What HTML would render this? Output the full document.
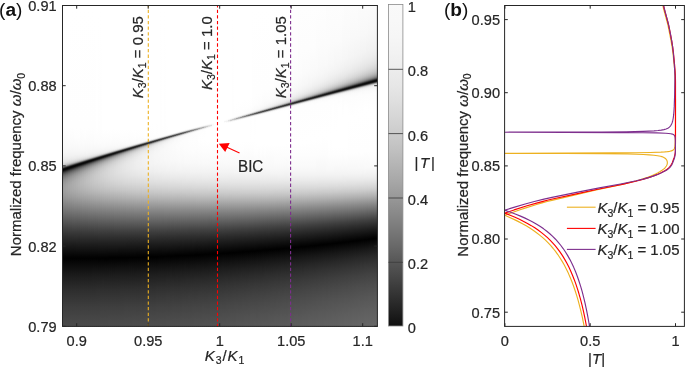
<!DOCTYPE html><html><head><meta charset="utf-8"><title>fig</title>
<style>html,body{margin:0;padding:0;background:#fff;}svg{display:block;will-change:transform;}text{font-family:"Liberation Sans",sans-serif;fill:#262626;stroke:#262626;stroke-width:0.22px;}</style></head><body>
<svg width="685" height="367" viewBox="0 0 685 367">
<defs><linearGradient id="h0" gradientUnits="userSpaceOnUse" x1="0" y1="4" x2="0" y2="328" gradientTransform="translate(63,0) skewY(-18.371) translate(-63,0)"><stop offset=".0015" stop-color="#ffffff"/><stop offset=".3750" stop-color="#fefefe"/><stop offset=".4090" stop-color="#fcfcfc"/><stop offset=".4398" stop-color="#f9f9f9"/><stop offset=".4583" stop-color="#f6f6f6"/><stop offset=".4707" stop-color="#f1f1f1"/><stop offset=".4769" stop-color="#eeeeee"/><stop offset=".4830" stop-color="#e9e9e9"/><stop offset=".4892" stop-color="#e0e0e0"/><stop offset=".4923" stop-color="#d9d9d9"/><stop offset=".4954" stop-color="#cfcfcf"/><stop offset=".4985" stop-color="#bdbdbd"/><stop offset=".5015" stop-color="#9c9c9c"/><stop offset=".5046" stop-color="#5f5f5f"/><stop offset=".5077" stop-color="#1d1d1d"/><stop offset=".5108" stop-color="#040404"/><stop offset=".5139" stop-color="#070707"/><stop offset=".5170" stop-color="#1c1c1c"/><stop offset=".5201" stop-color="#353535"/><stop offset=".5231" stop-color="#4a4a4a"/><stop offset=".5262" stop-color="#595959"/><stop offset=".5293" stop-color="#666666"/><stop offset=".5324" stop-color="#717171"/><stop offset=".5355" stop-color="#797979"/><stop offset=".5417" stop-color="#878787"/><stop offset=".5478" stop-color="#919191"/><stop offset=".5571" stop-color="#999999"/><stop offset=".5664" stop-color="#9d9d9d"/><stop offset=".5725" stop-color="#9d9d9d"/><stop offset=".5818" stop-color="#9b9b9b"/><stop offset=".5941" stop-color="#959595"/><stop offset=".6034" stop-color="#8f8f8f"/><stop offset=".6404" stop-color="#717171"/><stop offset=".6929" stop-color="#424242"/><stop offset=".7083" stop-color="#353535"/><stop offset=".7485" stop-color="#181818"/><stop offset=".7762" stop-color="#060606"/><stop offset=".7855" stop-color="#010101"/><stop offset=".8349" stop-color="#1a1a1a"/><stop offset=".8812" stop-color="#2d2d2d"/><stop offset=".9367" stop-color="#3e3e3e"/><stop offset=".9985" stop-color="#4b4b4b"/></linearGradient>
<linearGradient id="h1" gradientUnits="userSpaceOnUse" x1="0" y1="4" x2="0" y2="328" gradientTransform="translate(65,0) skewY(-18.324) translate(-65,0)"><stop offset=".0015" stop-color="#ffffff"/><stop offset=".3781" stop-color="#fefefe"/><stop offset=".4090" stop-color="#fcfcfc"/><stop offset=".4398" stop-color="#f9f9f9"/><stop offset=".4583" stop-color="#f6f6f6"/><stop offset=".4707" stop-color="#f1f1f1"/><stop offset=".4799" stop-color="#ebebeb"/><stop offset=".4861" stop-color="#e4e4e4"/><stop offset=".4892" stop-color="#dedede"/><stop offset=".4923" stop-color="#d5d5d5"/><stop offset=".4954" stop-color="#c7c7c7"/><stop offset=".4985" stop-color="#adadad"/><stop offset=".5015" stop-color="#7a7a7a"/><stop offset=".5046" stop-color="#333333"/><stop offset=".5077" stop-color="#080808"/><stop offset=".5108" stop-color="#040404"/><stop offset=".5139" stop-color="#151515"/><stop offset=".5170" stop-color="#2f2f2f"/><stop offset=".5201" stop-color="#464646"/><stop offset=".5231" stop-color="#575757"/><stop offset=".5262" stop-color="#656565"/><stop offset=".5293" stop-color="#707070"/><stop offset=".5324" stop-color="#7a7a7a"/><stop offset=".5386" stop-color="#888888"/><stop offset=".5417" stop-color="#8e8e8e"/><stop offset=".5478" stop-color="#969696"/><stop offset=".5571" stop-color="#9d9d9d"/><stop offset=".5664" stop-color="#a0a0a0"/><stop offset=".5725" stop-color="#a0a0a0"/><stop offset=".5818" stop-color="#9d9d9d"/><stop offset=".5910" stop-color="#999999"/><stop offset=".6003" stop-color="#939393"/><stop offset=".6404" stop-color="#727272"/><stop offset=".6929" stop-color="#424242"/><stop offset=".7083" stop-color="#353535"/><stop offset=".7485" stop-color="#181818"/><stop offset=".7762" stop-color="#060606"/><stop offset=".7855" stop-color="#010101"/><stop offset=".8349" stop-color="#1a1a1a"/><stop offset=".8812" stop-color="#2d2d2d"/><stop offset=".9367" stop-color="#3e3e3e"/><stop offset=".9985" stop-color="#4b4b4b"/></linearGradient>
<linearGradient id="h2" gradientUnits="userSpaceOnUse" x1="0" y1="4" x2="0" y2="328" gradientTransform="translate(67,0) skewY(-18.277) translate(-67,0)"><stop offset=".0015" stop-color="#ffffff"/><stop offset=".3781" stop-color="#fefefe"/><stop offset=".4120" stop-color="#fcfcfc"/><stop offset=".4429" stop-color="#f9f9f9"/><stop offset=".4583" stop-color="#f6f6f6"/><stop offset=".4707" stop-color="#f1f1f1"/><stop offset=".4799" stop-color="#eaeaea"/><stop offset=".4861" stop-color="#e2e2e2"/><stop offset=".4892" stop-color="#dbdbdb"/><stop offset=".4923" stop-color="#cfcfcf"/><stop offset=".4954" stop-color="#bcbcbc"/><stop offset=".4985" stop-color="#939393"/><stop offset=".5015" stop-color="#4e4e4e"/><stop offset=".5046" stop-color="#111111"/><stop offset=".5077" stop-color="#030303"/><stop offset=".5108" stop-color="#0e0e0e"/><stop offset=".5170" stop-color="#414141"/><stop offset=".5201" stop-color="#545454"/><stop offset=".5231" stop-color="#636363"/><stop offset=".5262" stop-color="#707070"/><stop offset=".5293" stop-color="#7a7a7a"/><stop offset=".5324" stop-color="#828282"/><stop offset=".5355" stop-color="#898989"/><stop offset=".5386" stop-color="#8f8f8f"/><stop offset=".5448" stop-color="#989898"/><stop offset=".5540" stop-color="#a0a0a0"/><stop offset=".5633" stop-color="#a3a3a3"/><stop offset=".5694" stop-color="#a3a3a3"/><stop offset=".5787" stop-color="#a1a1a1"/><stop offset=".5910" stop-color="#9b9b9b"/><stop offset=".6003" stop-color="#959595"/><stop offset=".6404" stop-color="#737373"/><stop offset=".6929" stop-color="#424242"/><stop offset=".7083" stop-color="#353535"/><stop offset=".7485" stop-color="#181818"/><stop offset=".7762" stop-color="#060606"/><stop offset=".7855" stop-color="#010101"/><stop offset=".8349" stop-color="#1a1a1a"/><stop offset=".8812" stop-color="#2d2d2d"/><stop offset=".9367" stop-color="#3e3e3e"/><stop offset=".9985" stop-color="#4b4b4b"/></linearGradient>
<linearGradient id="h3" gradientUnits="userSpaceOnUse" x1="0" y1="4" x2="0" y2="328" gradientTransform="translate(69,0) skewY(-18.230) translate(-69,0)"><stop offset=".0015" stop-color="#ffffff"/><stop offset=".3781" stop-color="#fefefe"/><stop offset=".4090" stop-color="#fdfdfd"/><stop offset=".4367" stop-color="#fafafa"/><stop offset=".4552" stop-color="#f6f6f6"/><stop offset=".4676" stop-color="#f2f2f2"/><stop offset=".4769" stop-color="#ededed"/><stop offset=".4830" stop-color="#e5e5e5"/><stop offset=".4861" stop-color="#dfdfdf"/><stop offset=".4892" stop-color="#d6d6d6"/><stop offset=".4923" stop-color="#c7c7c7"/><stop offset=".4954" stop-color="#a8a8a8"/><stop offset=".4985" stop-color="#6c6c6c"/><stop offset=".5015" stop-color="#232323"/><stop offset=".5046" stop-color="#050505"/><stop offset=".5077" stop-color="#090909"/><stop offset=".5108" stop-color="#202020"/><stop offset=".5139" stop-color="#3c3c3c"/><stop offset=".5170" stop-color="#515151"/><stop offset=".5201" stop-color="#626262"/><stop offset=".5231" stop-color="#6f6f6f"/><stop offset=".5262" stop-color="#7a7a7a"/><stop offset=".5293" stop-color="#838383"/><stop offset=".5355" stop-color="#919191"/><stop offset=".5417" stop-color="#9a9a9a"/><stop offset=".5509" stop-color="#a2a2a2"/><stop offset=".5602" stop-color="#a6a6a6"/><stop offset=".5664" stop-color="#a6a6a6"/><stop offset=".5756" stop-color="#a4a4a4"/><stop offset=".5849" stop-color="#a0a0a0"/><stop offset=".5972" stop-color="#999999"/><stop offset=".6373" stop-color="#767676"/><stop offset=".6929" stop-color="#434343"/><stop offset=".7083" stop-color="#363636"/><stop offset=".7485" stop-color="#181818"/><stop offset=".7762" stop-color="#060606"/><stop offset=".7855" stop-color="#010101"/><stop offset=".8349" stop-color="#1a1a1a"/><stop offset=".8812" stop-color="#2d2d2d"/><stop offset=".9367" stop-color="#3e3e3e"/><stop offset=".9985" stop-color="#4b4b4b"/></linearGradient>
<linearGradient id="h4" gradientUnits="userSpaceOnUse" x1="0" y1="4" x2="0" y2="328" gradientTransform="translate(71,0) skewY(-18.183) translate(-71,0)"><stop offset=".0015" stop-color="#ffffff"/><stop offset=".3781" stop-color="#fefefe"/><stop offset=".4120" stop-color="#fcfcfc"/><stop offset=".4398" stop-color="#f9f9f9"/><stop offset=".4552" stop-color="#f6f6f6"/><stop offset=".4676" stop-color="#f2f2f2"/><stop offset=".4738" stop-color="#eeeeee"/><stop offset=".4799" stop-color="#e8e8e8"/><stop offset=".4830" stop-color="#e3e3e3"/><stop offset=".4861" stop-color="#dcdcdc"/><stop offset=".4892" stop-color="#d0d0d0"/><stop offset=".4923" stop-color="#b9b9b9"/><stop offset=".4954" stop-color="#888888"/><stop offset=".4985" stop-color="#3c3c3c"/><stop offset=".5015" stop-color="#0a0a0a"/><stop offset=".5046" stop-color="#050505"/><stop offset=".5077" stop-color="#181818"/><stop offset=".5108" stop-color="#353535"/><stop offset=".5139" stop-color="#4d4d4d"/><stop offset=".5170" stop-color="#5f5f5f"/><stop offset=".5201" stop-color="#6e6e6e"/><stop offset=".5231" stop-color="#7a7a7a"/><stop offset=".5262" stop-color="#838383"/><stop offset=".5293" stop-color="#8b8b8b"/><stop offset=".5324" stop-color="#929292"/><stop offset=".5355" stop-color="#979797"/><stop offset=".5417" stop-color="#9f9f9f"/><stop offset=".5509" stop-color="#a6a6a6"/><stop offset=".5602" stop-color="#a9a9a9"/><stop offset=".5664" stop-color="#a9a9a9"/><stop offset=".5756" stop-color="#a7a7a7"/><stop offset=".5849" stop-color="#a2a2a2"/><stop offset=".5972" stop-color="#9a9a9a"/><stop offset=".6373" stop-color="#777777"/><stop offset=".6929" stop-color="#434343"/><stop offset=".7083" stop-color="#363636"/><stop offset=".7485" stop-color="#181818"/><stop offset=".7762" stop-color="#060606"/><stop offset=".7855" stop-color="#010101"/><stop offset=".8349" stop-color="#1a1a1a"/><stop offset=".8812" stop-color="#2d2d2d"/><stop offset=".9367" stop-color="#3e3e3e"/><stop offset=".9985" stop-color="#4c4c4c"/></linearGradient>
<linearGradient id="h5" gradientUnits="userSpaceOnUse" x1="0" y1="4" x2="0" y2="328" gradientTransform="translate(73,0) skewY(-18.136) translate(-73,0)"><stop offset=".0015" stop-color="#ffffff"/><stop offset=".3781" stop-color="#fefefe"/><stop offset=".4120" stop-color="#fcfcfc"/><stop offset=".4398" stop-color="#f9f9f9"/><stop offset=".4552" stop-color="#f6f6f6"/><stop offset=".4676" stop-color="#f2f2f2"/><stop offset=".4769" stop-color="#ebebeb"/><stop offset=".4799" stop-color="#e7e7e7"/><stop offset=".4830" stop-color="#e1e1e1"/><stop offset=".4861" stop-color="#d7d7d7"/><stop offset=".4892" stop-color="#c6c6c6"/><stop offset=".4923" stop-color="#a1a1a1"/><stop offset=".4985" stop-color="#161616"/><stop offset=".5015" stop-color="#040404"/><stop offset=".5046" stop-color="#101010"/><stop offset=".5108" stop-color="#484848"/><stop offset=".5139" stop-color="#5d5d5d"/><stop offset=".5170" stop-color="#6c6c6c"/><stop offset=".5201" stop-color="#797979"/><stop offset=".5231" stop-color="#838383"/><stop offset=".5262" stop-color="#8c8c8c"/><stop offset=".5293" stop-color="#939393"/><stop offset=".5324" stop-color="#999999"/><stop offset=".5386" stop-color="#a1a1a1"/><stop offset=".5478" stop-color="#a9a9a9"/><stop offset=".5571" stop-color="#acacac"/><stop offset=".5664" stop-color="#ababab"/><stop offset=".5756" stop-color="#a9a9a9"/><stop offset=".5849" stop-color="#a4a4a4"/><stop offset=".5972" stop-color="#9c9c9c"/><stop offset=".6373" stop-color="#787878"/><stop offset=".7052" stop-color="#393939"/><stop offset=".7454" stop-color="#1a1a1a"/><stop offset=".7762" stop-color="#060606"/><stop offset=".7855" stop-color="#010101"/><stop offset=".8349" stop-color="#1a1a1a"/><stop offset=".8812" stop-color="#2d2d2d"/><stop offset=".9367" stop-color="#3e3e3e"/><stop offset=".9985" stop-color="#4c4c4c"/></linearGradient>
<linearGradient id="h6" gradientUnits="userSpaceOnUse" x1="0" y1="4" x2="0" y2="328" gradientTransform="translate(75,0) skewY(-18.088) translate(-75,0)"><stop offset=".0015" stop-color="#ffffff"/><stop offset=".3781" stop-color="#fefefe"/><stop offset=".4090" stop-color="#fdfdfd"/><stop offset=".4336" stop-color="#fafafa"/><stop offset=".4522" stop-color="#f7f7f7"/><stop offset=".4645" stop-color="#f3f3f3"/><stop offset=".4738" stop-color="#ededed"/><stop offset=".4769" stop-color="#eaeaea"/><stop offset=".4799" stop-color="#e5e5e5"/><stop offset=".4830" stop-color="#dddddd"/><stop offset=".4861" stop-color="#d0d0d0"/><stop offset=".4892" stop-color="#b5b5b5"/><stop offset=".4923" stop-color="#7a7a7a"/><stop offset=".4954" stop-color="#2b2b2b"/><stop offset=".4985" stop-color="#060606"/><stop offset=".5015" stop-color="#090909"/><stop offset=".5046" stop-color="#242424"/><stop offset=".5077" stop-color="#424242"/><stop offset=".5108" stop-color="#595959"/><stop offset=".5139" stop-color="#6a6a6a"/><stop offset=".5170" stop-color="#787878"/><stop offset=".5201" stop-color="#838383"/><stop offset=".5231" stop-color="#8d8d8d"/><stop offset=".5262" stop-color="#949494"/><stop offset=".5293" stop-color="#9a9a9a"/><stop offset=".5355" stop-color="#a3a3a3"/><stop offset=".5448" stop-color="#ababab"/><stop offset=".5540" stop-color="#aeaeae"/><stop offset=".5633" stop-color="#aeaeae"/><stop offset=".5725" stop-color="#acacac"/><stop offset=".5818" stop-color="#a7a7a7"/><stop offset=".5941" stop-color="#9f9f9f"/><stop offset=".6127" stop-color="#909090"/><stop offset=".7052" stop-color="#393939"/><stop offset=".7454" stop-color="#1a1a1a"/><stop offset=".7762" stop-color="#060606"/><stop offset=".7855" stop-color="#010101"/><stop offset=".8349" stop-color="#1a1a1a"/><stop offset=".8812" stop-color="#2d2d2d"/><stop offset=".9367" stop-color="#3e3e3e"/><stop offset=".9985" stop-color="#4c4c4c"/></linearGradient>
<linearGradient id="h7" gradientUnits="userSpaceOnUse" x1="0" y1="4" x2="0" y2="328" gradientTransform="translate(77,0) skewY(-18.041) translate(-77,0)"><stop offset=".0015" stop-color="#ffffff"/><stop offset=".3781" stop-color="#fefefe"/><stop offset=".4120" stop-color="#fdfdfd"/><stop offset=".4336" stop-color="#fafafa"/><stop offset=".4522" stop-color="#f7f7f7"/><stop offset=".4645" stop-color="#f3f3f3"/><stop offset=".4738" stop-color="#ececec"/><stop offset=".4769" stop-color="#e8e8e8"/><stop offset=".4799" stop-color="#e2e2e2"/><stop offset=".4830" stop-color="#d8d8d8"/><stop offset=".4861" stop-color="#c4c4c4"/><stop offset=".4892" stop-color="#979797"/><stop offset=".4923" stop-color="#484848"/><stop offset=".4954" stop-color="#0d0d0d"/><stop offset=".4985" stop-color="#060606"/><stop offset=".5015" stop-color="#1a1a1a"/><stop offset=".5046" stop-color="#3b3b3b"/><stop offset=".5077" stop-color="#555555"/><stop offset=".5108" stop-color="#686868"/><stop offset=".5139" stop-color="#777777"/><stop offset=".5170" stop-color="#838383"/><stop offset=".5201" stop-color="#8d8d8d"/><stop offset=".5231" stop-color="#959595"/><stop offset=".5262" stop-color="#9b9b9b"/><stop offset=".5324" stop-color="#a5a5a5"/><stop offset=".5417" stop-color="#adadad"/><stop offset=".5509" stop-color="#b1b1b1"/><stop offset=".5602" stop-color="#b1b1b1"/><stop offset=".5725" stop-color="#aeaeae"/><stop offset=".5818" stop-color="#a9a9a9"/><stop offset=".5941" stop-color="#a1a1a1"/><stop offset=".6096" stop-color="#939393"/><stop offset=".6929" stop-color="#444444"/><stop offset=".7052" stop-color="#393939"/><stop offset=".7454" stop-color="#1b1b1b"/><stop offset=".7762" stop-color="#060606"/><stop offset=".7855" stop-color="#010101"/><stop offset=".8349" stop-color="#1a1a1a"/><stop offset=".8812" stop-color="#2d2d2d"/><stop offset=".9367" stop-color="#3e3e3e"/><stop offset=".9985" stop-color="#4c4c4c"/></linearGradient>
<linearGradient id="h8" gradientUnits="userSpaceOnUse" x1="0" y1="4" x2="0" y2="328" gradientTransform="translate(79,0) skewY(-17.994) translate(-79,0)"><stop offset=".0015" stop-color="#ffffff"/><stop offset=".3812" stop-color="#fefefe"/><stop offset=".4120" stop-color="#fdfdfd"/><stop offset=".4367" stop-color="#fafafa"/><stop offset=".4522" stop-color="#f7f7f7"/><stop offset=".4645" stop-color="#f3f3f3"/><stop offset=".4707" stop-color="#eeeeee"/><stop offset=".4738" stop-color="#ebebeb"/><stop offset=".4769" stop-color="#e6e6e6"/><stop offset=".4799" stop-color="#dedede"/><stop offset=".4830" stop-color="#d0d0d0"/><stop offset=".4861" stop-color="#afafaf"/><stop offset=".4892" stop-color="#6a6a6a"/><stop offset=".4923" stop-color="#1c1c1c"/><stop offset=".4954" stop-color="#050505"/><stop offset=".4985" stop-color="#111111"/><stop offset=".5015" stop-color="#323232"/><stop offset=".5046" stop-color="#505050"/><stop offset=".5077" stop-color="#656565"/><stop offset=".5108" stop-color="#757575"/><stop offset=".5139" stop-color="#828282"/><stop offset=".5170" stop-color="#8d8d8d"/><stop offset=".5201" stop-color="#969696"/><stop offset=".5231" stop-color="#9c9c9c"/><stop offset=".5262" stop-color="#a2a2a2"/><stop offset=".5324" stop-color="#aaaaaa"/><stop offset=".5417" stop-color="#b1b1b1"/><stop offset=".5509" stop-color="#b4b4b4"/><stop offset=".5602" stop-color="#b4b4b4"/><stop offset=".5725" stop-color="#b0b0b0"/><stop offset=".5818" stop-color="#ababab"/><stop offset=".5941" stop-color="#a2a2a2"/><stop offset=".6065" stop-color="#979797"/><stop offset=".6929" stop-color="#444444"/><stop offset=".7052" stop-color="#393939"/><stop offset=".7238" stop-color="#2a2a2a"/><stop offset=".7454" stop-color="#1b1b1b"/><stop offset=".7762" stop-color="#060606"/><stop offset=".7855" stop-color="#010101"/><stop offset=".8349" stop-color="#1a1a1a"/><stop offset=".8812" stop-color="#2d2d2d"/><stop offset=".9367" stop-color="#3e3e3e"/><stop offset=".9985" stop-color="#4c4c4c"/></linearGradient>
<linearGradient id="h9" gradientUnits="userSpaceOnUse" x1="0" y1="4" x2="0" y2="328" gradientTransform="translate(81,0) skewY(-17.947) translate(-81,0)"><stop offset=".0015" stop-color="#ffffff"/><stop offset=".3781" stop-color="#fefefe"/><stop offset=".4275" stop-color="#fbfbfb"/><stop offset=".4491" stop-color="#f8f8f8"/><stop offset=".4614" stop-color="#f4f4f4"/><stop offset=".4707" stop-color="#eeeeee"/><stop offset=".4738" stop-color="#e9e9e9"/><stop offset=".4769" stop-color="#e3e3e3"/><stop offset=".4799" stop-color="#d9d9d9"/><stop offset=".4830" stop-color="#c1c1c1"/><stop offset=".4861" stop-color="#8a8a8a"/><stop offset=".4892" stop-color="#353535"/><stop offset=".4923" stop-color="#080808"/><stop offset=".4954" stop-color="#0a0a0a"/><stop offset=".4985" stop-color="#272727"/><stop offset=".5015" stop-color="#494949"/><stop offset=".5046" stop-color="#616161"/><stop offset=".5077" stop-color="#737373"/><stop offset=".5108" stop-color="#828282"/><stop offset=".5139" stop-color="#8d8d8d"/><stop offset=".5170" stop-color="#969696"/><stop offset=".5201" stop-color="#9d9d9d"/><stop offset=".5231" stop-color="#a3a3a3"/><stop offset=".5293" stop-color="#acacac"/><stop offset=".5386" stop-color="#b4b4b4"/><stop offset=".5478" stop-color="#b7b7b7"/><stop offset=".5571" stop-color="#b7b7b7"/><stop offset=".5694" stop-color="#b3b3b3"/><stop offset=".5787" stop-color="#aeaeae"/><stop offset=".5910" stop-color="#a6a6a6"/><stop offset=".6065" stop-color="#989898"/><stop offset=".6929" stop-color="#454545"/><stop offset=".7052" stop-color="#393939"/><stop offset=".7238" stop-color="#2b2b2b"/><stop offset=".7454" stop-color="#1b1b1b"/><stop offset=".7762" stop-color="#060606"/><stop offset=".7855" stop-color="#010101"/><stop offset=".8349" stop-color="#1a1a1a"/><stop offset=".8812" stop-color="#2d2d2d"/><stop offset=".9367" stop-color="#3e3e3e"/><stop offset=".9985" stop-color="#4c4c4c"/></linearGradient>
<linearGradient id="h10" gradientUnits="userSpaceOnUse" x1="0" y1="4" x2="0" y2="328" gradientTransform="translate(83,0) skewY(-17.899) translate(-83,0)"><stop offset=".0015" stop-color="#ffffff"/><stop offset=".3812" stop-color="#fefefe"/><stop offset=".4306" stop-color="#fbfbfb"/><stop offset=".4491" stop-color="#f8f8f8"/><stop offset=".4614" stop-color="#f4f4f4"/><stop offset=".4676" stop-color="#f0f0f0"/><stop offset=".4707" stop-color="#ececec"/><stop offset=".4738" stop-color="#e7e7e7"/><stop offset=".4769" stop-color="#dfdfdf"/><stop offset=".4799" stop-color="#cfcfcf"/><stop offset=".4830" stop-color="#a7a7a7"/><stop offset=".4861" stop-color="#575757"/><stop offset=".4892" stop-color="#111111"/><stop offset=".4923" stop-color="#060606"/><stop offset=".4954" stop-color="#1d1d1d"/><stop offset=".4985" stop-color="#404040"/><stop offset=".5015" stop-color="#5d5d5d"/><stop offset=".5046" stop-color="#717171"/><stop offset=".5077" stop-color="#808080"/><stop offset=".5108" stop-color="#8d8d8d"/><stop offset=".5139" stop-color="#969696"/><stop offset=".5170" stop-color="#9e9e9e"/><stop offset=".5201" stop-color="#a5a5a5"/><stop offset=".5262" stop-color="#aeaeae"/><stop offset=".5355" stop-color="#b6b6b6"/><stop offset=".5448" stop-color="#b9b9b9"/><stop offset=".5540" stop-color="#b9b9b9"/><stop offset=".5664" stop-color="#b6b6b6"/><stop offset=".5787" stop-color="#b0b0b0"/><stop offset=".5910" stop-color="#a7a7a7"/><stop offset=".6065" stop-color="#9a9a9a"/><stop offset=".6929" stop-color="#454545"/><stop offset=".7052" stop-color="#3a3a3a"/><stop offset=".7238" stop-color="#2b2b2b"/><stop offset=".7454" stop-color="#1b1b1b"/><stop offset=".7762" stop-color="#060606"/><stop offset=".7855" stop-color="#010101"/><stop offset=".8349" stop-color="#1a1a1a"/><stop offset=".8812" stop-color="#2d2d2d"/><stop offset=".9367" stop-color="#3e3e3e"/><stop offset=".9985" stop-color="#4c4c4c"/></linearGradient>
<linearGradient id="h11" gradientUnits="userSpaceOnUse" x1="0" y1="4" x2="0" y2="328" gradientTransform="translate(85,0) skewY(-17.852) translate(-85,0)"><stop offset=".0015" stop-color="#ffffff"/><stop offset=".3812" stop-color="#fefefe"/><stop offset=".4120" stop-color="#fdfdfd"/><stop offset=".4336" stop-color="#fafafa"/><stop offset=".4522" stop-color="#f7f7f7"/><stop offset=".4614" stop-color="#f3f3f3"/><stop offset=".4676" stop-color="#efefef"/><stop offset=".4707" stop-color="#ebebeb"/><stop offset=".4738" stop-color="#e4e4e4"/><stop offset=".4769" stop-color="#d9d9d9"/><stop offset=".4799" stop-color="#bdbdbd"/><stop offset=".4830" stop-color="#7b7b7b"/><stop offset=".4861" stop-color="#252525"/><stop offset=".4892" stop-color="#060606"/><stop offset=".4923" stop-color="#131313"/><stop offset=".4954" stop-color="#363636"/><stop offset=".4985" stop-color="#575757"/><stop offset=".5015" stop-color="#6e6e6e"/><stop offset=".5046" stop-color="#7f7f7f"/><stop offset=".5077" stop-color="#8c8c8c"/><stop offset=".5108" stop-color="#969696"/><stop offset=".5139" stop-color="#9f9f9f"/><stop offset=".5170" stop-color="#a6a6a6"/><stop offset=".5201" stop-color="#ababab"/><stop offset=".5262" stop-color="#b3b3b3"/><stop offset=".5355" stop-color="#bababa"/><stop offset=".5448" stop-color="#bcbcbc"/><stop offset=".5540" stop-color="#bcbcbc"/><stop offset=".5664" stop-color="#b8b8b8"/><stop offset=".5756" stop-color="#b3b3b3"/><stop offset=".5880" stop-color="#ababab"/><stop offset=".6034" stop-color="#9d9d9d"/><stop offset=".6929" stop-color="#454545"/><stop offset=".7052" stop-color="#3a3a3a"/><stop offset=".7238" stop-color="#2b2b2b"/><stop offset=".7454" stop-color="#1b1b1b"/><stop offset=".7762" stop-color="#060606"/><stop offset=".7855" stop-color="#010101"/><stop offset=".8349" stop-color="#1a1a1a"/><stop offset=".8812" stop-color="#2d2d2d"/><stop offset=".9367" stop-color="#3e3e3e"/><stop offset=".9985" stop-color="#4c4c4c"/></linearGradient>
<linearGradient id="h12" gradientUnits="userSpaceOnUse" x1="0" y1="4" x2="0" y2="328" gradientTransform="translate(87,0) skewY(-17.805) translate(-87,0)"><stop offset=".0015" stop-color="#ffffff"/><stop offset=".3812" stop-color="#fefefe"/><stop offset=".4275" stop-color="#fbfbfb"/><stop offset=".4460" stop-color="#f8f8f8"/><stop offset=".4583" stop-color="#f5f5f5"/><stop offset=".4645" stop-color="#f1f1f1"/><stop offset=".4676" stop-color="#eeeeee"/><stop offset=".4707" stop-color="#e9e9e9"/><stop offset=".4738" stop-color="#e0e0e0"/><stop offset=".4769" stop-color="#cdcdcd"/><stop offset=".4799" stop-color="#9c9c9c"/><stop offset=".4830" stop-color="#434343"/><stop offset=".4861" stop-color="#0a0a0a"/><stop offset=".4892" stop-color="#0b0b0b"/><stop offset=".4923" stop-color="#2b2b2b"/><stop offset=".4954" stop-color="#505050"/><stop offset=".4985" stop-color="#6a6a6a"/><stop offset=".5015" stop-color="#7d7d7d"/><stop offset=".5046" stop-color="#8b8b8b"/><stop offset=".5077" stop-color="#969696"/><stop offset=".5108" stop-color="#9f9f9f"/><stop offset=".5139" stop-color="#a7a7a7"/><stop offset=".5170" stop-color="#acacac"/><stop offset=".5231" stop-color="#b5b5b5"/><stop offset=".5324" stop-color="#bcbcbc"/><stop offset=".5417" stop-color="#bfbfbf"/><stop offset=".5509" stop-color="#bfbfbf"/><stop offset=".5633" stop-color="#bbbbbb"/><stop offset=".5756" stop-color="#b5b5b5"/><stop offset=".5849" stop-color="#aeaeae"/><stop offset=".6034" stop-color="#9e9e9e"/><stop offset=".6929" stop-color="#454545"/><stop offset=".7052" stop-color="#3a3a3a"/><stop offset=".7238" stop-color="#2b2b2b"/><stop offset=".7454" stop-color="#1b1b1b"/><stop offset=".7762" stop-color="#060606"/><stop offset=".7855" stop-color="#010101"/><stop offset=".8349" stop-color="#1a1a1a"/><stop offset=".8812" stop-color="#2d2d2d"/><stop offset=".9367" stop-color="#3e3e3e"/><stop offset=".9985" stop-color="#4c4c4c"/></linearGradient>
<linearGradient id="h13" gradientUnits="userSpaceOnUse" x1="0" y1="4" x2="0" y2="328" gradientTransform="translate(89,0) skewY(-17.757) translate(-89,0)"><stop offset=".0015" stop-color="#ffffff"/><stop offset=".3812" stop-color="#fefefe"/><stop offset=".4275" stop-color="#fbfbfb"/><stop offset=".4460" stop-color="#f8f8f8"/><stop offset=".4583" stop-color="#f4f4f4"/><stop offset=".4645" stop-color="#f0f0f0"/><stop offset=".4676" stop-color="#ececec"/><stop offset=".4707" stop-color="#e6e6e6"/><stop offset=".4738" stop-color="#d9d9d9"/><stop offset=".4769" stop-color="#b6b6b6"/><stop offset=".4799" stop-color="#696969"/><stop offset=".4830" stop-color="#171717"/><stop offset=".4861" stop-color="#070707"/><stop offset=".4892" stop-color="#1f1f1f"/><stop offset=".4923" stop-color="#464646"/><stop offset=".4954" stop-color="#656565"/><stop offset=".4985" stop-color="#7a7a7a"/><stop offset=".5015" stop-color="#8a8a8a"/><stop offset=".5046" stop-color="#969696"/><stop offset=".5077" stop-color="#a0a0a0"/><stop offset=".5108" stop-color="#a7a7a7"/><stop offset=".5139" stop-color="#aeaeae"/><stop offset=".5201" stop-color="#b7b7b7"/><stop offset=".5293" stop-color="#bebebe"/><stop offset=".5386" stop-color="#c1c1c1"/><stop offset=".5478" stop-color="#c1c1c1"/><stop offset=".5602" stop-color="#bebebe"/><stop offset=".5725" stop-color="#b8b8b8"/><stop offset=".5818" stop-color="#b2b2b2"/><stop offset=".6034" stop-color="#9f9f9f"/><stop offset=".6929" stop-color="#464646"/><stop offset=".7052" stop-color="#3a3a3a"/><stop offset=".7238" stop-color="#2b2b2b"/><stop offset=".7454" stop-color="#1b1b1b"/><stop offset=".7762" stop-color="#060606"/><stop offset=".7855" stop-color="#010101"/><stop offset=".8349" stop-color="#1a1a1a"/><stop offset=".8812" stop-color="#2d2d2d"/><stop offset=".9367" stop-color="#3e3e3e"/><stop offset=".9985" stop-color="#4c4c4c"/></linearGradient>
<linearGradient id="h14" gradientUnits="userSpaceOnUse" x1="0" y1="4" x2="0" y2="328" gradientTransform="translate(91,0) skewY(-17.710) translate(-91,0)"><stop offset=".0015" stop-color="#ffffff"/><stop offset=".3812" stop-color="#fefefe"/><stop offset=".4306" stop-color="#fbfbfb"/><stop offset=".4491" stop-color="#f8f8f8"/><stop offset=".4583" stop-color="#f4f4f4"/><stop offset=".4645" stop-color="#efefef"/><stop offset=".4676" stop-color="#eaeaea"/><stop offset=".4707" stop-color="#e1e1e1"/><stop offset=".4738" stop-color="#cacaca"/><stop offset=".4769" stop-color="#8e8e8e"/><stop offset=".4799" stop-color="#313131"/><stop offset=".4830" stop-color="#070707"/><stop offset=".4861" stop-color="#131313"/><stop offset=".4892" stop-color="#3b3b3b"/><stop offset=".4923" stop-color="#5e5e5e"/><stop offset=".4954" stop-color="#777777"/><stop offset=".4985" stop-color="#888888"/><stop offset=".5015" stop-color="#959595"/><stop offset=".5046" stop-color="#a0a0a0"/><stop offset=".5077" stop-color="#a8a8a8"/><stop offset=".5108" stop-color="#afafaf"/><stop offset=".5170" stop-color="#b8b8b8"/><stop offset=".5262" stop-color="#c0c0c0"/><stop offset=".5355" stop-color="#c3c3c3"/><stop offset=".5448" stop-color="#c4c4c4"/><stop offset=".5571" stop-color="#c1c1c1"/><stop offset=".5694" stop-color="#bbbbbb"/><stop offset=".5818" stop-color="#b3b3b3"/><stop offset=".6034" stop-color="#a0a0a0"/><stop offset=".6929" stop-color="#464646"/><stop offset=".7052" stop-color="#3a3a3a"/><stop offset=".7238" stop-color="#2b2b2b"/><stop offset=".7454" stop-color="#1b1b1b"/><stop offset=".7762" stop-color="#060606"/><stop offset=".7855" stop-color="#010101"/><stop offset=".8349" stop-color="#1a1a1a"/><stop offset=".8812" stop-color="#2d2d2d"/><stop offset=".9367" stop-color="#3e3e3e"/><stop offset=".9985" stop-color="#4c4c4c"/></linearGradient>
<linearGradient id="h15" gradientUnits="userSpaceOnUse" x1="0" y1="4" x2="0" y2="328" gradientTransform="translate(93,0) skewY(-17.663) translate(-93,0)"><stop offset=".0015" stop-color="#ffffff"/><stop offset=".3812" stop-color="#fefefe"/><stop offset=".4275" stop-color="#fbfbfb"/><stop offset=".4460" stop-color="#f8f8f8"/><stop offset=".4552" stop-color="#f5f5f5"/><stop offset=".4614" stop-color="#f1f1f1"/><stop offset=".4645" stop-color="#ededed"/><stop offset=".4676" stop-color="#e7e7e7"/><stop offset=".4707" stop-color="#d8d8d8"/><stop offset=".4738" stop-color="#adadad"/><stop offset=".4769" stop-color="#555555"/><stop offset=".4799" stop-color="#0f0f0f"/><stop offset=".4830" stop-color="#0b0b0b"/><stop offset=".4861" stop-color="#2e2e2e"/><stop offset=".4892" stop-color="#565656"/><stop offset=".4923" stop-color="#727272"/><stop offset=".4954" stop-color="#868686"/><stop offset=".4985" stop-color="#949494"/><stop offset=".5015" stop-color="#a0a0a0"/><stop offset=".5046" stop-color="#a9a9a9"/><stop offset=".5077" stop-color="#b0b0b0"/><stop offset=".5108" stop-color="#b5b5b5"/><stop offset=".5170" stop-color="#bdbdbd"/><stop offset=".5262" stop-color="#c4c4c4"/><stop offset=".5355" stop-color="#c6c6c6"/><stop offset=".5448" stop-color="#c6c6c6"/><stop offset=".5571" stop-color="#c3c3c3"/><stop offset=".5694" stop-color="#bdbdbd"/><stop offset=".5818" stop-color="#b4b4b4"/><stop offset=".6034" stop-color="#a1a1a1"/><stop offset=".6929" stop-color="#464646"/><stop offset=".7052" stop-color="#3a3a3a"/><stop offset=".7238" stop-color="#2b2b2b"/><stop offset=".7454" stop-color="#1b1b1b"/><stop offset=".7762" stop-color="#060606"/><stop offset=".7855" stop-color="#010101"/><stop offset=".8349" stop-color="#1b1b1b"/><stop offset=".8812" stop-color="#2d2d2d"/><stop offset=".9367" stop-color="#3e3e3e"/><stop offset=".9985" stop-color="#4c4c4c"/></linearGradient>
<linearGradient id="h16" gradientUnits="userSpaceOnUse" x1="0" y1="4" x2="0" y2="328" gradientTransform="translate(95,0) skewY(-17.615) translate(-95,0)"><stop offset=".0015" stop-color="#ffffff"/><stop offset=".3843" stop-color="#fefefe"/><stop offset=".4275" stop-color="#fcfcfc"/><stop offset=".4460" stop-color="#f8f8f8"/><stop offset=".4552" stop-color="#f5f5f5"/><stop offset=".4614" stop-color="#f0f0f0"/><stop offset=".4645" stop-color="#ebebeb"/><stop offset=".4676" stop-color="#e1e1e1"/><stop offset=".4707" stop-color="#c5c5c5"/><stop offset=".4738" stop-color="#7d7d7d"/><stop offset=".4769" stop-color="#212121"/><stop offset=".4799" stop-color="#080808"/><stop offset=".4830" stop-color="#202020"/><stop offset=".4861" stop-color="#4c4c4c"/><stop offset=".4892" stop-color="#6d6d6d"/><stop offset=".4923" stop-color="#838383"/><stop offset=".4954" stop-color="#939393"/><stop offset=".4985" stop-color="#9f9f9f"/><stop offset=".5015" stop-color="#a9a9a9"/><stop offset=".5046" stop-color="#b0b0b0"/><stop offset=".5108" stop-color="#bbbbbb"/><stop offset=".5139" stop-color="#bfbfbf"/><stop offset=".5201" stop-color="#c4c4c4"/><stop offset=".5262" stop-color="#c7c7c7"/><stop offset=".5324" stop-color="#c9c9c9"/><stop offset=".5417" stop-color="#c9c9c9"/><stop offset=".5540" stop-color="#c6c6c6"/><stop offset=".5664" stop-color="#c0c0c0"/><stop offset=".5787" stop-color="#b8b8b8"/><stop offset=".6034" stop-color="#a2a2a2"/><stop offset=".6620" stop-color="#656565"/><stop offset=".7052" stop-color="#3b3b3b"/><stop offset=".7238" stop-color="#2b2b2b"/><stop offset=".7454" stop-color="#1b1b1b"/><stop offset=".7762" stop-color="#060606"/><stop offset=".7855" stop-color="#010101"/><stop offset=".8349" stop-color="#1b1b1b"/><stop offset=".8812" stop-color="#2d2d2d"/><stop offset=".9367" stop-color="#3e3e3e"/><stop offset=".9985" stop-color="#4c4c4c"/></linearGradient>
<linearGradient id="h17" gradientUnits="userSpaceOnUse" x1="0" y1="4" x2="0" y2="328" gradientTransform="translate(97,0) skewY(-17.568) translate(-97,0)"><stop offset=".0015" stop-color="#ffffff"/><stop offset=".3812" stop-color="#ffffff"/><stop offset=".4244" stop-color="#fcfcfc"/><stop offset=".4429" stop-color="#f9f9f9"/><stop offset=".4522" stop-color="#f6f6f6"/><stop offset=".4583" stop-color="#f2f2f2"/><stop offset=".4614" stop-color="#eeeeee"/><stop offset=".4645" stop-color="#e7e7e7"/><stop offset=".4676" stop-color="#d6d6d6"/><stop offset=".4707" stop-color="#a1a1a1"/><stop offset=".4738" stop-color="#404040"/><stop offset=".4769" stop-color="#0a0a0a"/><stop offset=".4799" stop-color="#141414"/><stop offset=".4830" stop-color="#3f3f3f"/><stop offset=".4861" stop-color="#666666"/><stop offset=".4892" stop-color="#7f7f7f"/><stop offset=".4923" stop-color="#919191"/><stop offset=".4954" stop-color="#9f9f9f"/><stop offset=".4985" stop-color="#a9a9a9"/><stop offset=".5015" stop-color="#b1b1b1"/><stop offset=".5077" stop-color="#bcbcbc"/><stop offset=".5108" stop-color="#c0c0c0"/><stop offset=".5170" stop-color="#c6c6c6"/><stop offset=".5231" stop-color="#c9c9c9"/><stop offset=".5293" stop-color="#cbcbcb"/><stop offset=".5386" stop-color="#cbcbcb"/><stop offset=".5509" stop-color="#c8c8c8"/><stop offset=".5664" stop-color="#c1c1c1"/><stop offset=".5787" stop-color="#b9b9b9"/><stop offset=".6034" stop-color="#a3a3a3"/><stop offset=".6590" stop-color="#696969"/><stop offset=".6929" stop-color="#464646"/><stop offset=".7052" stop-color="#3b3b3b"/><stop offset=".7238" stop-color="#2b2b2b"/><stop offset=".7454" stop-color="#1b1b1b"/><stop offset=".7762" stop-color="#060606"/><stop offset=".7824" stop-color="#020202"/><stop offset=".7855" stop-color="#010101"/><stop offset=".8349" stop-color="#1b1b1b"/><stop offset=".8812" stop-color="#2e2e2e"/><stop offset=".9367" stop-color="#3e3e3e"/><stop offset=".9985" stop-color="#4c4c4c"/></linearGradient>
<linearGradient id="h18" gradientUnits="userSpaceOnUse" x1="0" y1="4" x2="0" y2="328" gradientTransform="translate(99,0) skewY(-17.520) translate(-99,0)"><stop offset=".0015" stop-color="#ffffff"/><stop offset=".3843" stop-color="#fefefe"/><stop offset=".4275" stop-color="#fcfcfc"/><stop offset=".4429" stop-color="#f9f9f9"/><stop offset=".4522" stop-color="#f6f6f6"/><stop offset=".4583" stop-color="#f1f1f1"/><stop offset=".4614" stop-color="#ececec"/><stop offset=".4645" stop-color="#e1e1e1"/><stop offset=".4676" stop-color="#bebebe"/><stop offset=".4738" stop-color="#151515"/><stop offset=".4769" stop-color="#0b0b0b"/><stop offset=".4799" stop-color="#303030"/><stop offset=".4830" stop-color="#5d5d5d"/><stop offset=".4861" stop-color="#7b7b7b"/><stop offset=".4892" stop-color="#8f8f8f"/><stop offset=".4923" stop-color="#9e9e9e"/><stop offset=".4954" stop-color="#a9a9a9"/><stop offset=".4985" stop-color="#b2b2b2"/><stop offset=".5015" stop-color="#b8b8b8"/><stop offset=".5077" stop-color="#c2c2c2"/><stop offset=".5170" stop-color="#cacaca"/><stop offset=".5231" stop-color="#cccccc"/><stop offset=".5293" stop-color="#cdcdcd"/><stop offset=".5386" stop-color="#cdcdcd"/><stop offset=".5509" stop-color="#cacaca"/><stop offset=".5664" stop-color="#c2c2c2"/><stop offset=".5787" stop-color="#bababa"/><stop offset=".6034" stop-color="#a3a3a3"/><stop offset=".6312" stop-color="#868686"/><stop offset=".7022" stop-color="#3e3e3e"/><stop offset=".7361" stop-color="#222222"/><stop offset=".7824" stop-color="#020202"/><stop offset=".7855" stop-color="#010101"/><stop offset=".7886" stop-color="#020202"/><stop offset=".8349" stop-color="#1b1b1b"/><stop offset=".8596" stop-color="#252525"/><stop offset=".8843" stop-color="#2f2f2f"/><stop offset=".9367" stop-color="#3e3e3e"/><stop offset=".9985" stop-color="#4c4c4c"/></linearGradient>
<linearGradient id="h19" gradientUnits="userSpaceOnUse" x1="0" y1="4" x2="0" y2="328" gradientTransform="translate(101,0) skewY(-17.473) translate(-101,0)"><stop offset=".0015" stop-color="#ffffff"/><stop offset=".3843" stop-color="#fefefe"/><stop offset=".4275" stop-color="#fcfcfc"/><stop offset=".4429" stop-color="#f9f9f9"/><stop offset=".4522" stop-color="#f5f5f5"/><stop offset=".4552" stop-color="#f3f3f3"/><stop offset=".4583" stop-color="#efefef"/><stop offset=".4614" stop-color="#e8e8e8"/><stop offset=".4645" stop-color="#d2d2d2"/><stop offset=".4676" stop-color="#929292"/><stop offset=".4707" stop-color="#2e2e2e"/><stop offset=".4738" stop-color="#090909"/><stop offset=".4769" stop-color="#202020"/><stop offset=".4799" stop-color="#515151"/><stop offset=".4830" stop-color="#757575"/><stop offset=".4861" stop-color="#8c8c8c"/><stop offset=".4892" stop-color="#9c9c9c"/><stop offset=".4923" stop-color="#a8a8a8"/><stop offset=".4954" stop-color="#b2b2b2"/><stop offset=".4985" stop-color="#b9b9b9"/><stop offset=".5046" stop-color="#c3c3c3"/><stop offset=".5077" stop-color="#c7c7c7"/><stop offset=".5139" stop-color="#cccccc"/><stop offset=".5201" stop-color="#cecece"/><stop offset=".5262" stop-color="#d0d0d0"/><stop offset=".5386" stop-color="#cfcfcf"/><stop offset=".5509" stop-color="#cbcbcb"/><stop offset=".5664" stop-color="#c4c4c4"/><stop offset=".5787" stop-color="#bbbbbb"/><stop offset=".6034" stop-color="#a4a4a4"/><stop offset=".6312" stop-color="#868686"/><stop offset=".7022" stop-color="#3e3e3e"/><stop offset=".7361" stop-color="#222222"/><stop offset=".7824" stop-color="#020202"/><stop offset=".7855" stop-color="#010101"/><stop offset=".8349" stop-color="#1b1b1b"/><stop offset=".8596" stop-color="#252525"/><stop offset=".8843" stop-color="#2f2f2f"/><stop offset=".9367" stop-color="#3f3f3f"/><stop offset=".9985" stop-color="#4c4c4c"/></linearGradient>
<linearGradient id="h20" gradientUnits="userSpaceOnUse" x1="0" y1="4" x2="0" y2="328" gradientTransform="translate(103,0) skewY(-17.425) translate(-103,0)"><stop offset=".0015" stop-color="#ffffff"/><stop offset=".3843" stop-color="#ffffff"/><stop offset=".4244" stop-color="#fcfcfc"/><stop offset=".4398" stop-color="#fafafa"/><stop offset=".4491" stop-color="#f7f7f7"/><stop offset=".4552" stop-color="#f2f2f2"/><stop offset=".4583" stop-color="#ededed"/><stop offset=".4614" stop-color="#e0e0e0"/><stop offset=".4645" stop-color="#b5b5b5"/><stop offset=".4676" stop-color="#555555"/><stop offset=".4707" stop-color="#0e0e0e"/><stop offset=".4738" stop-color="#131313"/><stop offset=".4769" stop-color="#424242"/><stop offset=".4799" stop-color="#6d6d6d"/><stop offset=".4830" stop-color="#888888"/><stop offset=".4861" stop-color="#9a9a9a"/><stop offset=".4892" stop-color="#a8a8a8"/><stop offset=".4923" stop-color="#b2b2b2"/><stop offset=".4954" stop-color="#bababa"/><stop offset=".5015" stop-color="#c5c5c5"/><stop offset=".5046" stop-color="#c8c8c8"/><stop offset=".5108" stop-color="#cdcdcd"/><stop offset=".5170" stop-color="#d0d0d0"/><stop offset=".5231" stop-color="#d2d2d2"/><stop offset=".5355" stop-color="#d1d1d1"/><stop offset=".5478" stop-color="#cecece"/><stop offset=".5633" stop-color="#c6c6c6"/><stop offset=".5787" stop-color="#bcbcbc"/><stop offset=".6034" stop-color="#a5a5a5"/><stop offset=".6312" stop-color="#878787"/><stop offset=".7022" stop-color="#3e3e3e"/><stop offset=".7361" stop-color="#222222"/><stop offset=".7824" stop-color="#020202"/><stop offset=".7855" stop-color="#010101"/><stop offset=".8349" stop-color="#1b1b1b"/><stop offset=".8596" stop-color="#262626"/><stop offset=".8843" stop-color="#2f2f2f"/><stop offset=".9367" stop-color="#3f3f3f"/><stop offset=".9985" stop-color="#4c4c4c"/></linearGradient>
<linearGradient id="h21" gradientUnits="userSpaceOnUse" x1="0" y1="4" x2="0" y2="328" gradientTransform="translate(105,0) skewY(-17.378) translate(-105,0)"><stop offset=".0015" stop-color="#ffffff"/><stop offset=".3843" stop-color="#ffffff"/><stop offset=".4275" stop-color="#fcfcfc"/><stop offset=".4398" stop-color="#fafafa"/><stop offset=".4491" stop-color="#f6f6f6"/><stop offset=".4522" stop-color="#f4f4f4"/><stop offset=".4552" stop-color="#f0f0f0"/><stop offset=".4583" stop-color="#e8e8e8"/><stop offset=".4614" stop-color="#cecece"/><stop offset=".4645" stop-color="#818181"/><stop offset=".4676" stop-color="#1f1f1f"/><stop offset=".4707" stop-color="#0c0c0c"/><stop offset=".4738" stop-color="#313131"/><stop offset=".4769" stop-color="#636363"/><stop offset=".4799" stop-color="#838383"/><stop offset=".4830" stop-color="#989898"/><stop offset=".4861" stop-color="#a7a7a7"/><stop offset=".4892" stop-color="#b2b2b2"/><stop offset=".4923" stop-color="#bababa"/><stop offset=".4954" stop-color="#c1c1c1"/><stop offset=".4985" stop-color="#c6c6c6"/><stop offset=".5015" stop-color="#cacaca"/><stop offset=".5077" stop-color="#cfcfcf"/><stop offset=".5139" stop-color="#d2d2d2"/><stop offset=".5201" stop-color="#d4d4d4"/><stop offset=".5324" stop-color="#d4d4d4"/><stop offset=".5478" stop-color="#cfcfcf"/><stop offset=".5633" stop-color="#c8c8c8"/><stop offset=".5787" stop-color="#bdbdbd"/><stop offset=".6034" stop-color="#a6a6a6"/><stop offset=".6312" stop-color="#878787"/><stop offset=".7022" stop-color="#3e3e3e"/><stop offset=".7361" stop-color="#222222"/><stop offset=".7824" stop-color="#020202"/><stop offset=".7855" stop-color="#010101"/><stop offset=".7886" stop-color="#020202"/><stop offset=".8164" stop-color="#121212"/><stop offset=".8441" stop-color="#1f1f1f"/><stop offset=".8843" stop-color="#2f2f2f"/><stop offset=".9367" stop-color="#3f3f3f"/><stop offset=".9985" stop-color="#4c4c4c"/></linearGradient>
<linearGradient id="h22" gradientUnits="userSpaceOnUse" x1="0" y1="4" x2="0" y2="328" gradientTransform="translate(107,0) skewY(-17.330) translate(-107,0)"><stop offset=".0015" stop-color="#ffffff"/><stop offset=".3843" stop-color="#ffffff"/><stop offset=".4244" stop-color="#fcfcfc"/><stop offset=".4367" stop-color="#fafafa"/><stop offset=".4460" stop-color="#f7f7f7"/><stop offset=".4522" stop-color="#f3f3f3"/><stop offset=".4552" stop-color="#eeeeee"/><stop offset=".4583" stop-color="#dedede"/><stop offset=".4614" stop-color="#a9a9a9"/><stop offset=".4645" stop-color="#404040"/><stop offset=".4676" stop-color="#0b0b0b"/><stop offset=".4707" stop-color="#202020"/><stop offset=".4738" stop-color="#555555"/><stop offset=".4769" stop-color="#7d7d7d"/><stop offset=".4799" stop-color="#959595"/><stop offset=".4830" stop-color="#a5a5a5"/><stop offset=".4861" stop-color="#b1b1b1"/><stop offset=".4892" stop-color="#bababa"/><stop offset=".4923" stop-color="#c1c1c1"/><stop offset=".4985" stop-color="#cbcbcb"/><stop offset=".5015" stop-color="#cecece"/><stop offset=".5077" stop-color="#d3d3d3"/><stop offset=".5201" stop-color="#d6d6d6"/><stop offset=".5324" stop-color="#d5d5d5"/><stop offset=".5478" stop-color="#d1d1d1"/><stop offset=".5633" stop-color="#c9c9c9"/><stop offset=".5787" stop-color="#bebebe"/><stop offset=".6034" stop-color="#a6a6a6"/><stop offset=".6312" stop-color="#888888"/><stop offset=".7022" stop-color="#3e3e3e"/><stop offset=".7361" stop-color="#222222"/><stop offset=".7608" stop-color="#101010"/><stop offset=".7824" stop-color="#020202"/><stop offset=".7855" stop-color="#010101"/><stop offset=".7886" stop-color="#020202"/><stop offset=".8164" stop-color="#121212"/><stop offset=".8441" stop-color="#1f1f1f"/><stop offset=".8843" stop-color="#2f2f2f"/><stop offset=".9367" stop-color="#3f3f3f"/><stop offset=".9985" stop-color="#4c4c4c"/></linearGradient>
<linearGradient id="h23" gradientUnits="userSpaceOnUse" x1="0" y1="4" x2="0" y2="328" gradientTransform="translate(109,0) skewY(-17.282) translate(-109,0)"><stop offset=".0015" stop-color="#ffffff"/><stop offset=".3843" stop-color="#ffffff"/><stop offset=".4244" stop-color="#fcfcfc"/><stop offset=".4367" stop-color="#fafafa"/><stop offset=".4460" stop-color="#f7f7f7"/><stop offset=".4491" stop-color="#f5f5f5"/><stop offset=".4522" stop-color="#f1f1f1"/><stop offset=".4552" stop-color="#e8e8e8"/><stop offset=".4583" stop-color="#c7c7c7"/><stop offset=".4614" stop-color="#6d6d6d"/><stop offset=".4645" stop-color="#151515"/><stop offset=".4676" stop-color="#131313"/><stop offset=".4707" stop-color="#444444"/><stop offset=".4738" stop-color="#747474"/><stop offset=".4769" stop-color="#919191"/><stop offset=".4799" stop-color="#a3a3a3"/><stop offset=".4830" stop-color="#b1b1b1"/><stop offset=".4861" stop-color="#bababa"/><stop offset=".4892" stop-color="#c2c2c2"/><stop offset=".4954" stop-color="#cccccc"/><stop offset=".4985" stop-color="#cfcfcf"/><stop offset=".5046" stop-color="#d4d4d4"/><stop offset=".5108" stop-color="#d7d7d7"/><stop offset=".5170" stop-color="#d8d8d8"/><stop offset=".5293" stop-color="#d8d8d8"/><stop offset=".5448" stop-color="#d3d3d3"/><stop offset=".5633" stop-color="#cacaca"/><stop offset=".5787" stop-color="#bebebe"/><stop offset=".6034" stop-color="#a7a7a7"/><stop offset=".6312" stop-color="#888888"/><stop offset=".7022" stop-color="#3e3e3e"/><stop offset=".7207" stop-color="#2e2e2e"/><stop offset=".7392" stop-color="#202020"/><stop offset=".7824" stop-color="#010101"/><stop offset=".7855" stop-color="#010101"/><stop offset=".8164" stop-color="#121212"/><stop offset=".8410" stop-color="#1e1e1e"/><stop offset=".8843" stop-color="#2f2f2f"/><stop offset=".9367" stop-color="#3f3f3f"/><stop offset=".9985" stop-color="#4d4d4d"/></linearGradient>
<linearGradient id="h24" gradientUnits="userSpaceOnUse" x1="0" y1="4" x2="0" y2="328" gradientTransform="translate(111,0) skewY(-17.235) translate(-111,0)"><stop offset=".0015" stop-color="#ffffff"/><stop offset=".3843" stop-color="#ffffff"/><stop offset=".4213" stop-color="#fdfdfd"/><stop offset=".4336" stop-color="#fbfbfb"/><stop offset=".4429" stop-color="#f8f8f8"/><stop offset=".4491" stop-color="#f4f4f4"/><stop offset=".4522" stop-color="#eeeeee"/><stop offset=".4552" stop-color="#dbdbdb"/><stop offset=".4583" stop-color="#9a9a9a"/><stop offset=".4614" stop-color="#2e2e2e"/><stop offset=".4645" stop-color="#0c0c0c"/><stop offset=".4676" stop-color="#313131"/><stop offset=".4707" stop-color="#686868"/><stop offset=".4738" stop-color="#8c8c8c"/><stop offset=".4769" stop-color="#a1a1a1"/><stop offset=".4799" stop-color="#b0b0b0"/><stop offset=".4830" stop-color="#bababa"/><stop offset=".4861" stop-color="#c2c2c2"/><stop offset=".4923" stop-color="#cdcdcd"/><stop offset=".4954" stop-color="#d1d1d1"/><stop offset=".5015" stop-color="#d6d6d6"/><stop offset=".5077" stop-color="#d9d9d9"/><stop offset=".5139" stop-color="#dadada"/><stop offset=".5262" stop-color="#dadada"/><stop offset=".5417" stop-color="#d6d6d6"/><stop offset=".5571" stop-color="#cecece"/><stop offset=".5756" stop-color="#c2c2c2"/><stop offset=".6003" stop-color="#ababab"/><stop offset=".6312" stop-color="#888888"/><stop offset=".7022" stop-color="#3e3e3e"/><stop offset=".7207" stop-color="#2e2e2e"/><stop offset=".7392" stop-color="#202020"/><stop offset=".7824" stop-color="#010101"/><stop offset=".7855" stop-color="#010101"/><stop offset=".8164" stop-color="#121212"/><stop offset=".8410" stop-color="#1e1e1e"/><stop offset=".8843" stop-color="#2f2f2f"/><stop offset=".9367" stop-color="#3f3f3f"/><stop offset=".9985" stop-color="#4d4d4d"/></linearGradient>
<linearGradient id="h25" gradientUnits="userSpaceOnUse" x1="0" y1="4" x2="0" y2="328" gradientTransform="translate(113,0) skewY(-17.187) translate(-113,0)"><stop offset=".0015" stop-color="#ffffff"/><stop offset=".3843" stop-color="#ffffff"/><stop offset=".4244" stop-color="#fcfcfc"/><stop offset=".4367" stop-color="#fafafa"/><stop offset=".4429" stop-color="#f8f8f8"/><stop offset=".4460" stop-color="#f6f6f6"/><stop offset=".4491" stop-color="#f2f2f2"/><stop offset=".4522" stop-color="#e7e7e7"/><stop offset=".4552" stop-color="#bebebe"/><stop offset=".4583" stop-color="#585858"/><stop offset=".4614" stop-color="#0f0f0f"/><stop offset=".4645" stop-color="#1f1f1f"/><stop offset=".4676" stop-color="#595959"/><stop offset=".4707" stop-color="#858585"/><stop offset=".4738" stop-color="#9e9e9e"/><stop offset=".4769" stop-color="#aeaeae"/><stop offset=".4799" stop-color="#bababa"/><stop offset=".4830" stop-color="#c2c2c2"/><stop offset=".4861" stop-color="#c9c9c9"/><stop offset=".4892" stop-color="#cecece"/><stop offset=".4923" stop-color="#d2d2d2"/><stop offset=".4985" stop-color="#d7d7d7"/><stop offset=".5046" stop-color="#dadada"/><stop offset=".5108" stop-color="#dcdcdc"/><stop offset=".5262" stop-color="#dbdbdb"/><stop offset=".5417" stop-color="#d7d7d7"/><stop offset=".5571" stop-color="#cfcfcf"/><stop offset=".5756" stop-color="#c2c2c2"/><stop offset=".6003" stop-color="#ababab"/><stop offset=".6343" stop-color="#858585"/><stop offset=".7022" stop-color="#3e3e3e"/><stop offset=".7207" stop-color="#2e2e2e"/><stop offset=".7392" stop-color="#202020"/><stop offset=".7824" stop-color="#010101"/><stop offset=".7855" stop-color="#010101"/><stop offset=".8164" stop-color="#121212"/><stop offset=".8410" stop-color="#1e1e1e"/><stop offset=".8843" stop-color="#2f2f2f"/><stop offset=".9367" stop-color="#3f3f3f"/><stop offset=".9985" stop-color="#4d4d4d"/></linearGradient>
<linearGradient id="h26" gradientUnits="userSpaceOnUse" x1="0" y1="4" x2="0" y2="328" gradientTransform="translate(115,0) skewY(-17.139) translate(-115,0)"><stop offset=".0015" stop-color="#ffffff"/><stop offset=".3873" stop-color="#ffffff"/><stop offset=".4244" stop-color="#fcfcfc"/><stop offset=".4367" stop-color="#fafafa"/><stop offset=".4429" stop-color="#f7f7f7"/><stop offset=".4460" stop-color="#f5f5f5"/><stop offset=".4491" stop-color="#efefef"/><stop offset=".4522" stop-color="#d7d7d7"/><stop offset=".4552" stop-color="#888888"/><stop offset=".4583" stop-color="#202020"/><stop offset=".4614" stop-color="#121212"/><stop offset=".4645" stop-color="#454545"/><stop offset=".4676" stop-color="#7b7b7b"/><stop offset=".4707" stop-color="#9a9a9a"/><stop offset=".4738" stop-color="#acacac"/><stop offset=".4769" stop-color="#b9b9b9"/><stop offset=".4799" stop-color="#c2c2c2"/><stop offset=".4830" stop-color="#c9c9c9"/><stop offset=".4892" stop-color="#d3d3d3"/><stop offset=".4985" stop-color="#dadada"/><stop offset=".5046" stop-color="#dddddd"/><stop offset=".5108" stop-color="#dedede"/><stop offset=".5262" stop-color="#dddddd"/><stop offset=".5417" stop-color="#d8d8d8"/><stop offset=".5571" stop-color="#d0d0d0"/><stop offset=".5756" stop-color="#c3c3c3"/><stop offset=".6003" stop-color="#acacac"/><stop offset=".6343" stop-color="#868686"/><stop offset=".7022" stop-color="#3f3f3f"/><stop offset=".7207" stop-color="#2e2e2e"/><stop offset=".7392" stop-color="#202020"/><stop offset=".7824" stop-color="#010101"/><stop offset=".7855" stop-color="#010101"/><stop offset=".8164" stop-color="#121212"/><stop offset=".8410" stop-color="#1e1e1e"/><stop offset=".8843" stop-color="#2f2f2f"/><stop offset=".9367" stop-color="#3f3f3f"/><stop offset=".9985" stop-color="#4d4d4d"/></linearGradient>
<linearGradient id="h27" gradientUnits="userSpaceOnUse" x1="0" y1="4" x2="0" y2="328" gradientTransform="translate(117,0) skewY(-17.092) translate(-117,0)"><stop offset=".0015" stop-color="#ffffff"/><stop offset=".3873" stop-color="#ffffff"/><stop offset=".4244" stop-color="#fcfcfc"/><stop offset=".4398" stop-color="#f9f9f9"/><stop offset=".4429" stop-color="#f7f7f7"/><stop offset=".4460" stop-color="#f3f3f3"/><stop offset=".4491" stop-color="#e6e6e6"/><stop offset=".4522" stop-color="#b2b2b2"/><stop offset=".4552" stop-color="#434343"/><stop offset=".4583" stop-color="#0e0e0e"/><stop offset=".4614" stop-color="#303030"/><stop offset=".4645" stop-color="#6d6d6d"/><stop offset=".4676" stop-color="#949494"/><stop offset=".4707" stop-color="#aaaaaa"/><stop offset=".4738" stop-color="#b8b8b8"/><stop offset=".4769" stop-color="#c2c2c2"/><stop offset=".4799" stop-color="#cacaca"/><stop offset=".4861" stop-color="#d4d4d4"/><stop offset=".4954" stop-color="#dcdcdc"/><stop offset=".5015" stop-color="#dedede"/><stop offset=".5077" stop-color="#e0e0e0"/><stop offset=".5231" stop-color="#dfdfdf"/><stop offset=".5386" stop-color="#dadada"/><stop offset=".5571" stop-color="#d1d1d1"/><stop offset=".5756" stop-color="#c4c4c4"/><stop offset=".6003" stop-color="#acacac"/><stop offset=".6343" stop-color="#868686"/><stop offset=".7022" stop-color="#3f3f3f"/><stop offset=".7207" stop-color="#2e2e2e"/><stop offset=".7392" stop-color="#202020"/><stop offset=".7824" stop-color="#010101"/><stop offset=".7855" stop-color="#010101"/><stop offset=".8133" stop-color="#111111"/><stop offset=".8380" stop-color="#1d1d1d"/><stop offset=".8812" stop-color="#2e2e2e"/><stop offset=".9367" stop-color="#3f3f3f"/><stop offset=".9985" stop-color="#4d4d4d"/></linearGradient>
<linearGradient id="h28" gradientUnits="userSpaceOnUse" x1="0" y1="4" x2="0" y2="328" gradientTransform="translate(119,0) skewY(-17.044) translate(-119,0)"><stop offset=".0015" stop-color="#ffffff"/><stop offset=".3873" stop-color="#ffffff"/><stop offset=".4244" stop-color="#fcfcfc"/><stop offset=".4336" stop-color="#fbfbfb"/><stop offset=".4398" stop-color="#f8f8f8"/><stop offset=".4429" stop-color="#f6f6f6"/><stop offset=".4460" stop-color="#efefef"/><stop offset=".4491" stop-color="#d0d0d0"/><stop offset=".4522" stop-color="#747474"/><stop offset=".4552" stop-color="#171717"/><stop offset=".4583" stop-color="#1d1d1d"/><stop offset=".4614" stop-color="#5b5b5b"/><stop offset=".4645" stop-color="#8c8c8c"/><stop offset=".4676" stop-color="#a6a6a6"/><stop offset=".4707" stop-color="#b7b7b7"/><stop offset=".4738" stop-color="#c2c2c2"/><stop offset=".4769" stop-color="#cacaca"/><stop offset=".4799" stop-color="#d0d0d0"/><stop offset=".4830" stop-color="#d5d5d5"/><stop offset=".4861" stop-color="#d8d8d8"/><stop offset=".4923" stop-color="#dddddd"/><stop offset=".4985" stop-color="#e0e0e0"/><stop offset=".5046" stop-color="#e1e1e1"/><stop offset=".5201" stop-color="#e1e1e1"/><stop offset=".5386" stop-color="#dbdbdb"/><stop offset=".5571" stop-color="#d2d2d2"/><stop offset=".5756" stop-color="#c4c4c4"/><stop offset=".6003" stop-color="#adadad"/><stop offset=".6343" stop-color="#868686"/><stop offset=".7022" stop-color="#3f3f3f"/><stop offset=".7207" stop-color="#2e2e2e"/><stop offset=".7392" stop-color="#202020"/><stop offset=".7639" stop-color="#0d0d0d"/><stop offset=".7824" stop-color="#010101"/><stop offset=".7855" stop-color="#010101"/><stop offset=".8133" stop-color="#111111"/><stop offset=".8380" stop-color="#1d1d1d"/><stop offset=".8812" stop-color="#2e2e2e"/><stop offset=".9367" stop-color="#3f3f3f"/><stop offset=".9985" stop-color="#4d4d4d"/></linearGradient>
<linearGradient id="h29" gradientUnits="userSpaceOnUse" x1="0" y1="4" x2="0" y2="328" gradientTransform="translate(121,0) skewY(-16.996) translate(-121,0)"><stop offset=".0015" stop-color="#ffffff"/><stop offset=".3873" stop-color="#ffffff"/><stop offset=".4213" stop-color="#fdfdfd"/><stop offset=".4367" stop-color="#f9f9f9"/><stop offset=".4398" stop-color="#f7f7f7"/><stop offset=".4429" stop-color="#f3f3f3"/><stop offset=".4460" stop-color="#e4e4e4"/><stop offset=".4491" stop-color="#a4a4a4"/><stop offset=".4522" stop-color="#323232"/><stop offset=".4552" stop-color="#121212"/><stop offset=".4583" stop-color="#454545"/><stop offset=".4614" stop-color="#818181"/><stop offset=".4645" stop-color="#a2a2a2"/><stop offset=".4676" stop-color="#b5b5b5"/><stop offset=".4707" stop-color="#c1c1c1"/><stop offset=".4738" stop-color="#cacaca"/><stop offset=".4769" stop-color="#d0d0d0"/><stop offset=".4799" stop-color="#d5d5d5"/><stop offset=".4830" stop-color="#d9d9d9"/><stop offset=".4892" stop-color="#dedede"/><stop offset=".4954" stop-color="#e1e1e1"/><stop offset=".5046" stop-color="#e3e3e3"/><stop offset=".5201" stop-color="#e2e2e2"/><stop offset=".5386" stop-color="#dcdcdc"/><stop offset=".5571" stop-color="#d2d2d2"/><stop offset=".5756" stop-color="#c5c5c5"/><stop offset=".6003" stop-color="#adadad"/><stop offset=".6343" stop-color="#878787"/><stop offset=".7022" stop-color="#3f3f3f"/><stop offset=".7207" stop-color="#2e2e2e"/><stop offset=".7392" stop-color="#202020"/><stop offset=".7639" stop-color="#0d0d0d"/><stop offset=".7824" stop-color="#010101"/><stop offset=".7855" stop-color="#010101"/><stop offset=".8133" stop-color="#111111"/><stop offset=".8380" stop-color="#1d1d1d"/><stop offset=".8812" stop-color="#2f2f2f"/><stop offset=".9367" stop-color="#3f3f3f"/><stop offset=".9985" stop-color="#4d4d4d"/></linearGradient>
<linearGradient id="h30" gradientUnits="userSpaceOnUse" x1="0" y1="4" x2="0" y2="328" gradientTransform="translate(123,0) skewY(-16.949) translate(-123,0)"><stop offset=".0015" stop-color="#ffffff"/><stop offset=".3873" stop-color="#ffffff"/><stop offset=".4213" stop-color="#fdfdfd"/><stop offset=".4306" stop-color="#fbfbfb"/><stop offset=".4367" stop-color="#f9f9f9"/><stop offset=".4398" stop-color="#f6f6f6"/><stop offset=".4429" stop-color="#eeeeee"/><stop offset=".4460" stop-color="#c8c8c8"/><stop offset=".4491" stop-color="#5f5f5f"/><stop offset=".4522" stop-color="#121212"/><stop offset=".4552" stop-color="#2d2d2d"/><stop offset=".4583" stop-color="#717171"/><stop offset=".4614" stop-color="#9c9c9c"/><stop offset=".4645" stop-color="#b2b2b2"/><stop offset=".4676" stop-color="#c0c0c0"/><stop offset=".4707" stop-color="#cacaca"/><stop offset=".4738" stop-color="#d1d1d1"/><stop offset=".4799" stop-color="#dadada"/><stop offset=".4892" stop-color="#e1e1e1"/><stop offset=".5015" stop-color="#e5e5e5"/><stop offset=".5170" stop-color="#e4e4e4"/><stop offset=".5355" stop-color="#dedede"/><stop offset=".5540" stop-color="#d5d5d5"/><stop offset=".5756" stop-color="#c6c6c6"/><stop offset=".6003" stop-color="#aeaeae"/><stop offset=".6343" stop-color="#878787"/><stop offset=".7022" stop-color="#3f3f3f"/><stop offset=".7207" stop-color="#2e2e2e"/><stop offset=".7392" stop-color="#202020"/><stop offset=".7639" stop-color="#0d0d0d"/><stop offset=".7824" stop-color="#010101"/><stop offset=".7855" stop-color="#010101"/><stop offset=".8133" stop-color="#111111"/><stop offset=".8380" stop-color="#1d1d1d"/><stop offset=".8812" stop-color="#2f2f2f"/><stop offset=".9367" stop-color="#3f3f3f"/><stop offset=".9985" stop-color="#4d4d4d"/></linearGradient>
<linearGradient id="h31" gradientUnits="userSpaceOnUse" x1="0" y1="4" x2="0" y2="328" gradientTransform="translate(125,0) skewY(-16.901) translate(-125,0)"><stop offset=".0015" stop-color="#ffffff"/><stop offset=".3873" stop-color="#ffffff"/><stop offset=".4182" stop-color="#fdfdfd"/><stop offset=".4336" stop-color="#fafafa"/><stop offset=".4367" stop-color="#f8f8f8"/><stop offset=".4398" stop-color="#f4f4f4"/><stop offset=".4429" stop-color="#e0e0e0"/><stop offset=".4460" stop-color="#939393"/><stop offset=".4491" stop-color="#242424"/><stop offset=".4522" stop-color="#1b1b1b"/><stop offset=".4552" stop-color="#5b5b5b"/><stop offset=".4583" stop-color="#939393"/><stop offset=".4614" stop-color="#afafaf"/><stop offset=".4645" stop-color="#bfbfbf"/><stop offset=".4676" stop-color="#c9c9c9"/><stop offset=".4707" stop-color="#d1d1d1"/><stop offset=".4769" stop-color="#dbdbdb"/><stop offset=".4861" stop-color="#e2e2e2"/><stop offset=".4923" stop-color="#e5e5e5"/><stop offset=".5015" stop-color="#e6e6e6"/><stop offset=".5170" stop-color="#e5e5e5"/><stop offset=".5355" stop-color="#dfdfdf"/><stop offset=".5540" stop-color="#d6d6d6"/><stop offset=".5756" stop-color="#c6c6c6"/><stop offset=".6003" stop-color="#aeaeae"/><stop offset=".6343" stop-color="#878787"/><stop offset=".7022" stop-color="#3f3f3f"/><stop offset=".7207" stop-color="#2e2e2e"/><stop offset=".7392" stop-color="#202020"/><stop offset=".7639" stop-color="#0d0d0d"/><stop offset=".7824" stop-color="#010101"/><stop offset=".7855" stop-color="#010101"/><stop offset=".8133" stop-color="#111111"/><stop offset=".8380" stop-color="#1d1d1d"/><stop offset=".8812" stop-color="#2f2f2f"/><stop offset=".9367" stop-color="#404040"/><stop offset=".9985" stop-color="#4d4d4d"/></linearGradient>
<linearGradient id="h32" gradientUnits="userSpaceOnUse" x1="0" y1="4" x2="0" y2="328" gradientTransform="translate(127,0) skewY(-16.853) translate(-127,0)"><stop offset=".0015" stop-color="#ffffff"/><stop offset=".3873" stop-color="#ffffff"/><stop offset=".4182" stop-color="#fdfdfd"/><stop offset=".4275" stop-color="#fcfcfc"/><stop offset=".4336" stop-color="#fafafa"/><stop offset=".4367" stop-color="#f7f7f7"/><stop offset=".4398" stop-color="#ededed"/><stop offset=".4429" stop-color="#bebebe"/><stop offset=".4460" stop-color="#4b4b4b"/><stop offset=".4491" stop-color="#131313"/><stop offset=".4522" stop-color="#424242"/><stop offset=".4552" stop-color="#858585"/><stop offset=".4583" stop-color="#aaaaaa"/><stop offset=".4614" stop-color="#bdbdbd"/><stop offset=".4645" stop-color="#c9c9c9"/><stop offset=".4676" stop-color="#d1d1d1"/><stop offset=".4707" stop-color="#d7d7d7"/><stop offset=".4738" stop-color="#dbdbdb"/><stop offset=".4769" stop-color="#dfdfdf"/><stop offset=".4830" stop-color="#e3e3e3"/><stop offset=".4892" stop-color="#e6e6e6"/><stop offset=".4985" stop-color="#e8e8e8"/><stop offset=".5139" stop-color="#e7e7e7"/><stop offset=".5355" stop-color="#e0e0e0"/><stop offset=".5540" stop-color="#d6d6d6"/><stop offset=".5756" stop-color="#c7c7c7"/><stop offset=".5849" stop-color="#bebebe"/><stop offset=".6003" stop-color="#afafaf"/><stop offset=".6343" stop-color="#888888"/><stop offset=".7022" stop-color="#3f3f3f"/><stop offset=".7207" stop-color="#2e2e2e"/><stop offset=".7392" stop-color="#1f1f1f"/><stop offset=".7670" stop-color="#0b0b0b"/><stop offset=".7824" stop-color="#010101"/><stop offset=".7855" stop-color="#010101"/><stop offset=".8133" stop-color="#111111"/><stop offset=".8380" stop-color="#1d1d1d"/><stop offset=".8812" stop-color="#2f2f2f"/><stop offset=".9367" stop-color="#404040"/><stop offset=".9985" stop-color="#4d4d4d"/></linearGradient>
<linearGradient id="h33" gradientUnits="userSpaceOnUse" x1="0" y1="4" x2="0" y2="328" gradientTransform="translate(129,0) skewY(-16.805) translate(-129,0)"><stop offset=".0015" stop-color="#ffffff"/><stop offset=".3843" stop-color="#ffffff"/><stop offset=".4151" stop-color="#fdfdfd"/><stop offset=".4306" stop-color="#fbfbfb"/><stop offset=".4336" stop-color="#f9f9f9"/><stop offset=".4367" stop-color="#f4f4f4"/><stop offset=".4398" stop-color="#dbdbdb"/><stop offset=".4429" stop-color="#808080"/><stop offset=".4460" stop-color="#1b1b1b"/><stop offset=".4491" stop-color="#292929"/><stop offset=".4522" stop-color="#737373"/><stop offset=".4552" stop-color="#a3a3a3"/><stop offset=".4583" stop-color="#bababa"/><stop offset=".4614" stop-color="#c8c8c8"/><stop offset=".4645" stop-color="#d1d1d1"/><stop offset=".4676" stop-color="#d7d7d7"/><stop offset=".4738" stop-color="#e0e0e0"/><stop offset=".4830" stop-color="#e6e6e6"/><stop offset=".4954" stop-color="#e9e9e9"/><stop offset=".5108" stop-color="#e8e8e8"/><stop offset=".5324" stop-color="#e2e2e2"/><stop offset=".5509" stop-color="#d9d9d9"/><stop offset=".5725" stop-color="#cacaca"/><stop offset=".5849" stop-color="#bfbfbf"/><stop offset=".6003" stop-color="#afafaf"/><stop offset=".6343" stop-color="#888888"/><stop offset=".7022" stop-color="#3f3f3f"/><stop offset=".7207" stop-color="#2e2e2e"/><stop offset=".7392" stop-color="#1f1f1f"/><stop offset=".7670" stop-color="#0b0b0b"/><stop offset=".7824" stop-color="#010101"/><stop offset=".7855" stop-color="#020202"/><stop offset=".8102" stop-color="#101010"/><stop offset=".8349" stop-color="#1c1c1c"/><stop offset=".8812" stop-color="#2f2f2f"/><stop offset=".9367" stop-color="#404040"/><stop offset=".9985" stop-color="#4d4d4d"/></linearGradient>
<linearGradient id="h34" gradientUnits="userSpaceOnUse" x1="0" y1="4" x2="0" y2="328" gradientTransform="translate(131,0) skewY(-16.757) translate(-131,0)"><stop offset=".0015" stop-color="#ffffff"/><stop offset=".3873" stop-color="#ffffff"/><stop offset=".4182" stop-color="#fdfdfd"/><stop offset=".4306" stop-color="#fafafa"/><stop offset=".4336" stop-color="#f8f8f8"/><stop offset=".4367" stop-color="#ececec"/><stop offset=".4398" stop-color="#b1b1b1"/><stop offset=".4429" stop-color="#393939"/><stop offset=".4460" stop-color="#191919"/><stop offset=".4491" stop-color="#5a5a5a"/><stop offset=".4522" stop-color="#989898"/><stop offset=".4552" stop-color="#b7b7b7"/><stop offset=".4583" stop-color="#c6c6c6"/><stop offset=".4614" stop-color="#d1d1d1"/><stop offset=".4645" stop-color="#d8d8d8"/><stop offset=".4707" stop-color="#e0e0e0"/><stop offset=".4799" stop-color="#e7e7e7"/><stop offset=".4923" stop-color="#eaeaea"/><stop offset=".5077" stop-color="#eaeaea"/><stop offset=".5293" stop-color="#e4e4e4"/><stop offset=".5509" stop-color="#d9d9d9"/><stop offset=".5725" stop-color="#cacaca"/><stop offset=".5849" stop-color="#bfbfbf"/><stop offset=".6003" stop-color="#afafaf"/><stop offset=".6343" stop-color="#888888"/><stop offset=".7022" stop-color="#3f3f3f"/><stop offset=".7207" stop-color="#2e2e2e"/><stop offset=".7392" stop-color="#1f1f1f"/><stop offset=".7670" stop-color="#0b0b0b"/><stop offset=".7824" stop-color="#010101"/><stop offset=".7855" stop-color="#020202"/><stop offset=".8102" stop-color="#101010"/><stop offset=".8349" stop-color="#1c1c1c"/><stop offset=".8812" stop-color="#2f2f2f"/><stop offset=".9367" stop-color="#404040"/><stop offset=".9985" stop-color="#4d4d4d"/></linearGradient>
<linearGradient id="h35" gradientUnits="userSpaceOnUse" x1="0" y1="4" x2="0" y2="328" gradientTransform="translate(133,0) skewY(-16.709) translate(-133,0)"><stop offset=".0015" stop-color="#ffffff"/><stop offset=".3904" stop-color="#ffffff"/><stop offset=".4182" stop-color="#fdfdfd"/><stop offset=".4244" stop-color="#fcfcfc"/><stop offset=".4306" stop-color="#fafafa"/><stop offset=".4336" stop-color="#f4f4f4"/><stop offset=".4367" stop-color="#d4d4d4"/><stop offset=".4398" stop-color="#6c6c6c"/><stop offset=".4429" stop-color="#171717"/><stop offset=".4460" stop-color="#3d3d3d"/><stop offset=".4491" stop-color="#898989"/><stop offset=".4522" stop-color="#b1b1b1"/><stop offset=".4552" stop-color="#c5c5c5"/><stop offset=".4583" stop-color="#d0d0d0"/><stop offset=".4614" stop-color="#d8d8d8"/><stop offset=".4645" stop-color="#dddddd"/><stop offset=".4676" stop-color="#e1e1e1"/><stop offset=".4769" stop-color="#e8e8e8"/><stop offset=".4892" stop-color="#ebebeb"/><stop offset=".5077" stop-color="#ebebeb"/><stop offset=".5293" stop-color="#e5e5e5"/><stop offset=".5509" stop-color="#dadada"/><stop offset=".5725" stop-color="#cbcbcb"/><stop offset=".5849" stop-color="#c0c0c0"/><stop offset=".6003" stop-color="#b0b0b0"/><stop offset=".6343" stop-color="#888888"/><stop offset=".7022" stop-color="#3f3f3f"/><stop offset=".7207" stop-color="#2e2e2e"/><stop offset=".7392" stop-color="#1f1f1f"/><stop offset=".7670" stop-color="#0b0b0b"/><stop offset=".7824" stop-color="#010101"/><stop offset=".7855" stop-color="#020202"/><stop offset=".8102" stop-color="#101010"/><stop offset=".8349" stop-color="#1c1c1c"/><stop offset=".8812" stop-color="#2f2f2f"/><stop offset=".9367" stop-color="#404040"/><stop offset=".9985" stop-color="#4e4e4e"/></linearGradient>
<linearGradient id="h36" gradientUnits="userSpaceOnUse" x1="0" y1="4" x2="0" y2="328" gradientTransform="translate(135,0) skewY(-16.661) translate(-135,0)"><stop offset=".0015" stop-color="#ffffff"/><stop offset=".3843" stop-color="#ffffff"/><stop offset=".4120" stop-color="#fefefe"/><stop offset=".4275" stop-color="#fbfbfb"/><stop offset=".4306" stop-color="#f8f8f8"/><stop offset=".4336" stop-color="#e9e9e9"/><stop offset=".4367" stop-color="#a2a2a2"/><stop offset=".4398" stop-color="#2b2b2b"/><stop offset=".4429" stop-color="#242424"/><stop offset=".4460" stop-color="#727272"/><stop offset=".4491" stop-color="#a9a9a9"/><stop offset=".4522" stop-color="#c2c2c2"/><stop offset=".4552" stop-color="#cfcfcf"/><stop offset=".4583" stop-color="#d8d8d8"/><stop offset=".4614" stop-color="#dddddd"/><stop offset=".4645" stop-color="#e2e2e2"/><stop offset=".4738" stop-color="#e9e9e9"/><stop offset=".4799" stop-color="#ebebeb"/><stop offset=".4892" stop-color="#ededed"/><stop offset=".5077" stop-color="#ececec"/><stop offset=".5293" stop-color="#e5e5e5"/><stop offset=".5509" stop-color="#dadada"/><stop offset=".5725" stop-color="#cbcbcb"/><stop offset=".5849" stop-color="#c0c0c0"/><stop offset=".6003" stop-color="#b0b0b0"/><stop offset=".6343" stop-color="#898989"/><stop offset=".7022" stop-color="#3f3f3f"/><stop offset=".7207" stop-color="#2e2e2e"/><stop offset=".7392" stop-color="#1f1f1f"/><stop offset=".7670" stop-color="#0b0b0b"/><stop offset=".7824" stop-color="#010101"/><stop offset=".8349" stop-color="#1c1c1c"/><stop offset=".8812" stop-color="#2f2f2f"/><stop offset=".9367" stop-color="#404040"/><stop offset=".9985" stop-color="#4e4e4e"/></linearGradient>
<linearGradient id="h37" gradientUnits="userSpaceOnUse" x1="0" y1="4" x2="0" y2="328" gradientTransform="translate(137,0) skewY(-16.613) translate(-137,0)"><stop offset=".0015" stop-color="#ffffff"/><stop offset=".3873" stop-color="#ffffff"/><stop offset=".4151" stop-color="#fdfdfd"/><stop offset=".4275" stop-color="#fafafa"/><stop offset=".4306" stop-color="#f4f4f4"/><stop offset=".4336" stop-color="#cbcbcb"/><stop offset=".4367" stop-color="#585858"/><stop offset=".4398" stop-color="#191919"/><stop offset=".4429" stop-color="#555555"/><stop offset=".4460" stop-color="#9d9d9d"/><stop offset=".4491" stop-color="#bebebe"/><stop offset=".4522" stop-color="#cecece"/><stop offset=".4552" stop-color="#d7d7d7"/><stop offset=".4583" stop-color="#dedede"/><stop offset=".4645" stop-color="#e5e5e5"/><stop offset=".4738" stop-color="#ebebeb"/><stop offset=".4861" stop-color="#eeeeee"/><stop offset=".4954" stop-color="#eeeeee"/><stop offset=".5077" stop-color="#ededed"/><stop offset=".5293" stop-color="#e6e6e6"/><stop offset=".5509" stop-color="#dbdbdb"/><stop offset=".5725" stop-color="#cccccc"/><stop offset=".5849" stop-color="#c1c1c1"/><stop offset=".6003" stop-color="#b1b1b1"/><stop offset=".6343" stop-color="#898989"/><stop offset=".7022" stop-color="#3f3f3f"/><stop offset=".7207" stop-color="#2e2e2e"/><stop offset=".7392" stop-color="#1f1f1f"/><stop offset=".7701" stop-color="#080808"/><stop offset=".7824" stop-color="#010101"/><stop offset=".8318" stop-color="#1b1b1b"/><stop offset=".8781" stop-color="#2e2e2e"/><stop offset=".9336" stop-color="#3f3f3f"/><stop offset=".9985" stop-color="#4e4e4e"/></linearGradient>
<linearGradient id="h38" gradientUnits="userSpaceOnUse" x1="0" y1="4" x2="0" y2="328" gradientTransform="translate(139,0) skewY(-16.565) translate(-139,0)"><stop offset=".0015" stop-color="#ffffff"/><stop offset=".3812" stop-color="#ffffff"/><stop offset=".4090" stop-color="#fefefe"/><stop offset=".4244" stop-color="#fcfcfc"/><stop offset=".4275" stop-color="#f9f9f9"/><stop offset=".4306" stop-color="#e5e5e5"/><stop offset=".4336" stop-color="#909090"/><stop offset=".4367" stop-color="#222222"/><stop offset=".4398" stop-color="#363636"/><stop offset=".4429" stop-color="#8a8a8a"/><stop offset=".4460" stop-color="#b8b8b8"/><stop offset=".4491" stop-color="#cccccc"/><stop offset=".4522" stop-color="#d7d7d7"/><stop offset=".4552" stop-color="#dedede"/><stop offset=".4614" stop-color="#e6e6e6"/><stop offset=".4707" stop-color="#ececec"/><stop offset=".4830" stop-color="#efefef"/><stop offset=".5046" stop-color="#eeeeee"/><stop offset=".5262" stop-color="#e8e8e8"/><stop offset=".5509" stop-color="#dbdbdb"/><stop offset=".5725" stop-color="#cccccc"/><stop offset=".5849" stop-color="#c1c1c1"/><stop offset=".6003" stop-color="#b1b1b1"/><stop offset=".6343" stop-color="#898989"/><stop offset=".7022" stop-color="#3f3f3f"/><stop offset=".7207" stop-color="#2e2e2e"/><stop offset=".7392" stop-color="#1f1f1f"/><stop offset=".7701" stop-color="#080808"/><stop offset=".7824" stop-color="#010101"/><stop offset=".8318" stop-color="#1b1b1b"/><stop offset=".8781" stop-color="#2e2e2e"/><stop offset=".9336" stop-color="#3f3f3f"/><stop offset=".9985" stop-color="#4e4e4e"/></linearGradient>
<linearGradient id="h39" gradientUnits="userSpaceOnUse" x1="0" y1="4" x2="0" y2="328" gradientTransform="translate(141,0) skewY(-16.517) translate(-141,0)"><stop offset=".0015" stop-color="#ffffff"/><stop offset=".3873" stop-color="#ffffff"/><stop offset=".4151" stop-color="#fdfdfd"/><stop offset=".4244" stop-color="#fbfbfb"/><stop offset=".4275" stop-color="#f3f3f3"/><stop offset=".4306" stop-color="#c0c0c0"/><stop offset=".4336" stop-color="#464646"/><stop offset=".4367" stop-color="#212121"/><stop offset=".4398" stop-color="#6e6e6e"/><stop offset=".4429" stop-color="#afafaf"/><stop offset=".4460" stop-color="#c9c9c9"/><stop offset=".4491" stop-color="#d6d6d6"/><stop offset=".4522" stop-color="#dedede"/><stop offset=".4552" stop-color="#e3e3e3"/><stop offset=".4583" stop-color="#e7e7e7"/><stop offset=".4676" stop-color="#ededed"/><stop offset=".4830" stop-color="#f0f0f0"/><stop offset=".5046" stop-color="#efefef"/><stop offset=".5262" stop-color="#e8e8e8"/><stop offset=".5509" stop-color="#dcdcdc"/><stop offset=".5725" stop-color="#cccccc"/><stop offset=".5849" stop-color="#c1c1c1"/><stop offset=".6003" stop-color="#b1b1b1"/><stop offset=".6343" stop-color="#898989"/><stop offset=".7022" stop-color="#3f3f3f"/><stop offset=".7207" stop-color="#2e2e2e"/><stop offset=".7423" stop-color="#1d1d1d"/><stop offset=".7731" stop-color="#060606"/><stop offset=".7824" stop-color="#010101"/><stop offset=".8318" stop-color="#1b1b1b"/><stop offset=".8781" stop-color="#2f2f2f"/><stop offset=".9336" stop-color="#404040"/><stop offset=".9985" stop-color="#4e4e4e"/></linearGradient>
<linearGradient id="h40" gradientUnits="userSpaceOnUse" x1="0" y1="4" x2="0" y2="328" gradientTransform="translate(143,0) skewY(-16.469) translate(-143,0)"><stop offset=".0015" stop-color="#ffffff"/><stop offset=".3781" stop-color="#ffffff"/><stop offset=".4059" stop-color="#fefefe"/><stop offset=".4213" stop-color="#fcfcfc"/><stop offset=".4244" stop-color="#f9f9f9"/><stop offset=".4275" stop-color="#e0e0e0"/><stop offset=".4306" stop-color="#7e7e7e"/><stop offset=".4336" stop-color="#1e1e1e"/><stop offset=".4367" stop-color="#4d4d4d"/><stop offset=".4398" stop-color="#a0a0a0"/><stop offset=".4429" stop-color="#c5c5c5"/><stop offset=".4460" stop-color="#d5d5d5"/><stop offset=".4491" stop-color="#dddddd"/><stop offset=".4522" stop-color="#e3e3e3"/><stop offset=".4583" stop-color="#eaeaea"/><stop offset=".4676" stop-color="#efefef"/><stop offset=".4799" stop-color="#f1f1f1"/><stop offset=".4923" stop-color="#f1f1f1"/><stop offset=".5046" stop-color="#efefef"/><stop offset=".5262" stop-color="#e9e9e9"/><stop offset=".5509" stop-color="#dcdcdc"/><stop offset=".5725" stop-color="#cdcdcd"/><stop offset=".5849" stop-color="#c2c2c2"/><stop offset=".6003" stop-color="#b1b1b1"/><stop offset=".6373" stop-color="#868686"/><stop offset=".7022" stop-color="#3f3f3f"/><stop offset=".7361" stop-color="#212121"/><stop offset=".7793" stop-color="#020202"/><stop offset=".7824" stop-color="#010101"/><stop offset=".7855" stop-color="#020202"/><stop offset=".8102" stop-color="#101010"/><stop offset=".8349" stop-color="#1d1d1d"/><stop offset=".8596" stop-color="#282828"/><stop offset=".8843" stop-color="#313131"/><stop offset=".9367" stop-color="#404040"/><stop offset=".9985" stop-color="#4e4e4e"/></linearGradient>
<linearGradient id="h41" gradientUnits="userSpaceOnUse" x1="0" y1="4" x2="0" y2="328" gradientTransform="translate(145,0) skewY(-16.421) translate(-145,0)"><stop offset=".0015" stop-color="#ffffff"/><stop offset=".3843" stop-color="#ffffff"/><stop offset=".4120" stop-color="#fefefe"/><stop offset=".4213" stop-color="#fbfbfb"/><stop offset=".4244" stop-color="#f1f1f1"/><stop offset=".4275" stop-color="#b4b4b4"/><stop offset=".4306" stop-color="#373737"/><stop offset=".4336" stop-color="#2e2e2e"/><stop offset=".4367" stop-color="#888888"/><stop offset=".4398" stop-color="#bebebe"/><stop offset=".4429" stop-color="#d3d3d3"/><stop offset=".4460" stop-color="#dddddd"/><stop offset=".4491" stop-color="#e3e3e3"/><stop offset=".4552" stop-color="#eaeaea"/><stop offset=".4645" stop-color="#efefef"/><stop offset=".4799" stop-color="#f2f2f2"/><stop offset=".5046" stop-color="#f0f0f0"/><stop offset=".5262" stop-color="#e9e9e9"/><stop offset=".5509" stop-color="#dddddd"/><stop offset=".5725" stop-color="#cdcdcd"/><stop offset=".5849" stop-color="#c2c2c2"/><stop offset=".6003" stop-color="#b2b2b2"/><stop offset=".6373" stop-color="#868686"/><stop offset=".7022" stop-color="#3f3f3f"/><stop offset=".7361" stop-color="#212121"/><stop offset=".7793" stop-color="#020202"/><stop offset=".7824" stop-color="#010101"/><stop offset=".8318" stop-color="#1c1c1c"/><stop offset=".8565" stop-color="#262626"/><stop offset=".8812" stop-color="#303030"/><stop offset=".9367" stop-color="#414141"/><stop offset=".9985" stop-color="#4e4e4e"/></linearGradient>
<linearGradient id="h42" gradientUnits="userSpaceOnUse" x1="0" y1="4" x2="0" y2="328" gradientTransform="translate(147,0) skewY(-16.373) translate(-147,0)"><stop offset=".0015" stop-color="#ffffff"/><stop offset=".3750" stop-color="#ffffff"/><stop offset=".4059" stop-color="#fefefe"/><stop offset=".4182" stop-color="#fdfdfd"/><stop offset=".4213" stop-color="#f9f9f9"/><stop offset=".4244" stop-color="#d9d9d9"/><stop offset=".4275" stop-color="#6b6b6b"/><stop offset=".4306" stop-color="#202020"/><stop offset=".4336" stop-color="#676767"/><stop offset=".4367" stop-color="#b3b3b3"/><stop offset=".4398" stop-color="#d0d0d0"/><stop offset=".4429" stop-color="#dcdcdc"/><stop offset=".4460" stop-color="#e3e3e3"/><stop offset=".4491" stop-color="#e8e8e8"/><stop offset=".4522" stop-color="#ebebeb"/><stop offset=".4583" stop-color="#efefef"/><stop offset=".4738" stop-color="#f3f3f3"/><stop offset=".4861" stop-color="#f3f3f3"/><stop offset=".4985" stop-color="#f2f2f2"/><stop offset=".5201" stop-color="#ececec"/><stop offset=".5448" stop-color="#e1e1e1"/><stop offset=".5694" stop-color="#d0d0d0"/><stop offset=".5849" stop-color="#c2c2c2"/><stop offset=".6003" stop-color="#b2b2b2"/><stop offset=".6373" stop-color="#868686"/><stop offset=".7022" stop-color="#3f3f3f"/><stop offset=".7361" stop-color="#212121"/><stop offset=".7793" stop-color="#020202"/><stop offset=".7824" stop-color="#010101"/><stop offset=".7855" stop-color="#020202"/><stop offset=".8133" stop-color="#121212"/><stop offset=".8380" stop-color="#1f1f1f"/><stop offset=".8812" stop-color="#303030"/><stop offset=".9367" stop-color="#414141"/><stop offset=".9985" stop-color="#4e4e4e"/></linearGradient>
<linearGradient id="h43" gradientUnits="userSpaceOnUse" x1="0" y1="4" x2="0" y2="328" gradientTransform="translate(149,0) skewY(-16.325) translate(-149,0)"><stop offset=".0015" stop-color="#ffffff"/><stop offset=".3843" stop-color="#ffffff"/><stop offset=".4090" stop-color="#fefefe"/><stop offset=".4151" stop-color="#fdfdfd"/><stop offset=".4182" stop-color="#fcfcfc"/><stop offset=".4213" stop-color="#eeeeee"/><stop offset=".4244" stop-color="#a5a5a5"/><stop offset=".4275" stop-color="#2c2c2c"/><stop offset=".4306" stop-color="#424242"/><stop offset=".4336" stop-color="#9f9f9f"/><stop offset=".4367" stop-color="#cccccc"/><stop offset=".4398" stop-color="#dbdbdb"/><stop offset=".4429" stop-color="#e3e3e3"/><stop offset=".4460" stop-color="#e8e8e8"/><stop offset=".4522" stop-color="#eeeeee"/><stop offset=".4614" stop-color="#f2f2f2"/><stop offset=".4738" stop-color="#f4f4f4"/><stop offset=".4985" stop-color="#f2f2f2"/><stop offset=".5201" stop-color="#ededed"/><stop offset=".5448" stop-color="#e1e1e1"/><stop offset=".5694" stop-color="#d0d0d0"/><stop offset=".5849" stop-color="#c3c3c3"/><stop offset=".6003" stop-color="#b2b2b2"/><stop offset=".6373" stop-color="#878787"/><stop offset=".7022" stop-color="#3f3f3f"/><stop offset=".7361" stop-color="#212121"/><stop offset=".7608" stop-color="#0e0e0e"/><stop offset=".7793" stop-color="#010101"/><stop offset=".7824" stop-color="#010101"/><stop offset=".8133" stop-color="#121212"/><stop offset=".8380" stop-color="#1f1f1f"/><stop offset=".8812" stop-color="#303030"/><stop offset=".9367" stop-color="#414141"/><stop offset=".9985" stop-color="#4e4e4e"/></linearGradient>
<linearGradient id="h44" gradientUnits="userSpaceOnUse" x1="0" y1="4" x2="0" y2="328" gradientTransform="translate(151,0) skewY(-16.277) translate(-151,0)"><stop offset=".0015" stop-color="#ffffff"/><stop offset=".3719" stop-color="#ffffff"/><stop offset=".4028" stop-color="#fefefe"/><stop offset=".4151" stop-color="#fdfdfd"/><stop offset=".4182" stop-color="#f8f8f8"/><stop offset=".4213" stop-color="#d1d1d1"/><stop offset=".4244" stop-color="#585858"/><stop offset=".4275" stop-color="#282828"/><stop offset=".4306" stop-color="#818181"/><stop offset=".4336" stop-color="#c3c3c3"/><stop offset=".4367" stop-color="#dadada"/><stop offset=".4398" stop-color="#e3e3e3"/><stop offset=".4429" stop-color="#e8e8e8"/><stop offset=".4460" stop-color="#ececec"/><stop offset=".4552" stop-color="#f2f2f2"/><stop offset=".4707" stop-color="#f4f4f4"/><stop offset=".4923" stop-color="#f4f4f4"/><stop offset=".5077" stop-color="#f1f1f1"/><stop offset=".5170" stop-color="#eeeeee"/><stop offset=".5417" stop-color="#e3e3e3"/><stop offset=".5540" stop-color="#dcdcdc"/><stop offset=".5694" stop-color="#d1d1d1"/><stop offset=".5849" stop-color="#c3c3c3"/><stop offset=".6003" stop-color="#b3b3b3"/><stop offset=".6373" stop-color="#878787"/><stop offset=".7022" stop-color="#3f3f3f"/><stop offset=".7176" stop-color="#313131"/><stop offset=".7361" stop-color="#212121"/><stop offset=".7608" stop-color="#0e0e0e"/><stop offset=".7793" stop-color="#010101"/><stop offset=".7824" stop-color="#010101"/><stop offset=".8133" stop-color="#131313"/><stop offset=".8380" stop-color="#1f1f1f"/><stop offset=".8812" stop-color="#303030"/><stop offset=".9367" stop-color="#414141"/><stop offset=".9985" stop-color="#4f4f4f"/></linearGradient>
<linearGradient id="h45" gradientUnits="userSpaceOnUse" x1="0" y1="4" x2="0" y2="328" gradientTransform="translate(153,0) skewY(-16.229) translate(-153,0)"><stop offset=".0015" stop-color="#ffffff"/><stop offset=".3627" stop-color="#ffffff"/><stop offset=".4120" stop-color="#fefefe"/><stop offset=".4151" stop-color="#fcfcfc"/><stop offset=".4182" stop-color="#ebebeb"/><stop offset=".4213" stop-color="#959595"/><stop offset=".4244" stop-color="#272727"/><stop offset=".4275" stop-color="#5a5a5a"/><stop offset=".4306" stop-color="#b4b4b4"/><stop offset=".4336" stop-color="#d6d6d6"/><stop offset=".4367" stop-color="#e2e2e2"/><stop offset=".4398" stop-color="#e9e9e9"/><stop offset=".4429" stop-color="#ededed"/><stop offset=".4522" stop-color="#f2f2f2"/><stop offset=".4676" stop-color="#f5f5f5"/><stop offset=".4923" stop-color="#f4f4f4"/><stop offset=".5170" stop-color="#eeeeee"/><stop offset=".5417" stop-color="#e3e3e3"/><stop offset=".5540" stop-color="#dcdcdc"/><stop offset=".5694" stop-color="#d1d1d1"/><stop offset=".5849" stop-color="#c3c3c3"/><stop offset=".6003" stop-color="#b3b3b3"/><stop offset=".6373" stop-color="#878787"/><stop offset=".7022" stop-color="#3f3f3f"/><stop offset=".7176" stop-color="#313131"/><stop offset=".7361" stop-color="#212121"/><stop offset=".7608" stop-color="#0e0e0e"/><stop offset=".7793" stop-color="#010101"/><stop offset=".7824" stop-color="#010101"/><stop offset=".8133" stop-color="#131313"/><stop offset=".8380" stop-color="#1f1f1f"/><stop offset=".8812" stop-color="#303030"/><stop offset=".9367" stop-color="#414141"/><stop offset=".9985" stop-color="#4f4f4f"/></linearGradient>
<linearGradient id="h46" gradientUnits="userSpaceOnUse" x1="0" y1="4" x2="0" y2="328" gradientTransform="translate(155,0) skewY(-16.181) translate(-155,0)"><stop offset=".0015" stop-color="#ffffff"/><stop offset=".3688" stop-color="#ffffff"/><stop offset=".3997" stop-color="#ffffff"/><stop offset=".4120" stop-color="#fdfdfd"/><stop offset=".4151" stop-color="#f7f7f7"/><stop offset=".4182" stop-color="#c7c7c7"/><stop offset=".4213" stop-color="#494949"/><stop offset=".4244" stop-color="#373737"/><stop offset=".4275" stop-color="#9b9b9b"/><stop offset=".4306" stop-color="#d1d1d1"/><stop offset=".4336" stop-color="#e1e1e1"/><stop offset=".4367" stop-color="#e9e9e9"/><stop offset=".4398" stop-color="#ededed"/><stop offset=".4460" stop-color="#f2f2f2"/><stop offset=".4552" stop-color="#f5f5f5"/><stop offset=".4676" stop-color="#f6f6f6"/><stop offset=".4923" stop-color="#f5f5f5"/><stop offset=".5170" stop-color="#efefef"/><stop offset=".5417" stop-color="#e4e4e4"/><stop offset=".5540" stop-color="#dcdcdc"/><stop offset=".5694" stop-color="#d1d1d1"/><stop offset=".5849" stop-color="#c4c4c4"/><stop offset=".6003" stop-color="#b3b3b3"/><stop offset=".6373" stop-color="#878787"/><stop offset=".7022" stop-color="#3f3f3f"/><stop offset=".7176" stop-color="#313131"/><stop offset=".7361" stop-color="#212121"/><stop offset=".7608" stop-color="#0e0e0e"/><stop offset=".7793" stop-color="#010101"/><stop offset=".7824" stop-color="#010101"/><stop offset=".8102" stop-color="#111111"/><stop offset=".8349" stop-color="#1e1e1e"/><stop offset=".8781" stop-color="#2f2f2f"/><stop offset=".9336" stop-color="#404040"/><stop offset=".9985" stop-color="#4f4f4f"/></linearGradient>
<linearGradient id="h47" gradientUnits="userSpaceOnUse" x1="0" y1="4" x2="0" y2="328" gradientTransform="translate(157,0) skewY(-16.133) translate(-157,0)"><stop offset=".0015" stop-color="#ffffff"/><stop offset=".3596" stop-color="#ffffff"/><stop offset=".4090" stop-color="#fefefe"/><stop offset=".4120" stop-color="#fcfcfc"/><stop offset=".4151" stop-color="#e6e6e6"/><stop offset=".4182" stop-color="#848484"/><stop offset=".4213" stop-color="#282828"/><stop offset=".4244" stop-color="#757575"/><stop offset=".4275" stop-color="#c5c5c5"/><stop offset=".4306" stop-color="#dfdfdf"/><stop offset=".4336" stop-color="#e8e8e8"/><stop offset=".4367" stop-color="#ededed"/><stop offset=".4398" stop-color="#f0f0f0"/><stop offset=".4491" stop-color="#f4f4f4"/><stop offset=".4614" stop-color="#f6f6f6"/><stop offset=".4861" stop-color="#f6f6f6"/><stop offset=".5139" stop-color="#f0f0f0"/><stop offset=".5386" stop-color="#e6e6e6"/><stop offset=".5540" stop-color="#dddddd"/><stop offset=".5664" stop-color="#d4d4d4"/><stop offset=".5818" stop-color="#c7c7c7"/><stop offset=".6003" stop-color="#b3b3b3"/><stop offset=".6373" stop-color="#878787"/><stop offset=".7022" stop-color="#3f3f3f"/><stop offset=".7176" stop-color="#303030"/><stop offset=".7361" stop-color="#212121"/><stop offset=".7608" stop-color="#0e0e0e"/><stop offset=".7793" stop-color="#010101"/><stop offset=".7824" stop-color="#010101"/><stop offset=".8102" stop-color="#111111"/><stop offset=".8349" stop-color="#1e1e1e"/><stop offset=".8781" stop-color="#303030"/><stop offset=".9336" stop-color="#414141"/><stop offset=".9985" stop-color="#4f4f4f"/></linearGradient>
<linearGradient id="h48" gradientUnits="userSpaceOnUse" x1="0" y1="4" x2="0" y2="328" gradientTransform="translate(159,0) skewY(-16.084) translate(-159,0)"><stop offset=".0015" stop-color="#ffffff"/><stop offset=".3657" stop-color="#ffffff"/><stop offset=".3997" stop-color="#ffffff"/><stop offset=".4090" stop-color="#fefefe"/><stop offset=".4120" stop-color="#f6f6f6"/><stop offset=".4151" stop-color="#bcbcbc"/><stop offset=".4182" stop-color="#3d3d3d"/><stop offset=".4213" stop-color="#4b4b4b"/><stop offset=".4244" stop-color="#b1b1b1"/><stop offset=".4275" stop-color="#dbdbdb"/><stop offset=".4306" stop-color="#e8e8e8"/><stop offset=".4336" stop-color="#ededed"/><stop offset=".4367" stop-color="#f1f1f1"/><stop offset=".4460" stop-color="#f5f5f5"/><stop offset=".4645" stop-color="#f7f7f7"/><stop offset=".4923" stop-color="#f5f5f5"/><stop offset=".5170" stop-color="#f0f0f0"/><stop offset=".5417" stop-color="#e4e4e4"/><stop offset=".5540" stop-color="#dddddd"/><stop offset=".5694" stop-color="#d2d2d2"/><stop offset=".5849" stop-color="#c4c4c4"/><stop offset=".6003" stop-color="#b4b4b4"/><stop offset=".6373" stop-color="#878787"/><stop offset=".7022" stop-color="#3f3f3f"/><stop offset=".7176" stop-color="#303030"/><stop offset=".7361" stop-color="#212121"/><stop offset=".7639" stop-color="#0b0b0b"/><stop offset=".7793" stop-color="#010101"/><stop offset=".7824" stop-color="#020202"/><stop offset=".8071" stop-color="#101010"/><stop offset=".8318" stop-color="#1d1d1d"/><stop offset=".8781" stop-color="#303030"/><stop offset=".9336" stop-color="#414141"/><stop offset=".9985" stop-color="#4f4f4f"/></linearGradient>
<linearGradient id="h49" gradientUnits="userSpaceOnUse" x1="0" y1="4" x2="0" y2="328" gradientTransform="translate(161,0) skewY(-16.036) translate(-161,0)"><stop offset=".0015" stop-color="#ffffff"/><stop offset=".4059" stop-color="#fefefe"/><stop offset=".4090" stop-color="#fcfcfc"/><stop offset=".4120" stop-color="#e1e1e1"/><stop offset=".4151" stop-color="#737373"/><stop offset=".4182" stop-color="#2f2f2f"/><stop offset=".4213" stop-color="#909090"/><stop offset=".4244" stop-color="#d4d4d4"/><stop offset=".4275" stop-color="#e7e7e7"/><stop offset=".4306" stop-color="#ededed"/><stop offset=".4367" stop-color="#f3f3f3"/><stop offset=".4429" stop-color="#f6f6f6"/><stop offset=".4552" stop-color="#f8f8f8"/><stop offset=".4861" stop-color="#f7f7f7"/><stop offset=".5139" stop-color="#f1f1f1"/><stop offset=".5386" stop-color="#e6e6e6"/><stop offset=".5540" stop-color="#dddddd"/><stop offset=".5664" stop-color="#d4d4d4"/><stop offset=".5818" stop-color="#c7c7c7"/><stop offset=".6003" stop-color="#b4b4b4"/><stop offset=".6373" stop-color="#878787"/><stop offset=".7022" stop-color="#3f3f3f"/><stop offset=".7176" stop-color="#303030"/><stop offset=".7361" stop-color="#212121"/><stop offset=".7639" stop-color="#0b0b0b"/><stop offset=".7793" stop-color="#010101"/><stop offset=".7824" stop-color="#020202"/><stop offset=".8071" stop-color="#101010"/><stop offset=".8318" stop-color="#1d1d1d"/><stop offset=".8781" stop-color="#303030"/><stop offset=".9336" stop-color="#414141"/><stop offset=".9985" stop-color="#4f4f4f"/></linearGradient>
<linearGradient id="h50" gradientUnits="userSpaceOnUse" x1="0" y1="4" x2="0" y2="328" gradientTransform="translate(163,0) skewY(-15.988) translate(-163,0)"><stop offset=".0015" stop-color="#ffffff"/><stop offset=".3657" stop-color="#ffffff"/><stop offset=".4059" stop-color="#fefefe"/><stop offset=".4090" stop-color="#f4f4f4"/><stop offset=".4120" stop-color="#b0b0b0"/><stop offset=".4151" stop-color="#353535"/><stop offset=".4182" stop-color="#636363"/><stop offset=".4213" stop-color="#c4c4c4"/><stop offset=".4244" stop-color="#e4e4e4"/><stop offset=".4275" stop-color="#ededed"/><stop offset=".4306" stop-color="#f1f1f1"/><stop offset=".4336" stop-color="#f4f4f4"/><stop offset=".4398" stop-color="#f6f6f6"/><stop offset=".4522" stop-color="#f8f8f8"/><stop offset=".4830" stop-color="#f7f7f7"/><stop offset=".4985" stop-color="#f5f5f5"/><stop offset=".5139" stop-color="#f1f1f1"/><stop offset=".5386" stop-color="#e7e7e7"/><stop offset=".5540" stop-color="#dddddd"/><stop offset=".5664" stop-color="#d5d5d5"/><stop offset=".5849" stop-color="#c5c5c5"/><stop offset=".6003" stop-color="#b4b4b4"/><stop offset=".6373" stop-color="#878787"/><stop offset=".6682" stop-color="#646464"/><stop offset=".7022" stop-color="#3f3f3f"/><stop offset=".7207" stop-color="#2d2d2d"/><stop offset=".7392" stop-color="#1e1e1e"/><stop offset=".7670" stop-color="#090909"/><stop offset=".7793" stop-color="#010101"/><stop offset=".7824" stop-color="#020202"/><stop offset=".8071" stop-color="#101010"/><stop offset=".8318" stop-color="#1d1d1d"/><stop offset=".8781" stop-color="#303030"/><stop offset=".9336" stop-color="#414141"/><stop offset=".9985" stop-color="#4f4f4f"/></linearGradient>
<linearGradient id="h51" gradientUnits="userSpaceOnUse" x1="0" y1="4" x2="0" y2="328" gradientTransform="translate(165,0) skewY(-15.940) translate(-165,0)"><stop offset=".0015" stop-color="#ffffff"/><stop offset=".4028" stop-color="#fefefe"/><stop offset=".4059" stop-color="#fbfbfb"/><stop offset=".4090" stop-color="#dadada"/><stop offset=".4120" stop-color="#636363"/><stop offset=".4151" stop-color="#3c3c3c"/><stop offset=".4182" stop-color="#a9a9a9"/><stop offset=".4213" stop-color="#dfdfdf"/><stop offset=".4244" stop-color="#ececec"/><stop offset=".4275" stop-color="#f1f1f1"/><stop offset=".4306" stop-color="#f4f4f4"/><stop offset=".4367" stop-color="#f7f7f7"/><stop offset=".4491" stop-color="#f9f9f9"/><stop offset=".4830" stop-color="#f8f8f8"/><stop offset=".5108" stop-color="#f2f2f2"/><stop offset=".5231" stop-color="#eeeeee"/><stop offset=".5386" stop-color="#e7e7e7"/><stop offset=".5633" stop-color="#d7d7d7"/><stop offset=".5787" stop-color="#cbcbcb"/><stop offset=".5941" stop-color="#bbbbbb"/><stop offset=".6065" stop-color="#adadad"/><stop offset=".6312" stop-color="#8f8f8f"/><stop offset=".6590" stop-color="#6f6f6f"/><stop offset=".7022" stop-color="#3f3f3f"/><stop offset=".7207" stop-color="#2d2d2d"/><stop offset=".7392" stop-color="#1e1e1e"/><stop offset=".7670" stop-color="#090909"/><stop offset=".7793" stop-color="#010101"/><stop offset=".8318" stop-color="#1d1d1d"/><stop offset=".8781" stop-color="#303030"/><stop offset=".9336" stop-color="#414141"/><stop offset=".9985" stop-color="#4f4f4f"/></linearGradient>
<linearGradient id="h52" gradientUnits="userSpaceOnUse" x1="0" y1="4" x2="0" y2="328" gradientTransform="translate(167,0) skewY(-15.891) translate(-167,0)"><stop offset=".0015" stop-color="#ffffff"/><stop offset=".3657" stop-color="#ffffff"/><stop offset=".4028" stop-color="#fefefe"/><stop offset=".4059" stop-color="#f1f1f1"/><stop offset=".4090" stop-color="#a2a2a2"/><stop offset=".4120" stop-color="#323232"/><stop offset=".4151" stop-color="#7e7e7e"/><stop offset=".4182" stop-color="#d4d4d4"/><stop offset=".4213" stop-color="#ebebeb"/><stop offset=".4244" stop-color="#f1f1f1"/><stop offset=".4306" stop-color="#f6f6f6"/><stop offset=".4367" stop-color="#f8f8f8"/><stop offset=".4460" stop-color="#f9f9f9"/><stop offset=".4830" stop-color="#f8f8f8"/><stop offset=".5108" stop-color="#f3f3f3"/><stop offset=".5231" stop-color="#eeeeee"/><stop offset=".5386" stop-color="#e7e7e7"/><stop offset=".5633" stop-color="#d7d7d7"/><stop offset=".5787" stop-color="#cbcbcb"/><stop offset=".5941" stop-color="#bbbbbb"/><stop offset=".6065" stop-color="#adadad"/><stop offset=".6312" stop-color="#8f8f8f"/><stop offset=".6590" stop-color="#6f6f6f"/><stop offset=".7022" stop-color="#3e3e3e"/><stop offset=".7207" stop-color="#2d2d2d"/><stop offset=".7392" stop-color="#1e1e1e"/><stop offset=".7670" stop-color="#090909"/><stop offset=".7762" stop-color="#020202"/><stop offset=".7793" stop-color="#010101"/><stop offset=".8287" stop-color="#1c1c1c"/><stop offset=".8503" stop-color="#262626"/><stop offset=".8750" stop-color="#2f2f2f"/><stop offset=".9028" stop-color="#393939"/><stop offset=".9336" stop-color="#414141"/><stop offset=".9985" stop-color="#505050"/></linearGradient>
<linearGradient id="h53" gradientUnits="userSpaceOnUse" x1="0" y1="4" x2="0" y2="328" gradientTransform="translate(169,0) skewY(-15.843) translate(-169,0)"><stop offset=".0015" stop-color="#ffffff"/><stop offset=".3997" stop-color="#ffffff"/><stop offset=".4028" stop-color="#fbfbfb"/><stop offset=".4059" stop-color="#d3d3d3"/><stop offset=".4090" stop-color="#565656"/><stop offset=".4120" stop-color="#4f4f4f"/><stop offset=".4151" stop-color="#bebebe"/><stop offset=".4182" stop-color="#e8e8e8"/><stop offset=".4213" stop-color="#f1f1f1"/><stop offset=".4244" stop-color="#f5f5f5"/><stop offset=".4306" stop-color="#f8f8f8"/><stop offset=".4460" stop-color="#fafafa"/><stop offset=".4830" stop-color="#f8f8f8"/><stop offset=".4985" stop-color="#f6f6f6"/><stop offset=".5139" stop-color="#f2f2f2"/><stop offset=".5324" stop-color="#eaeaea"/><stop offset=".5478" stop-color="#e2e2e2"/><stop offset=".5633" stop-color="#d8d8d8"/><stop offset=".5787" stop-color="#cbcbcb"/><stop offset=".5880" stop-color="#c2c2c2"/><stop offset=".6034" stop-color="#b1b1b1"/><stop offset=".6373" stop-color="#888888"/><stop offset=".6682" stop-color="#646464"/><stop offset=".7022" stop-color="#3e3e3e"/><stop offset=".7207" stop-color="#2d2d2d"/><stop offset=".7392" stop-color="#1e1e1e"/><stop offset=".7701" stop-color="#060606"/><stop offset=".7762" stop-color="#020202"/><stop offset=".7793" stop-color="#010101"/><stop offset=".8287" stop-color="#1c1c1c"/><stop offset=".8503" stop-color="#262626"/><stop offset=".8750" stop-color="#2f2f2f"/><stop offset=".9028" stop-color="#393939"/><stop offset=".9336" stop-color="#414141"/><stop offset=".9985" stop-color="#505050"/></linearGradient>
<linearGradient id="h54" gradientUnits="userSpaceOnUse" x1="0" y1="4" x2="0" y2="328" gradientTransform="translate(171,0) skewY(-15.795) translate(-171,0)"><stop offset=".0015" stop-color="#ffffff"/><stop offset=".3688" stop-color="#ffffff"/><stop offset=".3966" stop-color="#ffffff"/><stop offset=".3997" stop-color="#fefefe"/><stop offset=".4028" stop-color="#eeeeee"/><stop offset=".4059" stop-color="#949494"/><stop offset=".4090" stop-color="#353535"/><stop offset=".4120" stop-color="#989898"/><stop offset=".4151" stop-color="#e0e0e0"/><stop offset=".4182" stop-color="#f1f1f1"/><stop offset=".4213" stop-color="#f5f5f5"/><stop offset=".4275" stop-color="#f8f8f8"/><stop offset=".4398" stop-color="#fafafa"/><stop offset=".4799" stop-color="#f9f9f9"/><stop offset=".5108" stop-color="#f3f3f3"/><stop offset=".5231" stop-color="#efefef"/><stop offset=".5386" stop-color="#e8e8e8"/><stop offset=".5633" stop-color="#d8d8d8"/><stop offset=".5787" stop-color="#cbcbcb"/><stop offset=".5941" stop-color="#bcbcbc"/><stop offset=".6065" stop-color="#aeaeae"/><stop offset=".6312" stop-color="#8f8f8f"/><stop offset=".6590" stop-color="#6f6f6f"/><stop offset=".7022" stop-color="#3e3e3e"/><stop offset=".7176" stop-color="#303030"/><stop offset=".7361" stop-color="#202020"/><stop offset=".7762" stop-color="#020202"/><stop offset=".7793" stop-color="#010101"/><stop offset=".7824" stop-color="#020202"/><stop offset=".8102" stop-color="#131313"/><stop offset=".8380" stop-color="#212121"/><stop offset=".8812" stop-color="#323232"/><stop offset=".9367" stop-color="#424242"/><stop offset=".9985" stop-color="#505050"/></linearGradient>
<linearGradient id="h55" gradientUnits="userSpaceOnUse" x1="0" y1="4" x2="0" y2="328" gradientTransform="translate(173,0) skewY(-15.746) translate(-173,0)"><stop offset=".0015" stop-color="#ffffff"/><stop offset=".3966" stop-color="#ffffff"/><stop offset=".3997" stop-color="#fafafa"/><stop offset=".4028" stop-color="#cbcbcb"/><stop offset=".4059" stop-color="#4b4b4b"/><stop offset=".4090" stop-color="#656565"/><stop offset=".4120" stop-color="#cfcfcf"/><stop offset=".4151" stop-color="#efefef"/><stop offset=".4182" stop-color="#f5f5f5"/><stop offset=".4213" stop-color="#f7f7f7"/><stop offset=".4275" stop-color="#fafafa"/><stop offset=".4460" stop-color="#fbfbfb"/><stop offset=".4861" stop-color="#f8f8f8"/><stop offset=".5139" stop-color="#f2f2f2"/><stop offset=".5324" stop-color="#ebebeb"/><stop offset=".5478" stop-color="#e2e2e2"/><stop offset=".5633" stop-color="#d8d8d8"/><stop offset=".5787" stop-color="#cccccc"/><stop offset=".5880" stop-color="#c3c3c3"/><stop offset=".6034" stop-color="#b2b2b2"/><stop offset=".6373" stop-color="#888888"/><stop offset=".6929" stop-color="#484848"/><stop offset=".7022" stop-color="#3e3e3e"/><stop offset=".7207" stop-color="#2d2d2d"/><stop offset=".7423" stop-color="#1b1b1b"/><stop offset=".7731" stop-color="#040404"/><stop offset=".7762" stop-color="#020202"/><stop offset=".7793" stop-color="#010101"/><stop offset=".8071" stop-color="#111111"/><stop offset=".8287" stop-color="#1c1c1c"/><stop offset=".8503" stop-color="#262626"/><stop offset=".8750" stop-color="#303030"/><stop offset=".9028" stop-color="#393939"/><stop offset=".9336" stop-color="#424242"/><stop offset=".9985" stop-color="#505050"/></linearGradient>
<linearGradient id="h56" gradientUnits="userSpaceOnUse" x1="0" y1="4" x2="0" y2="328" gradientTransform="translate(175,0) skewY(-15.698) translate(-175,0)"><stop offset=".0015" stop-color="#ffffff"/><stop offset=".3719" stop-color="#ffffff"/><stop offset=".3935" stop-color="#ffffff"/><stop offset=".3966" stop-color="#fefefe"/><stop offset=".3997" stop-color="#eaeaea"/><stop offset=".4028" stop-color="#878787"/><stop offset=".4059" stop-color="#3e3e3e"/><stop offset=".4090" stop-color="#afafaf"/><stop offset=".4120" stop-color="#e9e9e9"/><stop offset=".4151" stop-color="#f5f5f5"/><stop offset=".4182" stop-color="#f8f8f8"/><stop offset=".4244" stop-color="#fafafa"/><stop offset=".4367" stop-color="#fbfbfb"/><stop offset=".4799" stop-color="#f9f9f9"/><stop offset=".5108" stop-color="#f3f3f3"/><stop offset=".5231" stop-color="#efefef"/><stop offset=".5386" stop-color="#e8e8e8"/><stop offset=".5633" stop-color="#d8d8d8"/><stop offset=".5787" stop-color="#cccccc"/><stop offset=".5941" stop-color="#bcbcbc"/><stop offset=".6096" stop-color="#aaaaaa"/><stop offset=".6312" stop-color="#8f8f8f"/><stop offset=".6590" stop-color="#6f6f6f"/><stop offset=".7022" stop-color="#3e3e3e"/><stop offset=".7176" stop-color="#303030"/><stop offset=".7361" stop-color="#202020"/><stop offset=".7762" stop-color="#010101"/><stop offset=".7793" stop-color="#010101"/><stop offset=".8102" stop-color="#131313"/><stop offset=".8349" stop-color="#1f1f1f"/><stop offset=".8781" stop-color="#313131"/><stop offset=".9336" stop-color="#424242"/><stop offset=".9985" stop-color="#505050"/></linearGradient>
<linearGradient id="h57" gradientUnits="userSpaceOnUse" x1="0" y1="4" x2="0" y2="328" gradientTransform="translate(177,0) skewY(-15.650) translate(-177,0)"><stop offset=".0015" stop-color="#ffffff"/><stop offset=".3935" stop-color="#ffffff"/><stop offset=".3966" stop-color="#f9f9f9"/><stop offset=".3997" stop-color="#c2c2c2"/><stop offset=".4028" stop-color="#444444"/><stop offset=".4059" stop-color="#7e7e7e"/><stop offset=".4090" stop-color="#dddddd"/><stop offset=".4120" stop-color="#f4f4f4"/><stop offset=".4151" stop-color="#f8f8f8"/><stop offset=".4213" stop-color="#fafafa"/><stop offset=".4398" stop-color="#fcfcfc"/><stop offset=".4830" stop-color="#f9f9f9"/><stop offset=".5139" stop-color="#f3f3f3"/><stop offset=".5324" stop-color="#ebebeb"/><stop offset=".5478" stop-color="#e3e3e3"/><stop offset=".5664" stop-color="#d6d6d6"/><stop offset=".5818" stop-color="#c9c9c9"/><stop offset=".6065" stop-color="#aeaeae"/><stop offset=".6373" stop-color="#888888"/><stop offset=".6991" stop-color="#414141"/><stop offset=".7145" stop-color="#323232"/><stop offset=".7330" stop-color="#222222"/><stop offset=".7577" stop-color="#0f0f0f"/><stop offset=".7762" stop-color="#010101"/><stop offset=".7793" stop-color="#010101"/><stop offset=".8102" stop-color="#131313"/><stop offset=".8349" stop-color="#202020"/><stop offset=".8781" stop-color="#313131"/><stop offset=".9336" stop-color="#424242"/><stop offset=".9985" stop-color="#505050"/></linearGradient>
<linearGradient id="h58" gradientUnits="userSpaceOnUse" x1="0" y1="4" x2="0" y2="328" gradientTransform="translate(179,0) skewY(-15.601) translate(-179,0)"><stop offset=".0015" stop-color="#ffffff"/><stop offset=".3750" stop-color="#ffffff"/><stop offset=".3904" stop-color="#ffffff"/><stop offset=".3935" stop-color="#fefefe"/><stop offset=".3966" stop-color="#e6e6e6"/><stop offset=".3997" stop-color="#7a7a7a"/><stop offset=".4028" stop-color="#4d4d4d"/><stop offset=".4059" stop-color="#c3c3c3"/><stop offset=".4090" stop-color="#f0f0f0"/><stop offset=".4120" stop-color="#f8f8f8"/><stop offset=".4151" stop-color="#fafafa"/><stop offset=".4213" stop-color="#fbfbfb"/><stop offset=".4429" stop-color="#fcfcfc"/><stop offset=".4861" stop-color="#f9f9f9"/><stop offset=".5139" stop-color="#f3f3f3"/><stop offset=".5324" stop-color="#ebebeb"/><stop offset=".5478" stop-color="#e3e3e3"/><stop offset=".5664" stop-color="#d6d6d6"/><stop offset=".5818" stop-color="#c9c9c9"/><stop offset=".6065" stop-color="#aeaeae"/><stop offset=".6373" stop-color="#888888"/><stop offset=".6991" stop-color="#414141"/><stop offset=".7145" stop-color="#323232"/><stop offset=".7330" stop-color="#222222"/><stop offset=".7577" stop-color="#0e0e0e"/><stop offset=".7762" stop-color="#010101"/><stop offset=".7793" stop-color="#010101"/><stop offset=".8071" stop-color="#121212"/><stop offset=".8318" stop-color="#1e1e1e"/><stop offset=".8781" stop-color="#313131"/><stop offset=".9336" stop-color="#424242"/><stop offset=".9985" stop-color="#505050"/></linearGradient>
<linearGradient id="h59" gradientUnits="userSpaceOnUse" x1="0" y1="4" x2="0" y2="328" gradientTransform="translate(181,0) skewY(-15.553) translate(-181,0)"><stop offset=".0015" stop-color="#ffffff"/><stop offset=".3904" stop-color="#ffffff"/><stop offset=".3935" stop-color="#f7f7f7"/><stop offset=".3966" stop-color="#b9b9b9"/><stop offset=".3997" stop-color="#424242"/><stop offset=".4028" stop-color="#969696"/><stop offset=".4059" stop-color="#e7e7e7"/><stop offset=".4090" stop-color="#f7f7f7"/><stop offset=".4120" stop-color="#fafafa"/><stop offset=".4151" stop-color="#fbfbfb"/><stop offset=".4275" stop-color="#fdfdfd"/><stop offset=".4769" stop-color="#fafafa"/><stop offset=".5077" stop-color="#f5f5f5"/><stop offset=".5201" stop-color="#f1f1f1"/><stop offset=".5355" stop-color="#eaeaea"/><stop offset=".5602" stop-color="#dbdbdb"/><stop offset=".5756" stop-color="#cfcfcf"/><stop offset=".5910" stop-color="#c0c0c0"/><stop offset=".6096" stop-color="#ababab"/><stop offset=".6343" stop-color="#8c8c8c"/><stop offset=".6590" stop-color="#6f6f6f"/><stop offset=".7022" stop-color="#3e3e3e"/><stop offset=".7176" stop-color="#2f2f2f"/><stop offset=".7361" stop-color="#1f1f1f"/><stop offset=".7608" stop-color="#0c0c0c"/><stop offset=".7762" stop-color="#010101"/><stop offset=".7793" stop-color="#020202"/><stop offset=".8071" stop-color="#121212"/><stop offset=".8318" stop-color="#1f1f1f"/><stop offset=".8781" stop-color="#323232"/><stop offset=".9336" stop-color="#424242"/><stop offset=".9985" stop-color="#515151"/></linearGradient>
<linearGradient id="h60" gradientUnits="userSpaceOnUse" x1="0" y1="4" x2="0" y2="328" gradientTransform="translate(183,0) skewY(-15.504) translate(-183,0)"><stop offset=".0015" stop-color="#ffffff"/><stop offset=".3873" stop-color="#ffffff"/><stop offset=".3904" stop-color="#fdfdfd"/><stop offset=".3935" stop-color="#e3e3e3"/><stop offset=".3966" stop-color="#727272"/><stop offset=".3997" stop-color="#626262"/><stop offset=".4028" stop-color="#d4d4d4"/><stop offset=".4059" stop-color="#f6f6f6"/><stop offset=".4090" stop-color="#fafafa"/><stop offset=".4213" stop-color="#fdfdfd"/><stop offset=".4491" stop-color="#fcfcfc"/><stop offset=".4892" stop-color="#f8f8f8"/><stop offset=".5170" stop-color="#f2f2f2"/><stop offset=".5355" stop-color="#eaeaea"/><stop offset=".5509" stop-color="#e2e2e2"/><stop offset=".5664" stop-color="#d7d7d7"/><stop offset=".5818" stop-color="#cacaca"/><stop offset=".6065" stop-color="#afafaf"/><stop offset=".6373" stop-color="#888888"/><stop offset=".6991" stop-color="#414141"/><stop offset=".7145" stop-color="#323232"/><stop offset=".7330" stop-color="#222222"/><stop offset=".7608" stop-color="#0c0c0c"/><stop offset=".7762" stop-color="#010101"/><stop offset=".7793" stop-color="#020202"/><stop offset=".8040" stop-color="#101010"/><stop offset=".8287" stop-color="#1d1d1d"/><stop offset=".8503" stop-color="#272727"/><stop offset=".8750" stop-color="#313131"/><stop offset=".9028" stop-color="#3a3a3a"/><stop offset=".9336" stop-color="#434343"/><stop offset=".9985" stop-color="#515151"/></linearGradient>
<linearGradient id="h61" gradientUnits="userSpaceOnUse" x1="0" y1="4" x2="0" y2="328" gradientTransform="translate(185,0) skewY(-15.456) translate(-185,0)"><stop offset=".0015" stop-color="#ffffff"/><stop offset=".3873" stop-color="#ffffff"/><stop offset=".3904" stop-color="#f6f6f6"/><stop offset=".3935" stop-color="#b5b5b5"/><stop offset=".3966" stop-color="#4d4d4d"/><stop offset=".3997" stop-color="#b1b1b1"/><stop offset=".4028" stop-color="#f0f0f0"/><stop offset=".4059" stop-color="#fafafa"/><stop offset=".4120" stop-color="#fcfcfc"/><stop offset=".4182" stop-color="#fdfdfd"/><stop offset=".4460" stop-color="#fdfdfd"/><stop offset=".4892" stop-color="#f9f9f9"/><stop offset=".5170" stop-color="#f2f2f2"/><stop offset=".5355" stop-color="#eaeaea"/><stop offset=".5509" stop-color="#e2e2e2"/><stop offset=".5664" stop-color="#d7d7d7"/><stop offset=".5818" stop-color="#cacaca"/><stop offset=".6065" stop-color="#afafaf"/><stop offset=".6373" stop-color="#888888"/><stop offset=".6991" stop-color="#414141"/><stop offset=".7176" stop-color="#2f2f2f"/><stop offset=".7361" stop-color="#1f1f1f"/><stop offset=".7639" stop-color="#090909"/><stop offset=".7762" stop-color="#010101"/><stop offset=".7793" stop-color="#020202"/><stop offset=".8040" stop-color="#111111"/><stop offset=".8287" stop-color="#1e1e1e"/><stop offset=".8503" stop-color="#272727"/><stop offset=".8750" stop-color="#313131"/><stop offset=".9028" stop-color="#3a3a3a"/><stop offset=".9336" stop-color="#434343"/><stop offset=".9985" stop-color="#515151"/></linearGradient>
<linearGradient id="h62" gradientUnits="userSpaceOnUse" x1="0" y1="4" x2="0" y2="328" gradientTransform="translate(187,0) skewY(-15.407) translate(-187,0)"><stop offset=".0015" stop-color="#ffffff"/><stop offset=".3843" stop-color="#ffffff"/><stop offset=".3873" stop-color="#fdfdfd"/><stop offset=".3904" stop-color="#e1e1e1"/><stop offset=".3935" stop-color="#737373"/><stop offset=".3966" stop-color="#808080"/><stop offset=".3997" stop-color="#e2e2e2"/><stop offset=".4028" stop-color="#f9f9f9"/><stop offset=".4059" stop-color="#fcfcfc"/><stop offset=".4120" stop-color="#fdfdfd"/><stop offset=".4429" stop-color="#fdfdfd"/><stop offset=".4892" stop-color="#f9f9f9"/><stop offset=".5170" stop-color="#f2f2f2"/><stop offset=".5355" stop-color="#ebebeb"/><stop offset=".5509" stop-color="#e2e2e2"/><stop offset=".5664" stop-color="#d7d7d7"/><stop offset=".5818" stop-color="#cacaca"/><stop offset=".5910" stop-color="#c1c1c1"/><stop offset=".6065" stop-color="#afafaf"/><stop offset=".6373" stop-color="#888888"/><stop offset=".6991" stop-color="#414141"/><stop offset=".7176" stop-color="#2f2f2f"/><stop offset=".7361" stop-color="#1f1f1f"/><stop offset=".7639" stop-color="#090909"/><stop offset=".7762" stop-color="#010101"/><stop offset=".8287" stop-color="#1e1e1e"/><stop offset=".8503" stop-color="#282828"/><stop offset=".8750" stop-color="#313131"/><stop offset=".9028" stop-color="#3a3a3a"/><stop offset=".9336" stop-color="#434343"/><stop offset=".9985" stop-color="#515151"/></linearGradient>
<linearGradient id="h63" gradientUnits="userSpaceOnUse" x1="0" y1="4" x2="0" y2="328" gradientTransform="translate(189,0) skewY(-15.359) translate(-189,0)"><stop offset=".0015" stop-color="#ffffff"/><stop offset=".3843" stop-color="#ffffff"/><stop offset=".3873" stop-color="#f5f5f5"/><stop offset=".3904" stop-color="#b4b4b4"/><stop offset=".3935" stop-color="#626262"/><stop offset=".3966" stop-color="#c7c7c7"/><stop offset=".3997" stop-color="#f6f6f6"/><stop offset=".4028" stop-color="#fcfcfc"/><stop offset=".4182" stop-color="#fefefe"/><stop offset=".4491" stop-color="#fdfdfd"/><stop offset=".4892" stop-color="#f9f9f9"/><stop offset=".5170" stop-color="#f2f2f2"/><stop offset=".5355" stop-color="#ebebeb"/><stop offset=".5509" stop-color="#e2e2e2"/><stop offset=".5664" stop-color="#d7d7d7"/><stop offset=".5818" stop-color="#cacaca"/><stop offset=".5910" stop-color="#c1c1c1"/><stop offset=".6065" stop-color="#afafaf"/><stop offset=".6373" stop-color="#888888"/><stop offset=".6991" stop-color="#404040"/><stop offset=".7176" stop-color="#2f2f2f"/><stop offset=".7361" stop-color="#1f1f1f"/><stop offset=".7670" stop-color="#060606"/><stop offset=".7762" stop-color="#010101"/><stop offset=".8256" stop-color="#1c1c1c"/><stop offset=".8503" stop-color="#282828"/><stop offset=".8750" stop-color="#313131"/><stop offset=".9028" stop-color="#3b3b3b"/><stop offset=".9336" stop-color="#434343"/><stop offset=".9985" stop-color="#515151"/></linearGradient>
<linearGradient id="h64" gradientUnits="userSpaceOnUse" x1="0" y1="4" x2="0" y2="328" gradientTransform="translate(191,0) skewY(-15.310) translate(-191,0)"><stop offset=".0015" stop-color="#ffffff"/><stop offset=".3812" stop-color="#ffffff"/><stop offset=".3843" stop-color="#fdfdfd"/><stop offset=".3873" stop-color="#e0e0e0"/><stop offset=".3904" stop-color="#787878"/><stop offset=".3935" stop-color="#9e9e9e"/><stop offset=".3966" stop-color="#ececec"/><stop offset=".3997" stop-color="#fbfbfb"/><stop offset=".4028" stop-color="#fdfdfd"/><stop offset=".4120" stop-color="#fefefe"/><stop offset=".4460" stop-color="#fdfdfd"/><stop offset=".4892" stop-color="#f9f9f9"/><stop offset=".5170" stop-color="#f3f3f3"/><stop offset=".5355" stop-color="#ebebeb"/><stop offset=".5509" stop-color="#e2e2e2"/><stop offset=".5664" stop-color="#d7d7d7"/><stop offset=".5818" stop-color="#cacaca"/><stop offset=".5910" stop-color="#c1c1c1"/><stop offset=".6065" stop-color="#afafaf"/><stop offset=".6373" stop-color="#888888"/><stop offset=".6991" stop-color="#404040"/><stop offset=".7176" stop-color="#2e2e2e"/><stop offset=".7361" stop-color="#1e1e1e"/><stop offset=".7670" stop-color="#060606"/><stop offset=".7731" stop-color="#020202"/><stop offset=".7762" stop-color="#010101"/><stop offset=".8040" stop-color="#111111"/><stop offset=".8256" stop-color="#1d1d1d"/><stop offset=".8503" stop-color="#282828"/><stop offset=".8750" stop-color="#323232"/><stop offset=".9028" stop-color="#3b3b3b"/><stop offset=".9336" stop-color="#434343"/><stop offset=".9985" stop-color="#515151"/></linearGradient>
<linearGradient id="h65" gradientUnits="userSpaceOnUse" x1="0" y1="4" x2="0" y2="328" gradientTransform="translate(193,0) skewY(-15.261) translate(-193,0)"><stop offset=".0015" stop-color="#ffffff"/><stop offset=".3812" stop-color="#ffffff"/><stop offset=".3843" stop-color="#f5f5f5"/><stop offset=".3873" stop-color="#b6b6b6"/><stop offset=".3904" stop-color="#797979"/><stop offset=".3935" stop-color="#d8d8d8"/><stop offset=".3966" stop-color="#f9f9f9"/><stop offset=".3997" stop-color="#fdfdfd"/><stop offset=".4182" stop-color="#fefefe"/><stop offset=".4522" stop-color="#fdfdfd"/><stop offset=".4892" stop-color="#f9f9f9"/><stop offset=".5170" stop-color="#f3f3f3"/><stop offset=".5355" stop-color="#ebebeb"/><stop offset=".5509" stop-color="#e2e2e2"/><stop offset=".5664" stop-color="#d8d8d8"/><stop offset=".5818" stop-color="#cacaca"/><stop offset=".5910" stop-color="#c1c1c1"/><stop offset=".6065" stop-color="#afafaf"/><stop offset=".6373" stop-color="#888888"/><stop offset=".6991" stop-color="#404040"/><stop offset=".7176" stop-color="#2e2e2e"/><stop offset=".7392" stop-color="#1c1c1c"/><stop offset=".7701" stop-color="#040404"/><stop offset=".7762" stop-color="#010101"/><stop offset=".8040" stop-color="#111111"/><stop offset=".8256" stop-color="#1d1d1d"/><stop offset=".8503" stop-color="#282828"/><stop offset=".8750" stop-color="#323232"/><stop offset=".9028" stop-color="#3b3b3b"/><stop offset=".9336" stop-color="#444444"/><stop offset=".9985" stop-color="#515151"/></linearGradient>
<linearGradient id="h66" gradientUnits="userSpaceOnUse" x1="0" y1="4" x2="0" y2="328" gradientTransform="translate(195,0) skewY(-15.213) translate(-195,0)"><stop offset=".0015" stop-color="#ffffff"/><stop offset=".3781" stop-color="#ffffff"/><stop offset=".3812" stop-color="#fdfdfd"/><stop offset=".3843" stop-color="#e1e1e1"/><stop offset=".3873" stop-color="#878787"/><stop offset=".3904" stop-color="#b8b8b8"/><stop offset=".3935" stop-color="#f3f3f3"/><stop offset=".3966" stop-color="#fdfdfd"/><stop offset=".4151" stop-color="#fefefe"/><stop offset=".4491" stop-color="#fdfdfd"/><stop offset=".4892" stop-color="#f9f9f9"/><stop offset=".5170" stop-color="#f3f3f3"/><stop offset=".5355" stop-color="#ebebeb"/><stop offset=".5509" stop-color="#e2e2e2"/><stop offset=".5664" stop-color="#d8d8d8"/><stop offset=".5818" stop-color="#cbcbcb"/><stop offset=".5910" stop-color="#c1c1c1"/><stop offset=".6065" stop-color="#afafaf"/><stop offset=".6373" stop-color="#888888"/><stop offset=".6991" stop-color="#404040"/><stop offset=".7145" stop-color="#313131"/><stop offset=".7330" stop-color="#212121"/><stop offset=".7546" stop-color="#0f0f0f"/><stop offset=".7731" stop-color="#010101"/><stop offset=".7762" stop-color="#010101"/><stop offset=".8071" stop-color="#131313"/><stop offset=".8318" stop-color="#202020"/><stop offset=".8534" stop-color="#2a2a2a"/><stop offset=".8781" stop-color="#333333"/><stop offset=".9336" stop-color="#444444"/><stop offset=".9985" stop-color="#525252"/></linearGradient>
<linearGradient id="h67" gradientUnits="userSpaceOnUse" x1="0" y1="4" x2="0" y2="328" gradientTransform="translate(197,0) skewY(-15.164) translate(-197,0)"><stop offset=".0015" stop-color="#ffffff"/><stop offset=".3781" stop-color="#ffffff"/><stop offset=".3812" stop-color="#f5f5f5"/><stop offset=".3843" stop-color="#bbbbbb"/><stop offset=".3873" stop-color="#8f8f8f"/><stop offset=".3904" stop-color="#e5e5e5"/><stop offset=".3935" stop-color="#fcfcfc"/><stop offset=".3966" stop-color="#fefefe"/><stop offset=".4059" stop-color="#fefefe"/><stop offset=".4460" stop-color="#fdfdfd"/><stop offset=".4892" stop-color="#f9f9f9"/><stop offset=".5170" stop-color="#f3f3f3"/><stop offset=".5355" stop-color="#ebebeb"/><stop offset=".5509" stop-color="#e3e3e3"/><stop offset=".5664" stop-color="#d8d8d8"/><stop offset=".5818" stop-color="#cbcbcb"/><stop offset=".5910" stop-color="#c1c1c1"/><stop offset=".6065" stop-color="#b0b0b0"/><stop offset=".6373" stop-color="#888888"/><stop offset=".6991" stop-color="#404040"/><stop offset=".7145" stop-color="#313131"/><stop offset=".7330" stop-color="#202020"/><stop offset=".7577" stop-color="#0c0c0c"/><stop offset=".7731" stop-color="#010101"/><stop offset=".7762" stop-color="#010101"/><stop offset=".8040" stop-color="#121212"/><stop offset=".8287" stop-color="#1f1f1f"/><stop offset=".8503" stop-color="#292929"/><stop offset=".8750" stop-color="#323232"/><stop offset=".9028" stop-color="#3b3b3b"/><stop offset=".9336" stop-color="#444444"/><stop offset=".9985" stop-color="#525252"/></linearGradient>
<linearGradient id="h68" gradientUnits="userSpaceOnUse" x1="0" y1="4" x2="0" y2="328" gradientTransform="translate(199,0) skewY(-15.116) translate(-199,0)"><stop offset=".0015" stop-color="#ffffff"/><stop offset=".3750" stop-color="#ffffff"/><stop offset=".3781" stop-color="#fdfdfd"/><stop offset=".3812" stop-color="#e3e3e3"/><stop offset=".3843" stop-color="#979797"/><stop offset=".3873" stop-color="#cecece"/><stop offset=".3904" stop-color="#f8f8f8"/><stop offset=".3935" stop-color="#fefefe"/><stop offset=".4182" stop-color="#ffffff"/><stop offset=".4522" stop-color="#fdfdfd"/><stop offset=".4923" stop-color="#f9f9f9"/><stop offset=".5170" stop-color="#f3f3f3"/><stop offset=".5355" stop-color="#ebebeb"/><stop offset=".5509" stop-color="#e3e3e3"/><stop offset=".5664" stop-color="#d8d8d8"/><stop offset=".5818" stop-color="#cbcbcb"/><stop offset=".5910" stop-color="#c1c1c1"/><stop offset=".6065" stop-color="#b0b0b0"/><stop offset=".6373" stop-color="#888888"/><stop offset=".6991" stop-color="#404040"/><stop offset=".7145" stop-color="#313131"/><stop offset=".7330" stop-color="#202020"/><stop offset=".7577" stop-color="#0c0c0c"/><stop offset=".7731" stop-color="#010101"/><stop offset=".7762" stop-color="#010101"/><stop offset=".8040" stop-color="#121212"/><stop offset=".8287" stop-color="#1f1f1f"/><stop offset=".8503" stop-color="#292929"/><stop offset=".8750" stop-color="#323232"/><stop offset=".9028" stop-color="#3c3c3c"/><stop offset=".9336" stop-color="#444444"/><stop offset=".9985" stop-color="#525252"/></linearGradient>
<linearGradient id="h69" gradientUnits="userSpaceOnUse" x1="0" y1="4" x2="0" y2="328" gradientTransform="translate(201,0) skewY(-15.067) translate(-201,0)"><stop offset=".0015" stop-color="#ffffff"/><stop offset=".3750" stop-color="#ffffff"/><stop offset=".3781" stop-color="#f6f6f6"/><stop offset=".3812" stop-color="#c4c4c4"/><stop offset=".3843" stop-color="#b0b0b0"/><stop offset=".3873" stop-color="#efefef"/><stop offset=".3904" stop-color="#fefefe"/><stop offset=".3935" stop-color="#fefefe"/><stop offset=".4120" stop-color="#ffffff"/><stop offset=".4491" stop-color="#fdfdfd"/><stop offset=".4892" stop-color="#f9f9f9"/><stop offset=".5170" stop-color="#f3f3f3"/><stop offset=".5355" stop-color="#ebebeb"/><stop offset=".5509" stop-color="#e3e3e3"/><stop offset=".5664" stop-color="#d8d8d8"/><stop offset=".5818" stop-color="#cbcbcb"/><stop offset=".5910" stop-color="#c2c2c2"/><stop offset=".6065" stop-color="#b0b0b0"/><stop offset=".6373" stop-color="#888888"/><stop offset=".6991" stop-color="#3f3f3f"/><stop offset=".7145" stop-color="#303030"/><stop offset=".7330" stop-color="#202020"/><stop offset=".7577" stop-color="#0c0c0c"/><stop offset=".7731" stop-color="#010101"/><stop offset=".7762" stop-color="#020202"/><stop offset=".8040" stop-color="#121212"/><stop offset=".8287" stop-color="#1f1f1f"/><stop offset=".8503" stop-color="#292929"/><stop offset=".8750" stop-color="#333333"/><stop offset=".9028" stop-color="#3c3c3c"/><stop offset=".9336" stop-color="#444444"/><stop offset=".9985" stop-color="#525252"/></linearGradient>
<linearGradient id="h70" gradientUnits="userSpaceOnUse" x1="0" y1="4" x2="0" y2="328" gradientTransform="translate(203,0) skewY(-15.018) translate(-203,0)"><stop offset=".0015" stop-color="#ffffff"/><stop offset=".3719" stop-color="#ffffff"/><stop offset=".3750" stop-color="#fdfdfd"/><stop offset=".3781" stop-color="#e6e6e6"/><stop offset=".3812" stop-color="#a5a5a5"/><stop offset=".3843" stop-color="#dedede"/><stop offset=".3873" stop-color="#fbfbfb"/><stop offset=".3904" stop-color="#fefefe"/><stop offset=".4182" stop-color="#ffffff"/><stop offset=".4522" stop-color="#fdfdfd"/><stop offset=".4923" stop-color="#f9f9f9"/><stop offset=".5170" stop-color="#f3f3f3"/><stop offset=".5355" stop-color="#ececec"/><stop offset=".5509" stop-color="#e3e3e3"/><stop offset=".5664" stop-color="#d8d8d8"/><stop offset=".5818" stop-color="#cbcbcb"/><stop offset=".5910" stop-color="#c2c2c2"/><stop offset=".6065" stop-color="#b0b0b0"/><stop offset=".6373" stop-color="#888888"/><stop offset=".6991" stop-color="#3f3f3f"/><stop offset=".7145" stop-color="#303030"/><stop offset=".7330" stop-color="#202020"/><stop offset=".7577" stop-color="#0c0c0c"/><stop offset=".7731" stop-color="#010101"/><stop offset=".7762" stop-color="#020202"/><stop offset=".8009" stop-color="#111111"/><stop offset=".8256" stop-color="#1e1e1e"/><stop offset=".8503" stop-color="#292929"/><stop offset=".8750" stop-color="#333333"/><stop offset=".9028" stop-color="#3c3c3c"/><stop offset=".9336" stop-color="#454545"/><stop offset=".9985" stop-color="#525252"/></linearGradient>
<linearGradient id="h71" gradientUnits="userSpaceOnUse" x1="0" y1="4" x2="0" y2="328" gradientTransform="translate(205,0) skewY(-14.969) translate(-205,0)"><stop offset=".0015" stop-color="#ffffff"/><stop offset=".3719" stop-color="#ffffff"/><stop offset=".3750" stop-color="#f8f8f8"/><stop offset=".3781" stop-color="#d0d0d0"/><stop offset=".3812" stop-color="#c7c7c7"/><stop offset=".3843" stop-color="#f5f5f5"/><stop offset=".3873" stop-color="#fefefe"/><stop offset=".4182" stop-color="#ffffff"/><stop offset=".4522" stop-color="#fdfdfd"/><stop offset=".4923" stop-color="#f9f9f9"/><stop offset=".5170" stop-color="#f3f3f3"/><stop offset=".5355" stop-color="#ececec"/><stop offset=".5509" stop-color="#e3e3e3"/><stop offset=".5664" stop-color="#d8d8d8"/><stop offset=".5818" stop-color="#cbcbcb"/><stop offset=".5910" stop-color="#c2c2c2"/><stop offset=".6065" stop-color="#b0b0b0"/><stop offset=".6373" stop-color="#888888"/><stop offset=".6991" stop-color="#3f3f3f"/><stop offset=".7145" stop-color="#303030"/><stop offset=".7330" stop-color="#202020"/><stop offset=".7608" stop-color="#090909"/><stop offset=".7731" stop-color="#010101"/><stop offset=".8256" stop-color="#1e1e1e"/><stop offset=".8472" stop-color="#282828"/><stop offset=".8719" stop-color="#323232"/><stop offset=".8997" stop-color="#3b3b3b"/><stop offset=".9306" stop-color="#444444"/><stop offset=".9985" stop-color="#535353"/></linearGradient>
<linearGradient id="h72" gradientUnits="userSpaceOnUse" x1="0" y1="4" x2="0" y2="328" gradientTransform="translate(207,0) skewY(-14.921) translate(-207,0)"><stop offset=".0015" stop-color="#ffffff"/><stop offset=".3688" stop-color="#ffffff"/><stop offset=".3719" stop-color="#fdfdfd"/><stop offset=".3750" stop-color="#ededed"/><stop offset=".3781" stop-color="#c8c8c8"/><stop offset=".3812" stop-color="#ededed"/><stop offset=".3843" stop-color="#fdfdfd"/><stop offset=".3873" stop-color="#ffffff"/><stop offset=".4213" stop-color="#ffffff"/><stop offset=".4522" stop-color="#fdfdfd"/><stop offset=".4923" stop-color="#f9f9f9"/><stop offset=".5170" stop-color="#f3f3f3"/><stop offset=".5355" stop-color="#ececec"/><stop offset=".5509" stop-color="#e3e3e3"/><stop offset=".5664" stop-color="#d8d8d8"/><stop offset=".5818" stop-color="#cbcbcb"/><stop offset=".5910" stop-color="#c2c2c2"/><stop offset=".6065" stop-color="#b0b0b0"/><stop offset=".6373" stop-color="#888888"/><stop offset=".6651" stop-color="#676767"/><stop offset=".6991" stop-color="#3f3f3f"/><stop offset=".7176" stop-color="#2d2d2d"/><stop offset=".7361" stop-color="#1d1d1d"/><stop offset=".7639" stop-color="#070707"/><stop offset=".7731" stop-color="#010101"/><stop offset=".8225" stop-color="#1d1d1d"/><stop offset=".8472" stop-color="#282828"/><stop offset=".8719" stop-color="#323232"/><stop offset=".8997" stop-color="#3b3b3b"/><stop offset=".9306" stop-color="#444444"/><stop offset=".9985" stop-color="#535353"/></linearGradient>
<linearGradient id="h73" gradientUnits="userSpaceOnUse" x1="0" y1="4" x2="0" y2="328" gradientTransform="translate(209,0) skewY(-14.872) translate(-209,0)"><stop offset=".0015" stop-color="#ffffff"/><stop offset=".3688" stop-color="#ffffff"/><stop offset=".3719" stop-color="#fafafa"/><stop offset=".3750" stop-color="#e0e0e0"/><stop offset=".3781" stop-color="#e2e2e2"/><stop offset=".3812" stop-color="#fafafa"/><stop offset=".3843" stop-color="#ffffff"/><stop offset=".4213" stop-color="#ffffff"/><stop offset=".4522" stop-color="#fdfdfd"/><stop offset=".4923" stop-color="#f9f9f9"/><stop offset=".5201" stop-color="#f2f2f2"/><stop offset=".5386" stop-color="#eaeaea"/><stop offset=".5509" stop-color="#e3e3e3"/><stop offset=".5664" stop-color="#d9d9d9"/><stop offset=".5818" stop-color="#cbcbcb"/><stop offset=".5910" stop-color="#c2c2c2"/><stop offset=".6065" stop-color="#b0b0b0"/><stop offset=".6373" stop-color="#888888"/><stop offset=".6651" stop-color="#666666"/><stop offset=".6991" stop-color="#3f3f3f"/><stop offset=".7176" stop-color="#2d2d2d"/><stop offset=".7361" stop-color="#1c1c1c"/><stop offset=".7670" stop-color="#040404"/><stop offset=".7731" stop-color="#010101"/><stop offset=".8009" stop-color="#121212"/><stop offset=".8225" stop-color="#1d1d1d"/><stop offset=".8472" stop-color="#292929"/><stop offset=".8719" stop-color="#323232"/><stop offset=".8997" stop-color="#3c3c3c"/><stop offset=".9306" stop-color="#444444"/><stop offset=".9985" stop-color="#535353"/></linearGradient>
<linearGradient id="h74" gradientUnits="userSpaceOnUse" x1="0" y1="4" x2="0" y2="328" gradientTransform="translate(211,0) skewY(-14.823) translate(-211,0)"><stop offset=".0015" stop-color="#ffffff"/><stop offset=".3657" stop-color="#ffffff"/><stop offset=".3688" stop-color="#fefefe"/><stop offset=".3719" stop-color="#f5f5f5"/><stop offset=".3750" stop-color="#dcdcdc"/><stop offset=".3781" stop-color="#f6f6f6"/><stop offset=".3812" stop-color="#fefefe"/><stop offset=".3843" stop-color="#ffffff"/><stop offset=".4213" stop-color="#ffffff"/><stop offset=".4552" stop-color="#fdfdfd"/><stop offset=".4954" stop-color="#f9f9f9"/><stop offset=".5201" stop-color="#f3f3f3"/><stop offset=".5386" stop-color="#ebebeb"/><stop offset=".5509" stop-color="#e3e3e3"/><stop offset=".5664" stop-color="#d9d9d9"/><stop offset=".5818" stop-color="#cbcbcb"/><stop offset=".5910" stop-color="#c2c2c2"/><stop offset=".6065" stop-color="#b0b0b0"/><stop offset=".6373" stop-color="#888888"/><stop offset=".6651" stop-color="#666666"/><stop offset=".6991" stop-color="#3f3f3f"/><stop offset=".7176" stop-color="#2c2c2c"/><stop offset=".7392" stop-color="#1a1a1a"/><stop offset=".7670" stop-color="#040404"/><stop offset=".7701" stop-color="#020202"/><stop offset=".7731" stop-color="#010101"/><stop offset=".8009" stop-color="#121212"/><stop offset=".8225" stop-color="#1e1e1e"/><stop offset=".8472" stop-color="#292929"/><stop offset=".8719" stop-color="#333333"/><stop offset=".8997" stop-color="#3c3c3c"/><stop offset=".9306" stop-color="#454545"/><stop offset=".9985" stop-color="#535353"/></linearGradient>
<linearGradient id="h75" gradientUnits="userSpaceOnUse" x1="0" y1="4" x2="0" y2="328" gradientTransform="translate(213,0) skewY(-14.774) translate(-213,0)"><stop offset=".0015" stop-color="#ffffff"/><stop offset=".3657" stop-color="#ffffff"/><stop offset=".3688" stop-color="#fefefe"/><stop offset=".3719" stop-color="#fafafa"/><stop offset=".3750" stop-color="#fbfbfb"/><stop offset=".3781" stop-color="#fefefe"/><stop offset=".3812" stop-color="#ffffff"/><stop offset=".4213" stop-color="#ffffff"/><stop offset=".4491" stop-color="#fdfdfd"/><stop offset=".4861" stop-color="#fafafa"/><stop offset=".5046" stop-color="#f7f7f7"/><stop offset=".5201" stop-color="#f3f3f3"/><stop offset=".5386" stop-color="#ebebeb"/><stop offset=".5509" stop-color="#e4e4e4"/><stop offset=".5664" stop-color="#d9d9d9"/><stop offset=".5818" stop-color="#cccccc"/><stop offset=".5910" stop-color="#c2c2c2"/><stop offset=".6065" stop-color="#b0b0b0"/><stop offset=".6373" stop-color="#888888"/><stop offset=".6960" stop-color="#424242"/><stop offset=".7114" stop-color="#323232"/><stop offset=".7299" stop-color="#212121"/><stop offset=".7515" stop-color="#0f0f0f"/><stop offset=".7701" stop-color="#010101"/><stop offset=".7731" stop-color="#010101"/><stop offset=".8040" stop-color="#141414"/><stop offset=".8287" stop-color="#212121"/><stop offset=".8503" stop-color="#2b2b2b"/><stop offset=".8750" stop-color="#343434"/><stop offset=".9306" stop-color="#454545"/><stop offset=".9985" stop-color="#535353"/></linearGradient>
<linearGradient id="h76" gradientUnits="userSpaceOnUse" x1="0" y1="4" x2="0" y2="328" gradientTransform="translate(215,0) skewY(-14.725) translate(-215,0)"><stop offset=".0015" stop-color="#ffffff"/><stop offset=".4213" stop-color="#ffffff"/><stop offset=".4491" stop-color="#fdfdfd"/><stop offset=".4861" stop-color="#fafafa"/><stop offset=".5046" stop-color="#f7f7f7"/><stop offset=".5201" stop-color="#f3f3f3"/><stop offset=".5355" stop-color="#ececec"/><stop offset=".5509" stop-color="#e4e4e4"/><stop offset=".5664" stop-color="#d9d9d9"/><stop offset=".5818" stop-color="#cccccc"/><stop offset=".5910" stop-color="#c2c2c2"/><stop offset=".6065" stop-color="#b0b0b0"/><stop offset=".6373" stop-color="#888888"/><stop offset=".6960" stop-color="#414141"/><stop offset=".7114" stop-color="#323232"/><stop offset=".7299" stop-color="#212121"/><stop offset=".7546" stop-color="#0d0d0d"/><stop offset=".7701" stop-color="#010101"/><stop offset=".7731" stop-color="#010101"/><stop offset=".8009" stop-color="#121212"/><stop offset=".8256" stop-color="#202020"/><stop offset=".8472" stop-color="#292929"/><stop offset=".8719" stop-color="#333333"/><stop offset=".8997" stop-color="#3c3c3c"/><stop offset=".9306" stop-color="#454545"/><stop offset=".9985" stop-color="#535353"/></linearGradient>
<linearGradient id="h77" gradientUnits="userSpaceOnUse" x1="0" y1="4" x2="0" y2="328" gradientTransform="translate(217,0) skewY(-14.677) translate(-217,0)"><stop offset=".0015" stop-color="#ffffff"/><stop offset=".4213" stop-color="#ffffff"/><stop offset=".4491" stop-color="#fdfdfd"/><stop offset=".4861" stop-color="#fafafa"/><stop offset=".5046" stop-color="#f7f7f7"/><stop offset=".5201" stop-color="#f3f3f3"/><stop offset=".5355" stop-color="#ececec"/><stop offset=".5509" stop-color="#e4e4e4"/><stop offset=".5664" stop-color="#d9d9d9"/><stop offset=".5818" stop-color="#cccccc"/><stop offset=".5910" stop-color="#c2c2c2"/><stop offset=".6065" stop-color="#b0b0b0"/><stop offset=".6373" stop-color="#888888"/><stop offset=".6960" stop-color="#414141"/><stop offset=".7114" stop-color="#323232"/><stop offset=".7299" stop-color="#212121"/><stop offset=".7546" stop-color="#0c0c0c"/><stop offset=".7701" stop-color="#010101"/><stop offset=".7731" stop-color="#020202"/><stop offset=".8009" stop-color="#131313"/><stop offset=".8256" stop-color="#202020"/><stop offset=".8472" stop-color="#2a2a2a"/><stop offset=".8719" stop-color="#333333"/><stop offset=".8997" stop-color="#3d3d3d"/><stop offset=".9306" stop-color="#454545"/><stop offset=".9985" stop-color="#545454"/></linearGradient>
<linearGradient id="h78" gradientUnits="userSpaceOnUse" x1="0" y1="4" x2="0" y2="328" gradientTransform="translate(219,0) skewY(-14.628) translate(-219,0)"><stop offset=".0015" stop-color="#ffffff"/><stop offset=".4213" stop-color="#ffffff"/><stop offset=".4491" stop-color="#fdfdfd"/><stop offset=".4861" stop-color="#fafafa"/><stop offset=".5046" stop-color="#f7f7f7"/><stop offset=".5201" stop-color="#f3f3f3"/><stop offset=".5355" stop-color="#ececec"/><stop offset=".5509" stop-color="#e4e4e4"/><stop offset=".5664" stop-color="#d9d9d9"/><stop offset=".5818" stop-color="#cccccc"/><stop offset=".5910" stop-color="#c2c2c2"/><stop offset=".6065" stop-color="#b0b0b0"/><stop offset=".6373" stop-color="#888888"/><stop offset=".6960" stop-color="#414141"/><stop offset=".7114" stop-color="#313131"/><stop offset=".7299" stop-color="#202020"/><stop offset=".7546" stop-color="#0c0c0c"/><stop offset=".7701" stop-color="#010101"/><stop offset=".7731" stop-color="#020202"/><stop offset=".7978" stop-color="#111111"/><stop offset=".8225" stop-color="#1f1f1f"/><stop offset=".8472" stop-color="#2a2a2a"/><stop offset=".8719" stop-color="#343434"/><stop offset=".8997" stop-color="#3d3d3d"/><stop offset=".9306" stop-color="#454545"/><stop offset=".9985" stop-color="#545454"/></linearGradient>
<linearGradient id="h79" gradientUnits="userSpaceOnUse" x1="0" y1="4" x2="0" y2="328" gradientTransform="translate(221,0) skewY(-15.138) translate(-221,0)"><stop offset=".0015" stop-color="#ffffff"/><stop offset=".4213" stop-color="#ffffff"/><stop offset=".4491" stop-color="#fdfdfd"/><stop offset=".4861" stop-color="#fafafa"/><stop offset=".5046" stop-color="#f7f7f7"/><stop offset=".5201" stop-color="#f3f3f3"/><stop offset=".5355" stop-color="#ededed"/><stop offset=".5509" stop-color="#e4e4e4"/><stop offset=".5664" stop-color="#d9d9d9"/><stop offset=".5818" stop-color="#cccccc"/><stop offset=".5910" stop-color="#c2c2c2"/><stop offset=".6065" stop-color="#b0b0b0"/><stop offset=".6373" stop-color="#888888"/><stop offset=".6960" stop-color="#414141"/><stop offset=".7114" stop-color="#313131"/><stop offset=".7299" stop-color="#202020"/><stop offset=".7577" stop-color="#090909"/><stop offset=".7701" stop-color="#010101"/><stop offset=".7731" stop-color="#020202"/><stop offset=".8009" stop-color="#131313"/><stop offset=".8225" stop-color="#1f1f1f"/><stop offset=".8472" stop-color="#2a2a2a"/><stop offset=".8719" stop-color="#343434"/><stop offset=".8997" stop-color="#3d3d3d"/><stop offset=".9306" stop-color="#464646"/><stop offset=".9985" stop-color="#545454"/></linearGradient>
<linearGradient id="h80" gradientUnits="userSpaceOnUse" x1="0" y1="4" x2="0" y2="328" gradientTransform="translate(223,0) skewY(-15.138) translate(-223,0)"><stop offset=".0015" stop-color="#ffffff"/><stop offset=".4213" stop-color="#ffffff"/><stop offset=".4491" stop-color="#fefefe"/><stop offset=".4861" stop-color="#fafafa"/><stop offset=".5046" stop-color="#f7f7f7"/><stop offset=".5201" stop-color="#f3f3f3"/><stop offset=".5355" stop-color="#ededed"/><stop offset=".5509" stop-color="#e4e4e4"/><stop offset=".5664" stop-color="#d9d9d9"/><stop offset=".5818" stop-color="#cccccc"/><stop offset=".5910" stop-color="#c2c2c2"/><stop offset=".6065" stop-color="#b0b0b0"/><stop offset=".6373" stop-color="#888888"/><stop offset=".6960" stop-color="#414141"/><stop offset=".7145" stop-color="#2e2e2e"/><stop offset=".7330" stop-color="#1d1d1d"/><stop offset=".7608" stop-color="#070707"/><stop offset=".7670" stop-color="#020202"/><stop offset=".7701" stop-color="#010101"/><stop offset=".8009" stop-color="#141414"/><stop offset=".8194" stop-color="#1e1e1e"/><stop offset=".8441" stop-color="#292929"/><stop offset=".8688" stop-color="#333333"/><stop offset=".8966" stop-color="#3c3c3c"/><stop offset=".9275" stop-color="#454545"/><stop offset=".9614" stop-color="#4d4d4d"/><stop offset=".9985" stop-color="#545454"/></linearGradient>
<linearGradient id="h81" gradientUnits="userSpaceOnUse" x1="0" y1="4" x2="0" y2="328" gradientTransform="translate(225,0) skewY(-15.138) translate(-225,0)"><stop offset=".0015" stop-color="#ffffff"/><stop offset=".3565" stop-color="#ffffff"/><stop offset=".3596" stop-color="#fdfdfd"/><stop offset=".3627" stop-color="#f3f3f3"/><stop offset=".3657" stop-color="#fdfdfd"/><stop offset=".3688" stop-color="#ffffff"/><stop offset=".4213" stop-color="#ffffff"/><stop offset=".4522" stop-color="#fdfdfd"/><stop offset=".4892" stop-color="#fafafa"/><stop offset=".5046" stop-color="#f7f7f7"/><stop offset=".5201" stop-color="#f3f3f3"/><stop offset=".5355" stop-color="#ededed"/><stop offset=".5509" stop-color="#e4e4e4"/><stop offset=".5664" stop-color="#d9d9d9"/><stop offset=".5818" stop-color="#cccccc"/><stop offset=".5910" stop-color="#c3c3c3"/><stop offset=".6065" stop-color="#b0b0b0"/><stop offset=".6373" stop-color="#888888"/><stop offset=".6960" stop-color="#404040"/><stop offset=".7145" stop-color="#2e2e2e"/><stop offset=".7330" stop-color="#1d1d1d"/><stop offset=".7639" stop-color="#040404"/><stop offset=".7701" stop-color="#010101"/><stop offset=".7978" stop-color="#121212"/><stop offset=".8194" stop-color="#1e1e1e"/><stop offset=".8441" stop-color="#2a2a2a"/><stop offset=".8688" stop-color="#333333"/><stop offset=".8966" stop-color="#3d3d3d"/><stop offset=".9275" stop-color="#454545"/><stop offset=".9614" stop-color="#4d4d4d"/><stop offset=".9985" stop-color="#545454"/></linearGradient>
<linearGradient id="h82" gradientUnits="userSpaceOnUse" x1="0" y1="4" x2="0" y2="328" gradientTransform="translate(227,0) skewY(-15.138) translate(-227,0)"><stop offset=".0015" stop-color="#ffffff"/><stop offset=".3534" stop-color="#ffffff"/><stop offset=".3565" stop-color="#fefefe"/><stop offset=".3627" stop-color="#f1f1f1"/><stop offset=".3657" stop-color="#fcfcfc"/><stop offset=".3688" stop-color="#ffffff"/><stop offset=".4244" stop-color="#ffffff"/><stop offset=".4522" stop-color="#fdfdfd"/><stop offset=".4892" stop-color="#fafafa"/><stop offset=".5046" stop-color="#f7f7f7"/><stop offset=".5201" stop-color="#f3f3f3"/><stop offset=".5355" stop-color="#ededed"/><stop offset=".5509" stop-color="#e4e4e4"/><stop offset=".5664" stop-color="#d9d9d9"/><stop offset=".5818" stop-color="#cccccc"/><stop offset=".5910" stop-color="#c3c3c3"/><stop offset=".6065" stop-color="#b0b0b0"/><stop offset=".6373" stop-color="#888888"/><stop offset=".6960" stop-color="#404040"/><stop offset=".7145" stop-color="#2d2d2d"/><stop offset=".7361" stop-color="#1a1a1a"/><stop offset=".7639" stop-color="#040404"/><stop offset=".7670" stop-color="#020202"/><stop offset=".7701" stop-color="#010101"/><stop offset=".7978" stop-color="#121212"/><stop offset=".8194" stop-color="#1e1e1e"/><stop offset=".8441" stop-color="#2a2a2a"/><stop offset=".8688" stop-color="#343434"/><stop offset=".8966" stop-color="#3d3d3d"/><stop offset=".9275" stop-color="#464646"/><stop offset=".9614" stop-color="#4d4d4d"/><stop offset=".9985" stop-color="#555555"/></linearGradient>
<linearGradient id="h83" gradientUnits="userSpaceOnUse" x1="0" y1="4" x2="0" y2="328" gradientTransform="translate(229,0) skewY(-15.138) translate(-229,0)"><stop offset=".0015" stop-color="#ffffff"/><stop offset=".3503" stop-color="#ffffff"/><stop offset=".3534" stop-color="#fefefe"/><stop offset=".3565" stop-color="#f8f8f8"/><stop offset=".3596" stop-color="#dedede"/><stop offset=".3627" stop-color="#f0f0f0"/><stop offset=".3657" stop-color="#fdfdfd"/><stop offset=".3688" stop-color="#ffffff"/><stop offset=".4213" stop-color="#ffffff"/><stop offset=".4522" stop-color="#fdfdfd"/><stop offset=".4954" stop-color="#f9f9f9"/><stop offset=".5201" stop-color="#f3f3f3"/><stop offset=".5386" stop-color="#ebebeb"/><stop offset=".5540" stop-color="#e2e2e2"/><stop offset=".5694" stop-color="#d7d7d7"/><stop offset=".5849" stop-color="#c9c9c9"/><stop offset=".6065" stop-color="#b0b0b0"/><stop offset=".6373" stop-color="#888888"/><stop offset=".6960" stop-color="#404040"/><stop offset=".7114" stop-color="#303030"/><stop offset=".7269" stop-color="#222222"/><stop offset=".7485" stop-color="#101010"/><stop offset=".7670" stop-color="#010101"/><stop offset=".7701" stop-color="#010101"/><stop offset=".8009" stop-color="#141414"/><stop offset=".8256" stop-color="#222222"/><stop offset=".8472" stop-color="#2b2b2b"/><stop offset=".8719" stop-color="#353535"/><stop offset=".8997" stop-color="#3e3e3e"/><stop offset=".9306" stop-color="#474747"/><stop offset=".9985" stop-color="#555555"/></linearGradient>
<linearGradient id="h84" gradientUnits="userSpaceOnUse" x1="0" y1="4" x2="0" y2="328" gradientTransform="translate(231,0) skewY(-15.138) translate(-231,0)"><stop offset=".0015" stop-color="#ffffff"/><stop offset=".3503" stop-color="#ffffff"/><stop offset=".3534" stop-color="#fbfbfb"/><stop offset=".3565" stop-color="#e2e2e2"/><stop offset=".3596" stop-color="#c8c8c8"/><stop offset=".3627" stop-color="#f5f5f5"/><stop offset=".3657" stop-color="#ffffff"/><stop offset=".4213" stop-color="#ffffff"/><stop offset=".4522" stop-color="#fdfdfd"/><stop offset=".4954" stop-color="#f9f9f9"/><stop offset=".5201" stop-color="#f3f3f3"/><stop offset=".5386" stop-color="#ebebeb"/><stop offset=".5540" stop-color="#e3e3e3"/><stop offset=".5694" stop-color="#d7d7d7"/><stop offset=".5849" stop-color="#c9c9c9"/><stop offset=".6065" stop-color="#b0b0b0"/><stop offset=".6373" stop-color="#878787"/><stop offset=".6960" stop-color="#404040"/><stop offset=".7114" stop-color="#303030"/><stop offset=".7269" stop-color="#222222"/><stop offset=".7515" stop-color="#0d0d0d"/><stop offset=".7670" stop-color="#010101"/><stop offset=".7701" stop-color="#020202"/><stop offset=".7978" stop-color="#131313"/><stop offset=".8225" stop-color="#202020"/><stop offset=".8441" stop-color="#2a2a2a"/><stop offset=".8688" stop-color="#343434"/><stop offset=".8966" stop-color="#3d3d3d"/><stop offset=".9275" stop-color="#464646"/><stop offset=".9614" stop-color="#4e4e4e"/><stop offset=".9985" stop-color="#555555"/></linearGradient>
<linearGradient id="h85" gradientUnits="userSpaceOnUse" x1="0" y1="4" x2="0" y2="328" gradientTransform="translate(233,0) skewY(-15.138) translate(-233,0)"><stop offset=".0015" stop-color="#ffffff"/><stop offset=".3472" stop-color="#fefefe"/><stop offset=".3503" stop-color="#fdfdfd"/><stop offset=".3534" stop-color="#efefef"/><stop offset=".3565" stop-color="#c1c1c1"/><stop offset=".3596" stop-color="#e6e6e6"/><stop offset=".3627" stop-color="#fcfcfc"/><stop offset=".3657" stop-color="#ffffff"/><stop offset=".4213" stop-color="#ffffff"/><stop offset=".4522" stop-color="#fdfdfd"/><stop offset=".4954" stop-color="#f9f9f9"/><stop offset=".5201" stop-color="#f3f3f3"/><stop offset=".5355" stop-color="#ededed"/><stop offset=".5509" stop-color="#e5e5e5"/><stop offset=".5664" stop-color="#dadada"/><stop offset=".5818" stop-color="#cccccc"/><stop offset=".5910" stop-color="#c3c3c3"/><stop offset=".6065" stop-color="#b0b0b0"/><stop offset=".6373" stop-color="#878787"/><stop offset=".6960" stop-color="#3f3f3f"/><stop offset=".7114" stop-color="#303030"/><stop offset=".7299" stop-color="#1f1f1f"/><stop offset=".7546" stop-color="#0a0a0a"/><stop offset=".7670" stop-color="#010101"/><stop offset=".7701" stop-color="#020202"/><stop offset=".7948" stop-color="#111111"/><stop offset=".8194" stop-color="#1f1f1f"/><stop offset=".8441" stop-color="#2b2b2b"/><stop offset=".8688" stop-color="#343434"/><stop offset=".8966" stop-color="#3e3e3e"/><stop offset=".9275" stop-color="#464646"/><stop offset=".9614" stop-color="#4e4e4e"/><stop offset=".9985" stop-color="#555555"/></linearGradient>
<linearGradient id="h86" gradientUnits="userSpaceOnUse" x1="0" y1="4" x2="0" y2="328" gradientTransform="translate(235,0) skewY(-15.138) translate(-235,0)"><stop offset=".0015" stop-color="#ffffff"/><stop offset=".3133" stop-color="#ffffff"/><stop offset=".3472" stop-color="#fefefe"/><stop offset=".3503" stop-color="#f6f6f6"/><stop offset=".3534" stop-color="#cccccc"/><stop offset=".3565" stop-color="#bfbfbf"/><stop offset=".3596" stop-color="#f3f3f3"/><stop offset=".3627" stop-color="#ffffff"/><stop offset=".4213" stop-color="#ffffff"/><stop offset=".4522" stop-color="#fdfdfd"/><stop offset=".4954" stop-color="#f9f9f9"/><stop offset=".5201" stop-color="#f4f4f4"/><stop offset=".5355" stop-color="#ededed"/><stop offset=".5509" stop-color="#e5e5e5"/><stop offset=".5664" stop-color="#dadada"/><stop offset=".5818" stop-color="#cccccc"/><stop offset=".5910" stop-color="#c3c3c3"/><stop offset=".6065" stop-color="#b0b0b0"/><stop offset=".6373" stop-color="#878787"/><stop offset=".6960" stop-color="#3f3f3f"/><stop offset=".7114" stop-color="#2f2f2f"/><stop offset=".7299" stop-color="#1e1e1e"/><stop offset=".7546" stop-color="#0a0a0a"/><stop offset=".7670" stop-color="#010101"/><stop offset=".7701" stop-color="#020202"/><stop offset=".7948" stop-color="#121212"/><stop offset=".8194" stop-color="#1f1f1f"/><stop offset=".8441" stop-color="#2b2b2b"/><stop offset=".8688" stop-color="#353535"/><stop offset=".8966" stop-color="#3e3e3e"/><stop offset=".9275" stop-color="#474747"/><stop offset=".9614" stop-color="#4e4e4e"/><stop offset=".9985" stop-color="#555555"/></linearGradient>
<linearGradient id="h87" gradientUnits="userSpaceOnUse" x1="0" y1="4" x2="0" y2="328" gradientTransform="translate(237,0) skewY(-15.138) translate(-237,0)"><stop offset=".0015" stop-color="#ffffff"/><stop offset=".3040" stop-color="#ffffff"/><stop offset=".3441" stop-color="#fefefe"/><stop offset=".3472" stop-color="#fbfbfb"/><stop offset=".3503" stop-color="#e1e1e1"/><stop offset=".3534" stop-color="#9d9d9d"/><stop offset=".3565" stop-color="#dddddd"/><stop offset=".3596" stop-color="#fcfcfc"/><stop offset=".3627" stop-color="#ffffff"/><stop offset=".4244" stop-color="#ffffff"/><stop offset=".4522" stop-color="#fdfdfd"/><stop offset=".4954" stop-color="#f9f9f9"/><stop offset=".5201" stop-color="#f4f4f4"/><stop offset=".5355" stop-color="#ededed"/><stop offset=".5509" stop-color="#e5e5e5"/><stop offset=".5664" stop-color="#dadada"/><stop offset=".5818" stop-color="#cccccc"/><stop offset=".5910" stop-color="#c3c3c3"/><stop offset=".6065" stop-color="#b0b0b0"/><stop offset=".6373" stop-color="#878787"/><stop offset=".6651" stop-color="#646464"/><stop offset=".6960" stop-color="#3f3f3f"/><stop offset=".7114" stop-color="#2f2f2f"/><stop offset=".7299" stop-color="#1e1e1e"/><stop offset=".7577" stop-color="#070707"/><stop offset=".7670" stop-color="#010101"/><stop offset=".7978" stop-color="#141414"/><stop offset=".8194" stop-color="#202020"/><stop offset=".8441" stop-color="#2b2b2b"/><stop offset=".8688" stop-color="#353535"/><stop offset=".8966" stop-color="#3e3e3e"/><stop offset=".9275" stop-color="#474747"/><stop offset=".9614" stop-color="#4f4f4f"/><stop offset=".9985" stop-color="#565656"/></linearGradient>
<linearGradient id="h88" gradientUnits="userSpaceOnUse" x1="0" y1="4" x2="0" y2="328" gradientTransform="translate(239,0) skewY(-15.138) translate(-239,0)"><stop offset=".0015" stop-color="#ffffff"/><stop offset=".2978" stop-color="#ffffff"/><stop offset=".3410" stop-color="#fefefe"/><stop offset=".3441" stop-color="#fdfdfd"/><stop offset=".3472" stop-color="#efefef"/><stop offset=".3503" stop-color="#b1b1b1"/><stop offset=".3534" stop-color="#b4b4b4"/><stop offset=".3565" stop-color="#f2f2f2"/><stop offset=".3596" stop-color="#ffffff"/><stop offset=".4213" stop-color="#ffffff"/><stop offset=".4522" stop-color="#fefefe"/><stop offset=".4954" stop-color="#f9f9f9"/><stop offset=".5201" stop-color="#f4f4f4"/><stop offset=".5355" stop-color="#ededed"/><stop offset=".5509" stop-color="#e5e5e5"/><stop offset=".5664" stop-color="#dadada"/><stop offset=".5818" stop-color="#cccccc"/><stop offset=".5910" stop-color="#c3c3c3"/><stop offset=".6065" stop-color="#b0b0b0"/><stop offset=".6373" stop-color="#878787"/><stop offset=".6651" stop-color="#646464"/><stop offset=".6960" stop-color="#3e3e3e"/><stop offset=".7145" stop-color="#2c2c2c"/><stop offset=".7330" stop-color="#1b1b1b"/><stop offset=".7608" stop-color="#040404"/><stop offset=".7670" stop-color="#010101"/><stop offset=".7948" stop-color="#121212"/><stop offset=".8164" stop-color="#1e1e1e"/><stop offset=".8410" stop-color="#2a2a2a"/><stop offset=".8657" stop-color="#343434"/><stop offset=".8935" stop-color="#3e3e3e"/><stop offset=".9244" stop-color="#464646"/><stop offset=".9614" stop-color="#4f4f4f"/><stop offset=".9985" stop-color="#565656"/></linearGradient>
<linearGradient id="h89" gradientUnits="userSpaceOnUse" x1="0" y1="4" x2="0" y2="328" gradientTransform="translate(241,0) skewY(-15.138) translate(-241,0)"><stop offset=".0015" stop-color="#ffffff"/><stop offset=".3009" stop-color="#ffffff"/><stop offset=".3287" stop-color="#fefefe"/><stop offset=".3410" stop-color="#fdfdfd"/><stop offset=".3441" stop-color="#f8f8f8"/><stop offset=".3472" stop-color="#d2d2d2"/><stop offset=".3503" stop-color="#8c8c8c"/><stop offset=".3534" stop-color="#d9d9d9"/><stop offset=".3565" stop-color="#fcfcfc"/><stop offset=".3596" stop-color="#ffffff"/><stop offset=".4244" stop-color="#ffffff"/><stop offset=".4522" stop-color="#fefefe"/><stop offset=".4954" stop-color="#f9f9f9"/><stop offset=".5201" stop-color="#f4f4f4"/><stop offset=".5355" stop-color="#ededed"/><stop offset=".5509" stop-color="#e5e5e5"/><stop offset=".5664" stop-color="#dadada"/><stop offset=".5818" stop-color="#cdcdcd"/><stop offset=".5910" stop-color="#c3c3c3"/><stop offset=".6065" stop-color="#b0b0b0"/><stop offset=".6373" stop-color="#878787"/><stop offset=".6867" stop-color="#494949"/><stop offset=".6960" stop-color="#3e3e3e"/><stop offset=".7145" stop-color="#2b2b2b"/><stop offset=".7361" stop-color="#181818"/><stop offset=".7608" stop-color="#040404"/><stop offset=".7639" stop-color="#020202"/><stop offset=".7670" stop-color="#010101"/><stop offset=".7948" stop-color="#131313"/><stop offset=".8164" stop-color="#1f1f1f"/><stop offset=".8410" stop-color="#2b2b2b"/><stop offset=".8657" stop-color="#343434"/><stop offset=".8935" stop-color="#3e3e3e"/><stop offset=".9244" stop-color="#464646"/><stop offset=".9614" stop-color="#4f4f4f"/><stop offset=".9985" stop-color="#565656"/></linearGradient>
<linearGradient id="h90" gradientUnits="userSpaceOnUse" x1="0" y1="4" x2="0" y2="328" gradientTransform="translate(243,0) skewY(-15.138) translate(-243,0)"><stop offset=".0015" stop-color="#ffffff"/><stop offset=".2948" stop-color="#ffffff"/><stop offset=".3256" stop-color="#fefefe"/><stop offset=".3380" stop-color="#fdfdfd"/><stop offset=".3410" stop-color="#fbfbfb"/><stop offset=".3441" stop-color="#e6e6e6"/><stop offset=".3472" stop-color="#909090"/><stop offset=".3503" stop-color="#ababab"/><stop offset=".3534" stop-color="#f1f1f1"/><stop offset=".3565" stop-color="#ffffff"/><stop offset=".4213" stop-color="#ffffff"/><stop offset=".4522" stop-color="#fefefe"/><stop offset=".4954" stop-color="#f9f9f9"/><stop offset=".5231" stop-color="#f3f3f3"/><stop offset=".5417" stop-color="#eaeaea"/><stop offset=".5540" stop-color="#e3e3e3"/><stop offset=".5694" stop-color="#d8d8d8"/><stop offset=".5849" stop-color="#cacaca"/><stop offset=".6065" stop-color="#b0b0b0"/><stop offset=".6343" stop-color="#8b8b8b"/><stop offset=".6929" stop-color="#414141"/><stop offset=".7083" stop-color="#313131"/><stop offset=".7238" stop-color="#232323"/><stop offset=".7454" stop-color="#101010"/><stop offset=".7639" stop-color="#010101"/><stop offset=".7670" stop-color="#010101"/><stop offset=".7948" stop-color="#131313"/><stop offset=".8194" stop-color="#212121"/><stop offset=".8441" stop-color="#2c2c2c"/><stop offset=".8688" stop-color="#363636"/><stop offset=".8966" stop-color="#3f3f3f"/><stop offset=".9275" stop-color="#484848"/><stop offset=".9614" stop-color="#4f4f4f"/><stop offset=".9985" stop-color="#565656"/></linearGradient>
<linearGradient id="h91" gradientUnits="userSpaceOnUse" x1="0" y1="4" x2="0" y2="328" gradientTransform="translate(245,0) skewY(-15.138) translate(-245,0)"><stop offset=".0015" stop-color="#ffffff"/><stop offset=".2886" stop-color="#ffffff"/><stop offset=".3225" stop-color="#fefefe"/><stop offset=".3349" stop-color="#fdfdfd"/><stop offset=".3380" stop-color="#fcfcfc"/><stop offset=".3410" stop-color="#f3f3f3"/><stop offset=".3441" stop-color="#bebebe"/><stop offset=".3472" stop-color="#787878"/><stop offset=".3503" stop-color="#d6d6d6"/><stop offset=".3534" stop-color="#fbfbfb"/><stop offset=".3565" stop-color="#ffffff"/><stop offset=".4244" stop-color="#ffffff"/><stop offset=".4552" stop-color="#fdfdfd"/><stop offset=".4985" stop-color="#f9f9f9"/><stop offset=".5231" stop-color="#f3f3f3"/><stop offset=".5417" stop-color="#eaeaea"/><stop offset=".5540" stop-color="#e3e3e3"/><stop offset=".5694" stop-color="#d8d8d8"/><stop offset=".5849" stop-color="#cacaca"/><stop offset=".6065" stop-color="#b0b0b0"/><stop offset=".6343" stop-color="#8a8a8a"/><stop offset=".6929" stop-color="#414141"/><stop offset=".7083" stop-color="#313131"/><stop offset=".7238" stop-color="#222222"/><stop offset=".7485" stop-color="#0d0d0d"/><stop offset=".7639" stop-color="#010101"/><stop offset=".7670" stop-color="#020202"/><stop offset=".7948" stop-color="#131313"/><stop offset=".8194" stop-color="#212121"/><stop offset=".8410" stop-color="#2b2b2b"/><stop offset=".8657" stop-color="#353535"/><stop offset=".8935" stop-color="#3e3e3e"/><stop offset=".9244" stop-color="#474747"/><stop offset=".9583" stop-color="#4f4f4f"/><stop offset=".9985" stop-color="#575757"/></linearGradient>
<linearGradient id="h92" gradientUnits="userSpaceOnUse" x1="0" y1="4" x2="0" y2="328" gradientTransform="translate(247,0) skewY(-15.138) translate(-247,0)"><stop offset=".0015" stop-color="#ffffff"/><stop offset=".2917" stop-color="#ffffff"/><stop offset=".3225" stop-color="#fefefe"/><stop offset=".3349" stop-color="#fcfcfc"/><stop offset=".3380" stop-color="#f8f8f8"/><stop offset=".3410" stop-color="#dbdbdb"/><stop offset=".3441" stop-color="#797979"/><stop offset=".3472" stop-color="#a4a4a4"/><stop offset=".3503" stop-color="#f1f1f1"/><stop offset=".3534" stop-color="#ffffff"/><stop offset=".4244" stop-color="#ffffff"/><stop offset=".4552" stop-color="#fdfdfd"/><stop offset=".4985" stop-color="#f9f9f9"/><stop offset=".5231" stop-color="#f3f3f3"/><stop offset=".5386" stop-color="#ececec"/><stop offset=".5540" stop-color="#e3e3e3"/><stop offset=".5694" stop-color="#d8d8d8"/><stop offset=".5849" stop-color="#cacaca"/><stop offset=".6065" stop-color="#b0b0b0"/><stop offset=".6343" stop-color="#8a8a8a"/><stop offset=".6929" stop-color="#414141"/><stop offset=".7083" stop-color="#313131"/><stop offset=".7269" stop-color="#1f1f1f"/><stop offset=".7515" stop-color="#0a0a0a"/><stop offset=".7639" stop-color="#010101"/><stop offset=".7670" stop-color="#020202"/><stop offset=".7917" stop-color="#121212"/><stop offset=".8164" stop-color="#202020"/><stop offset=".8410" stop-color="#2b2b2b"/><stop offset=".8657" stop-color="#353535"/><stop offset=".8935" stop-color="#3f3f3f"/><stop offset=".9244" stop-color="#474747"/><stop offset=".9583" stop-color="#4f4f4f"/><stop offset=".9985" stop-color="#575757"/></linearGradient>
<linearGradient id="h93" gradientUnits="userSpaceOnUse" x1="0" y1="4" x2="0" y2="328" gradientTransform="translate(249,0) skewY(-15.138) translate(-249,0)"><stop offset=".0015" stop-color="#ffffff"/><stop offset=".2886" stop-color="#ffffff"/><stop offset=".3194" stop-color="#fefefe"/><stop offset=".3318" stop-color="#fcfcfc"/><stop offset=".3349" stop-color="#fafafa"/><stop offset=".3380" stop-color="#ececec"/><stop offset=".3410" stop-color="#a6a6a6"/><stop offset=".3441" stop-color="#686868"/><stop offset=".3472" stop-color="#d5d5d5"/><stop offset=".3503" stop-color="#fcfcfc"/><stop offset=".3534" stop-color="#ffffff"/><stop offset=".4244" stop-color="#ffffff"/><stop offset=".4552" stop-color="#fdfdfd"/><stop offset=".4985" stop-color="#f9f9f9"/><stop offset=".5231" stop-color="#f3f3f3"/><stop offset=".5386" stop-color="#ececec"/><stop offset=".5540" stop-color="#e3e3e3"/><stop offset=".5694" stop-color="#d8d8d8"/><stop offset=".5849" stop-color="#cacaca"/><stop offset=".6065" stop-color="#b0b0b0"/><stop offset=".6343" stop-color="#8a8a8a"/><stop offset=".6929" stop-color="#404040"/><stop offset=".7083" stop-color="#303030"/><stop offset=".7269" stop-color="#1f1f1f"/><stop offset=".7515" stop-color="#0a0a0a"/><stop offset=".7639" stop-color="#010101"/><stop offset=".7670" stop-color="#020202"/><stop offset=".7948" stop-color="#141414"/><stop offset=".8164" stop-color="#202020"/><stop offset=".8410" stop-color="#2c2c2c"/><stop offset=".8657" stop-color="#363636"/><stop offset=".8935" stop-color="#3f3f3f"/><stop offset=".9244" stop-color="#484848"/><stop offset=".9583" stop-color="#4f4f4f"/><stop offset=".9985" stop-color="#575757"/></linearGradient>
<linearGradient id="h94" gradientUnits="userSpaceOnUse" x1="0" y1="4" x2="0" y2="328" gradientTransform="translate(251,0) skewY(-15.138) translate(-251,0)"><stop offset=".0015" stop-color="#ffffff"/><stop offset=".2824" stop-color="#ffffff"/><stop offset=".3133" stop-color="#fefefe"/><stop offset=".3287" stop-color="#fcfcfc"/><stop offset=".3318" stop-color="#fafafa"/><stop offset=".3349" stop-color="#f4f4f4"/><stop offset=".3380" stop-color="#cdcdcd"/><stop offset=".3410" stop-color="#616161"/><stop offset=".3441" stop-color="#9f9f9f"/><stop offset=".3472" stop-color="#f1f1f1"/><stop offset=".3503" stop-color="#fefefe"/><stop offset=".4244" stop-color="#ffffff"/><stop offset=".4552" stop-color="#fdfdfd"/><stop offset=".4985" stop-color="#f9f9f9"/><stop offset=".5231" stop-color="#f3f3f3"/><stop offset=".5386" stop-color="#ececec"/><stop offset=".5540" stop-color="#e3e3e3"/><stop offset=".5694" stop-color="#d8d8d8"/><stop offset=".5849" stop-color="#cacaca"/><stop offset=".6065" stop-color="#b0b0b0"/><stop offset=".6343" stop-color="#8a8a8a"/><stop offset=".6929" stop-color="#404040"/><stop offset=".7083" stop-color="#303030"/><stop offset=".7269" stop-color="#1e1e1e"/><stop offset=".7546" stop-color="#070707"/><stop offset=".7608" stop-color="#020202"/><stop offset=".7639" stop-color="#010101"/><stop offset=".7917" stop-color="#131313"/><stop offset=".8133" stop-color="#1f1f1f"/><stop offset=".8380" stop-color="#2b2b2b"/><stop offset=".8657" stop-color="#363636"/><stop offset=".8935" stop-color="#3f3f3f"/><stop offset=".9244" stop-color="#484848"/><stop offset=".9583" stop-color="#505050"/><stop offset=".9985" stop-color="#575757"/></linearGradient>
<linearGradient id="h95" gradientUnits="userSpaceOnUse" x1="0" y1="4" x2="0" y2="328" gradientTransform="translate(253,0) skewY(-15.138) translate(-253,0)"><stop offset=".0015" stop-color="#ffffff"/><stop offset=".2855" stop-color="#fefefe"/><stop offset=".3164" stop-color="#fdfdfd"/><stop offset=".3287" stop-color="#fafafa"/><stop offset=".3318" stop-color="#f7f7f7"/><stop offset=".3349" stop-color="#e4e4e4"/><stop offset=".3380" stop-color="#8d8d8d"/><stop offset=".3410" stop-color="#5f5f5f"/><stop offset=".3441" stop-color="#d4d4d4"/><stop offset=".3472" stop-color="#fcfcfc"/><stop offset=".3503" stop-color="#ffffff"/><stop offset=".4244" stop-color="#ffffff"/><stop offset=".4552" stop-color="#fdfdfd"/><stop offset=".4985" stop-color="#f9f9f9"/><stop offset=".5231" stop-color="#f3f3f3"/><stop offset=".5386" stop-color="#ececec"/><stop offset=".5540" stop-color="#e3e3e3"/><stop offset=".5694" stop-color="#d8d8d8"/><stop offset=".5849" stop-color="#cacaca"/><stop offset=".6065" stop-color="#b0b0b0"/><stop offset=".6343" stop-color="#8a8a8a"/><stop offset=".6929" stop-color="#404040"/><stop offset=".7114" stop-color="#2d2d2d"/><stop offset=".7299" stop-color="#1b1b1b"/><stop offset=".7577" stop-color="#040404"/><stop offset=".7608" stop-color="#020202"/><stop offset=".7639" stop-color="#010101"/><stop offset=".7917" stop-color="#131313"/><stop offset=".8133" stop-color="#1f1f1f"/><stop offset=".8380" stop-color="#2b2b2b"/><stop offset=".8657" stop-color="#363636"/><stop offset=".8935" stop-color="#404040"/><stop offset=".9244" stop-color="#484848"/><stop offset=".9614" stop-color="#515151"/><stop offset=".9985" stop-color="#575757"/></linearGradient>
<linearGradient id="h96" gradientUnits="userSpaceOnUse" x1="0" y1="4" x2="0" y2="328" gradientTransform="translate(255,0) skewY(-15.138) translate(-255,0)"><stop offset=".0015" stop-color="#ffffff"/><stop offset=".2793" stop-color="#fefefe"/><stop offset=".3102" stop-color="#fdfdfd"/><stop offset=".3256" stop-color="#fafafa"/><stop offset=".3287" stop-color="#f8f8f8"/><stop offset=".3318" stop-color="#efefef"/><stop offset=".3349" stop-color="#bbbbbb"/><stop offset=".3380" stop-color="#4c4c4c"/><stop offset=".3410" stop-color="#9d9d9d"/><stop offset=".3441" stop-color="#f1f1f1"/><stop offset=".3472" stop-color="#fefefe"/><stop offset=".4244" stop-color="#ffffff"/><stop offset=".4552" stop-color="#fefefe"/><stop offset=".4985" stop-color="#f9f9f9"/><stop offset=".5231" stop-color="#f3f3f3"/><stop offset=".5386" stop-color="#ececec"/><stop offset=".5540" stop-color="#e3e3e3"/><stop offset=".5694" stop-color="#d8d8d8"/><stop offset=".5849" stop-color="#cacaca"/><stop offset=".6065" stop-color="#b0b0b0"/><stop offset=".6343" stop-color="#8a8a8a"/><stop offset=".6620" stop-color="#666666"/><stop offset=".6929" stop-color="#3f3f3f"/><stop offset=".7083" stop-color="#2f2f2f"/><stop offset=".7238" stop-color="#212121"/><stop offset=".7454" stop-color="#0e0e0e"/><stop offset=".7608" stop-color="#020202"/><stop offset=".7639" stop-color="#010101"/><stop offset=".7948" stop-color="#151515"/><stop offset=".8194" stop-color="#232323"/><stop offset=".8410" stop-color="#2d2d2d"/><stop offset=".8657" stop-color="#373737"/><stop offset=".8935" stop-color="#404040"/><stop offset=".9244" stop-color="#484848"/><stop offset=".9614" stop-color="#515151"/><stop offset=".9985" stop-color="#585858"/></linearGradient>
<linearGradient id="h97" gradientUnits="userSpaceOnUse" x1="0" y1="4" x2="0" y2="328" gradientTransform="translate(257,0) skewY(-15.138) translate(-257,0)"><stop offset=".0015" stop-color="#ffffff"/><stop offset=".2731" stop-color="#fefefe"/><stop offset=".3071" stop-color="#fdfdfd"/><stop offset=".3225" stop-color="#fafafa"/><stop offset=".3256" stop-color="#f8f8f8"/><stop offset=".3287" stop-color="#f4f4f4"/><stop offset=".3318" stop-color="#d9d9d9"/><stop offset=".3349" stop-color="#727272"/><stop offset=".3380" stop-color="#575757"/><stop offset=".3410" stop-color="#d5d5d5"/><stop offset=".3441" stop-color="#fcfcfc"/><stop offset=".3472" stop-color="#ffffff"/><stop offset=".4244" stop-color="#ffffff"/><stop offset=".4552" stop-color="#fefefe"/><stop offset=".4985" stop-color="#f9f9f9"/><stop offset=".5231" stop-color="#f3f3f3"/><stop offset=".5386" stop-color="#ececec"/><stop offset=".5540" stop-color="#e3e3e3"/><stop offset=".5694" stop-color="#d8d8d8"/><stop offset=".5849" stop-color="#cacaca"/><stop offset=".6065" stop-color="#b0b0b0"/><stop offset=".6343" stop-color="#898989"/><stop offset=".6620" stop-color="#666666"/><stop offset=".6929" stop-color="#3f3f3f"/><stop offset=".7083" stop-color="#2f2f2f"/><stop offset=".7238" stop-color="#202020"/><stop offset=".7454" stop-color="#0d0d0d"/><stop offset=".7608" stop-color="#010101"/><stop offset=".7639" stop-color="#020202"/><stop offset=".7917" stop-color="#141414"/><stop offset=".8164" stop-color="#222222"/><stop offset=".8410" stop-color="#2d2d2d"/><stop offset=".8657" stop-color="#373737"/><stop offset=".8966" stop-color="#414141"/><stop offset=".9275" stop-color="#494949"/><stop offset=".9985" stop-color="#585858"/></linearGradient>
<linearGradient id="h98" gradientUnits="userSpaceOnUse" x1="0" y1="4" x2="0" y2="328" gradientTransform="translate(259,0) skewY(-15.138) translate(-259,0)"><stop offset=".0015" stop-color="#ffffff"/><stop offset=".2762" stop-color="#fefefe"/><stop offset=".3102" stop-color="#fcfcfc"/><stop offset=".3164" stop-color="#fbfbfb"/><stop offset=".3225" stop-color="#f9f9f9"/><stop offset=".3256" stop-color="#f6f6f6"/><stop offset=".3287" stop-color="#e9e9e9"/><stop offset=".3318" stop-color="#a8a8a8"/><stop offset=".3349" stop-color="#3e3e3e"/><stop offset=".3380" stop-color="#9e9e9e"/><stop offset=".3410" stop-color="#f1f1f1"/><stop offset=".3441" stop-color="#fefefe"/><stop offset=".3472" stop-color="#ffffff"/><stop offset=".4336" stop-color="#ffffff"/><stop offset=".4923" stop-color="#fafafa"/><stop offset=".5077" stop-color="#f7f7f7"/><stop offset=".5231" stop-color="#f3f3f3"/><stop offset=".5478" stop-color="#e7e7e7"/><stop offset=".5694" stop-color="#d8d8d8"/><stop offset=".5818" stop-color="#cdcdcd"/><stop offset=".5910" stop-color="#c3c3c3"/><stop offset=".6096" stop-color="#acacac"/><stop offset=".6312" stop-color="#8d8d8d"/><stop offset=".6559" stop-color="#6d6d6d"/><stop offset=".6867" stop-color="#464646"/><stop offset=".6960" stop-color="#3b3b3b"/><stop offset=".7114" stop-color="#2b2b2b"/><stop offset=".7269" stop-color="#1d1d1d"/><stop offset=".7485" stop-color="#0a0a0a"/><stop offset=".7608" stop-color="#010101"/><stop offset=".7639" stop-color="#020202"/><stop offset=".7886" stop-color="#121212"/><stop offset=".8133" stop-color="#202020"/><stop offset=".8380" stop-color="#2c2c2c"/><stop offset=".8627" stop-color="#363636"/><stop offset=".8935" stop-color="#404040"/><stop offset=".9244" stop-color="#494949"/><stop offset=".9614" stop-color="#515151"/><stop offset=".9985" stop-color="#585858"/></linearGradient>
<linearGradient id="h99" gradientUnits="userSpaceOnUse" x1="0" y1="4" x2="0" y2="328" gradientTransform="translate(261,0) skewY(-15.138) translate(-261,0)"><stop offset=".0015" stop-color="#ffffff"/><stop offset=".2731" stop-color="#fefefe"/><stop offset=".3040" stop-color="#fdfdfd"/><stop offset=".3133" stop-color="#fbfbfb"/><stop offset=".3194" stop-color="#f9f9f9"/><stop offset=".3225" stop-color="#f6f6f6"/><stop offset=".3256" stop-color="#f0f0f0"/><stop offset=".3287" stop-color="#cecece"/><stop offset=".3318" stop-color="#5f5f5f"/><stop offset=".3349" stop-color="#5b5b5b"/><stop offset=".3380" stop-color="#d8d8d8"/><stop offset=".3410" stop-color="#fcfcfc"/><stop offset=".3441" stop-color="#ffffff"/><stop offset=".4275" stop-color="#ffffff"/><stop offset=".4552" stop-color="#fefefe"/><stop offset=".4985" stop-color="#f9f9f9"/><stop offset=".5231" stop-color="#f3f3f3"/><stop offset=".5386" stop-color="#ededed"/><stop offset=".5540" stop-color="#e4e4e4"/><stop offset=".5694" stop-color="#d8d8d8"/><stop offset=".5849" stop-color="#cacaca"/><stop offset=".6065" stop-color="#afafaf"/><stop offset=".6343" stop-color="#898989"/><stop offset=".6898" stop-color="#424242"/><stop offset=".7052" stop-color="#313131"/><stop offset=".7238" stop-color="#1f1f1f"/><stop offset=".7485" stop-color="#0a0a0a"/><stop offset=".7608" stop-color="#010101"/><stop offset=".7639" stop-color="#020202"/><stop offset=".7917" stop-color="#141414"/><stop offset=".8133" stop-color="#212121"/><stop offset=".8380" stop-color="#2c2c2c"/><stop offset=".8627" stop-color="#363636"/><stop offset=".8935" stop-color="#414141"/><stop offset=".9244" stop-color="#494949"/><stop offset=".9614" stop-color="#525252"/><stop offset=".9985" stop-color="#585858"/></linearGradient>
<linearGradient id="h100" gradientUnits="userSpaceOnUse" x1="0" y1="4" x2="0" y2="328" gradientTransform="translate(263,0) skewY(-15.138) translate(-263,0)"><stop offset=".0015" stop-color="#ffffff"/><stop offset=".2670" stop-color="#fefefe"/><stop offset=".3009" stop-color="#fcfcfc"/><stop offset=".3102" stop-color="#fbfbfb"/><stop offset=".3164" stop-color="#f9f9f9"/><stop offset=".3194" stop-color="#f7f7f7"/><stop offset=".3225" stop-color="#f3f3f3"/><stop offset=".3256" stop-color="#e2e2e2"/><stop offset=".3287" stop-color="#969696"/><stop offset=".3318" stop-color="#393939"/><stop offset=".3349" stop-color="#a5a5a5"/><stop offset=".3380" stop-color="#f3f3f3"/><stop offset=".3410" stop-color="#fefefe"/><stop offset=".3441" stop-color="#ffffff"/><stop offset=".4336" stop-color="#ffffff"/><stop offset=".4892" stop-color="#fafafa"/><stop offset=".5077" stop-color="#f7f7f7"/><stop offset=".5231" stop-color="#f3f3f3"/><stop offset=".5355" stop-color="#eeeeee"/><stop offset=".5478" stop-color="#e8e8e8"/><stop offset=".5694" stop-color="#d8d8d8"/><stop offset=".5818" stop-color="#cdcdcd"/><stop offset=".5910" stop-color="#c3c3c3"/><stop offset=".6096" stop-color="#ababab"/><stop offset=".6312" stop-color="#8d8d8d"/><stop offset=".6559" stop-color="#6d6d6d"/><stop offset=".6867" stop-color="#454545"/><stop offset=".6960" stop-color="#3b3b3b"/><stop offset=".7114" stop-color="#2b2b2b"/><stop offset=".7299" stop-color="#1a1a1a"/><stop offset=".7546" stop-color="#050505"/><stop offset=".7608" stop-color="#010101"/><stop offset=".7886" stop-color="#131313"/><stop offset=".8102" stop-color="#1f1f1f"/><stop offset=".8349" stop-color="#2b2b2b"/><stop offset=".8627" stop-color="#373737"/><stop offset=".8935" stop-color="#414141"/><stop offset=".9244" stop-color="#494949"/><stop offset=".9614" stop-color="#525252"/><stop offset=".9985" stop-color="#595959"/></linearGradient>
<linearGradient id="h101" gradientUnits="userSpaceOnUse" x1="0" y1="4" x2="0" y2="328" gradientTransform="translate(265,0) skewY(-15.138) translate(-265,0)"><stop offset=".0015" stop-color="#ffffff"/><stop offset=".2608" stop-color="#fefefe"/><stop offset=".2978" stop-color="#fcfcfc"/><stop offset=".3133" stop-color="#f9f9f9"/><stop offset=".3194" stop-color="#f4f4f4"/><stop offset=".3225" stop-color="#ebebeb"/><stop offset=".3256" stop-color="#c1c1c1"/><stop offset=".3287" stop-color="#505050"/><stop offset=".3318" stop-color="#626262"/><stop offset=".3349" stop-color="#dbdbdb"/><stop offset=".3380" stop-color="#fcfcfc"/><stop offset=".3410" stop-color="#ffffff"/><stop offset=".4275" stop-color="#ffffff"/><stop offset=".4552" stop-color="#fefefe"/><stop offset=".4985" stop-color="#f9f9f9"/><stop offset=".5231" stop-color="#f3f3f3"/><stop offset=".5386" stop-color="#ededed"/><stop offset=".5540" stop-color="#e4e4e4"/><stop offset=".5664" stop-color="#dadada"/><stop offset=".5818" stop-color="#cdcdcd"/><stop offset=".5910" stop-color="#c3c3c3"/><stop offset=".6065" stop-color="#afafaf"/><stop offset=".6343" stop-color="#898989"/><stop offset=".6898" stop-color="#414141"/><stop offset=".7083" stop-color="#2d2d2d"/><stop offset=".7269" stop-color="#1c1c1c"/><stop offset=".7546" stop-color="#040404"/><stop offset=".7608" stop-color="#010101"/><stop offset=".7886" stop-color="#131313"/><stop offset=".8102" stop-color="#202020"/><stop offset=".8349" stop-color="#2c2c2c"/><stop offset=".8627" stop-color="#373737"/><stop offset=".8935" stop-color="#414141"/><stop offset=".9244" stop-color="#4a4a4a"/><stop offset=".9614" stop-color="#525252"/><stop offset=".9985" stop-color="#595959"/></linearGradient>
<linearGradient id="h102" gradientUnits="userSpaceOnUse" x1="0" y1="4" x2="0" y2="328" gradientTransform="translate(267,0) skewY(-15.138) translate(-267,0)"><stop offset=".0015" stop-color="#ffffff"/><stop offset=".2639" stop-color="#fefefe"/><stop offset=".2978" stop-color="#fcfcfc"/><stop offset=".3071" stop-color="#fafafa"/><stop offset=".3133" stop-color="#f7f7f7"/><stop offset=".3164" stop-color="#f4f4f4"/><stop offset=".3194" stop-color="#efefef"/><stop offset=".3225" stop-color="#d9d9d9"/><stop offset=".3256" stop-color="#848484"/><stop offset=".3287" stop-color="#373737"/><stop offset=".3318" stop-color="#ababab"/><stop offset=".3349" stop-color="#f4f4f4"/><stop offset=".3380" stop-color="#fefefe"/><stop offset=".3410" stop-color="#ffffff"/><stop offset=".4336" stop-color="#ffffff"/><stop offset=".4892" stop-color="#fafafa"/><stop offset=".5077" stop-color="#f8f8f8"/><stop offset=".5231" stop-color="#f3f3f3"/><stop offset=".5355" stop-color="#eeeeee"/><stop offset=".5478" stop-color="#e8e8e8"/><stop offset=".5694" stop-color="#d8d8d8"/><stop offset=".5818" stop-color="#cdcdcd"/><stop offset=".5910" stop-color="#c3c3c3"/><stop offset=".6065" stop-color="#afafaf"/><stop offset=".6312" stop-color="#8d8d8d"/><stop offset=".6559" stop-color="#6c6c6c"/><stop offset=".6836" stop-color="#484848"/><stop offset=".6960" stop-color="#3a3a3a"/><stop offset=".7238" stop-color="#1e1e1e"/><stop offset=".7577" stop-color="#020202"/><stop offset=".7608" stop-color="#010101"/><stop offset=".7917" stop-color="#161616"/><stop offset=".8164" stop-color="#232323"/><stop offset=".8380" stop-color="#2e2e2e"/><stop offset=".8627" stop-color="#373737"/><stop offset=".8935" stop-color="#424242"/><stop offset=".9244" stop-color="#4a4a4a"/><stop offset=".9614" stop-color="#525252"/><stop offset=".9985" stop-color="#595959"/></linearGradient>
<linearGradient id="h103" gradientUnits="userSpaceOnUse" x1="0" y1="4" x2="0" y2="328" gradientTransform="translate(269,0) skewY(-15.138) translate(-269,0)"><stop offset=".0015" stop-color="#ffffff"/><stop offset=".2608" stop-color="#fefefe"/><stop offset=".2948" stop-color="#fcfcfc"/><stop offset=".3040" stop-color="#fafafa"/><stop offset=".3102" stop-color="#f7f7f7"/><stop offset=".3133" stop-color="#f5f5f5"/><stop offset=".3164" stop-color="#f1f1f1"/><stop offset=".3194" stop-color="#e5e5e5"/><stop offset=".3225" stop-color="#b2b2b2"/><stop offset=".3256" stop-color="#424242"/><stop offset=".3287" stop-color="#686868"/><stop offset=".3318" stop-color="#dedede"/><stop offset=".3349" stop-color="#fcfcfc"/><stop offset=".3380" stop-color="#ffffff"/><stop offset=".3410" stop-color="#ffffff"/><stop offset=".4336" stop-color="#ffffff"/><stop offset=".4892" stop-color="#fafafa"/><stop offset=".5077" stop-color="#f8f8f8"/><stop offset=".5231" stop-color="#f3f3f3"/><stop offset=".5355" stop-color="#eeeeee"/><stop offset=".5478" stop-color="#e8e8e8"/><stop offset=".5694" stop-color="#d8d8d8"/><stop offset=".5818" stop-color="#cdcdcd"/><stop offset=".5910" stop-color="#c2c2c2"/><stop offset=".6065" stop-color="#afafaf"/><stop offset=".6312" stop-color="#8c8c8c"/><stop offset=".6559" stop-color="#6c6c6c"/><stop offset=".6836" stop-color="#484848"/><stop offset=".6960" stop-color="#3a3a3a"/><stop offset=".7238" stop-color="#1e1e1e"/><stop offset=".7454" stop-color="#0b0b0b"/><stop offset=".7577" stop-color="#010101"/><stop offset=".7608" stop-color="#020202"/><stop offset=".7886" stop-color="#141414"/><stop offset=".8133" stop-color="#222222"/><stop offset=".8380" stop-color="#2e2e2e"/><stop offset=".8627" stop-color="#383838"/><stop offset=".8935" stop-color="#424242"/><stop offset=".9244" stop-color="#4a4a4a"/><stop offset=".9614" stop-color="#535353"/><stop offset=".9985" stop-color="#595959"/></linearGradient>
<linearGradient id="h104" gradientUnits="userSpaceOnUse" x1="0" y1="4" x2="0" y2="328" gradientTransform="translate(271,0) skewY(-15.138) translate(-271,0)"><stop offset=".0015" stop-color="#ffffff"/><stop offset=".2546" stop-color="#fefefe"/><stop offset=".2917" stop-color="#fbfbfb"/><stop offset=".3009" stop-color="#fafafa"/><stop offset=".3071" stop-color="#f7f7f7"/><stop offset=".3133" stop-color="#f2f2f2"/><stop offset=".3164" stop-color="#eaeaea"/><stop offset=".3194" stop-color="#cfcfcf"/><stop offset=".3225" stop-color="#717171"/><stop offset=".3256" stop-color="#373737"/><stop offset=".3287" stop-color="#b1b1b1"/><stop offset=".3318" stop-color="#f5f5f5"/><stop offset=".3349" stop-color="#fefefe"/><stop offset=".3380" stop-color="#ffffff"/><stop offset=".4336" stop-color="#ffffff"/><stop offset=".4892" stop-color="#fafafa"/><stop offset=".5077" stop-color="#f8f8f8"/><stop offset=".5231" stop-color="#f4f4f4"/><stop offset=".5355" stop-color="#eeeeee"/><stop offset=".5478" stop-color="#e8e8e8"/><stop offset=".5694" stop-color="#d8d8d8"/><stop offset=".5818" stop-color="#cdcdcd"/><stop offset=".5910" stop-color="#c2c2c2"/><stop offset=".6065" stop-color="#afafaf"/><stop offset=".6312" stop-color="#8c8c8c"/><stop offset=".6559" stop-color="#6b6b6b"/><stop offset=".6836" stop-color="#474747"/><stop offset=".6929" stop-color="#3d3d3d"/><stop offset=".7083" stop-color="#2c2c2c"/><stop offset=".7238" stop-color="#1e1e1e"/><stop offset=".7454" stop-color="#0b0b0b"/><stop offset=".7577" stop-color="#010101"/><stop offset=".7608" stop-color="#020202"/><stop offset=".7855" stop-color="#131313"/><stop offset=".8102" stop-color="#212121"/><stop offset=".8349" stop-color="#2d2d2d"/><stop offset=".8596" stop-color="#373737"/><stop offset=".8904" stop-color="#414141"/><stop offset=".9213" stop-color="#4a4a4a"/><stop offset=".9583" stop-color="#525252"/><stop offset=".9985" stop-color="#5a5a5a"/></linearGradient>
<linearGradient id="h105" gradientUnits="userSpaceOnUse" x1="0" y1="4" x2="0" y2="328" gradientTransform="translate(273,0) skewY(-15.138) translate(-273,0)"><stop offset=".0015" stop-color="#ffffff"/><stop offset=".2515" stop-color="#fefefe"/><stop offset=".2855" stop-color="#fcfcfc"/><stop offset=".2978" stop-color="#f9f9f9"/><stop offset=".3040" stop-color="#f7f7f7"/><stop offset=".3102" stop-color="#f2f2f2"/><stop offset=".3133" stop-color="#ededed"/><stop offset=".3164" stop-color="#dedede"/><stop offset=".3194" stop-color="#a2a2a2"/><stop offset=".3225" stop-color="#373737"/><stop offset=".3256" stop-color="#707070"/><stop offset=".3287" stop-color="#e1e1e1"/><stop offset=".3318" stop-color="#fcfcfc"/><stop offset=".3349" stop-color="#ffffff"/><stop offset=".3380" stop-color="#ffffff"/><stop offset=".4336" stop-color="#ffffff"/><stop offset=".4892" stop-color="#fafafa"/><stop offset=".5077" stop-color="#f8f8f8"/><stop offset=".5231" stop-color="#f4f4f4"/><stop offset=".5355" stop-color="#eeeeee"/><stop offset=".5478" stop-color="#e8e8e8"/><stop offset=".5694" stop-color="#d8d8d8"/><stop offset=".5818" stop-color="#cdcdcd"/><stop offset=".5910" stop-color="#c2c2c2"/><stop offset=".6065" stop-color="#afafaf"/><stop offset=".6312" stop-color="#8c8c8c"/><stop offset=".6559" stop-color="#6b6b6b"/><stop offset=".6836" stop-color="#474747"/><stop offset=".6929" stop-color="#3c3c3c"/><stop offset=".7083" stop-color="#2c2c2c"/><stop offset=".7238" stop-color="#1d1d1d"/><stop offset=".7485" stop-color="#080808"/><stop offset=".7577" stop-color="#010101"/><stop offset=".7608" stop-color="#020202"/><stop offset=".7886" stop-color="#151515"/><stop offset=".8102" stop-color="#212121"/><stop offset=".8349" stop-color="#2d2d2d"/><stop offset=".8596" stop-color="#373737"/><stop offset=".8904" stop-color="#424242"/><stop offset=".9213" stop-color="#4a4a4a"/><stop offset=".9583" stop-color="#525252"/><stop offset=".9985" stop-color="#5a5a5a"/></linearGradient>
<linearGradient id="h106" gradientUnits="userSpaceOnUse" x1="0" y1="4" x2="0" y2="328" gradientTransform="translate(275,0) skewY(-15.138) translate(-275,0)"><stop offset=".0015" stop-color="#ffffff"/><stop offset=".2515" stop-color="#fdfdfd"/><stop offset=".2886" stop-color="#fbfbfb"/><stop offset=".2978" stop-color="#f8f8f8"/><stop offset=".3040" stop-color="#f5f5f5"/><stop offset=".3071" stop-color="#f3f3f3"/><stop offset=".3102" stop-color="#eeeeee"/><stop offset=".3133" stop-color="#e5e5e5"/><stop offset=".3164" stop-color="#c3c3c3"/><stop offset=".3194" stop-color="#606060"/><stop offset=".3225" stop-color="#393939"/><stop offset=".3256" stop-color="#b7b7b7"/><stop offset=".3287" stop-color="#f5f5f5"/><stop offset=".3318" stop-color="#fefefe"/><stop offset=".3349" stop-color="#ffffff"/><stop offset=".4336" stop-color="#ffffff"/><stop offset=".4892" stop-color="#fbfbfb"/><stop offset=".5077" stop-color="#f8f8f8"/><stop offset=".5231" stop-color="#f4f4f4"/><stop offset=".5355" stop-color="#eeeeee"/><stop offset=".5478" stop-color="#e8e8e8"/><stop offset=".5694" stop-color="#d8d8d8"/><stop offset=".5818" stop-color="#cccccc"/><stop offset=".5910" stop-color="#c2c2c2"/><stop offset=".6065" stop-color="#afafaf"/><stop offset=".6312" stop-color="#8c8c8c"/><stop offset=".6559" stop-color="#6b6b6b"/><stop offset=".6836" stop-color="#474747"/><stop offset=".6929" stop-color="#3c3c3c"/><stop offset=".7083" stop-color="#2b2b2b"/><stop offset=".7269" stop-color="#1a1a1a"/><stop offset=".7515" stop-color="#050505"/><stop offset=".7577" stop-color="#010101"/><stop offset=".7855" stop-color="#131313"/><stop offset=".8071" stop-color="#202020"/><stop offset=".8318" stop-color="#2c2c2c"/><stop offset=".8596" stop-color="#383838"/><stop offset=".8904" stop-color="#424242"/><stop offset=".9213" stop-color="#4a4a4a"/><stop offset=".9583" stop-color="#535353"/><stop offset=".9985" stop-color="#5a5a5a"/></linearGradient>
<linearGradient id="h107" gradientUnits="userSpaceOnUse" x1="0" y1="4" x2="0" y2="328" gradientTransform="translate(277,0) skewY(-15.138) translate(-277,0)"><stop offset=".0015" stop-color="#ffffff"/><stop offset=".2485" stop-color="#fdfdfd"/><stop offset=".2824" stop-color="#fbfbfb"/><stop offset=".2948" stop-color="#f8f8f8"/><stop offset=".3009" stop-color="#f5f5f5"/><stop offset=".3071" stop-color="#efefef"/><stop offset=".3102" stop-color="#e9e9e9"/><stop offset=".3133" stop-color="#d6d6d6"/><stop offset=".3164" stop-color="#929292"/><stop offset=".3194" stop-color="#2f2f2f"/><stop offset=".3225" stop-color="#777777"/><stop offset=".3256" stop-color="#e3e3e3"/><stop offset=".3287" stop-color="#fcfcfc"/><stop offset=".3318" stop-color="#ffffff"/><stop offset=".3349" stop-color="#ffffff"/><stop offset=".4336" stop-color="#ffffff"/><stop offset=".4892" stop-color="#fbfbfb"/><stop offset=".5077" stop-color="#f8f8f8"/><stop offset=".5231" stop-color="#f4f4f4"/><stop offset=".5355" stop-color="#eeeeee"/><stop offset=".5478" stop-color="#e8e8e8"/><stop offset=".5694" stop-color="#d8d8d8"/><stop offset=".5818" stop-color="#cccccc"/><stop offset=".5910" stop-color="#c2c2c2"/><stop offset=".6065" stop-color="#aeaeae"/><stop offset=".6312" stop-color="#8b8b8b"/><stop offset=".6559" stop-color="#6a6a6a"/><stop offset=".6836" stop-color="#464646"/><stop offset=".6929" stop-color="#3b3b3b"/><stop offset=".7114" stop-color="#282828"/><stop offset=".7299" stop-color="#171717"/><stop offset=".7515" stop-color="#040404"/><stop offset=".7546" stop-color="#020202"/><stop offset=".7577" stop-color="#010101"/><stop offset=".7855" stop-color="#141414"/><stop offset=".8071" stop-color="#202020"/><stop offset=".8318" stop-color="#2d2d2d"/><stop offset=".8596" stop-color="#383838"/><stop offset=".8904" stop-color="#424242"/><stop offset=".9213" stop-color="#4b4b4b"/><stop offset=".9583" stop-color="#535353"/><stop offset=".9985" stop-color="#5a5a5a"/></linearGradient>
<linearGradient id="h108" gradientUnits="userSpaceOnUse" x1="0" y1="4" x2="0" y2="328" gradientTransform="translate(279,0) skewY(-15.138) translate(-279,0)"><stop offset=".0015" stop-color="#ffffff"/><stop offset=".2423" stop-color="#fdfdfd"/><stop offset=".2793" stop-color="#fbfbfb"/><stop offset=".2886" stop-color="#f9f9f9"/><stop offset=".2978" stop-color="#f5f5f5"/><stop offset=".3040" stop-color="#f0f0f0"/><stop offset=".3071" stop-color="#ebebeb"/><stop offset=".3102" stop-color="#dfdfdf"/><stop offset=".3133" stop-color="#b7b7b7"/><stop offset=".3164" stop-color="#505050"/><stop offset=".3194" stop-color="#3d3d3d"/><stop offset=".3225" stop-color="#bcbcbc"/><stop offset=".3256" stop-color="#f6f6f6"/><stop offset=".3287" stop-color="#fefefe"/><stop offset=".3349" stop-color="#ffffff"/><stop offset=".4336" stop-color="#ffffff"/><stop offset=".4892" stop-color="#fbfbfb"/><stop offset=".5077" stop-color="#f8f8f8"/><stop offset=".5231" stop-color="#f4f4f4"/><stop offset=".5355" stop-color="#efefef"/><stop offset=".5478" stop-color="#e8e8e8"/><stop offset=".5694" stop-color="#d8d8d8"/><stop offset=".5818" stop-color="#cccccc"/><stop offset=".5910" stop-color="#c2c2c2"/><stop offset=".6065" stop-color="#aeaeae"/><stop offset=".6312" stop-color="#8b8b8b"/><stop offset=".6559" stop-color="#6a6a6a"/><stop offset=".6836" stop-color="#464646"/><stop offset=".6929" stop-color="#3b3b3b"/><stop offset=".7207" stop-color="#1f1f1f"/><stop offset=".7546" stop-color="#020202"/><stop offset=".7577" stop-color="#010101"/><stop offset=".7855" stop-color="#141414"/><stop offset=".8133" stop-color="#242424"/><stop offset=".8349" stop-color="#2e2e2e"/><stop offset=".8596" stop-color="#383838"/><stop offset=".8904" stop-color="#434343"/><stop offset=".9213" stop-color="#4b4b4b"/><stop offset=".9583" stop-color="#535353"/><stop offset=".9985" stop-color="#5b5b5b"/></linearGradient>
<linearGradient id="h109" gradientUnits="userSpaceOnUse" x1="0" y1="4" x2="0" y2="328" gradientTransform="translate(281,0) skewY(-15.138) translate(-281,0)"><stop offset=".0015" stop-color="#ffffff"/><stop offset=".1713" stop-color="#fefefe"/><stop offset=".2454" stop-color="#fdfdfd"/><stop offset=".2793" stop-color="#fafafa"/><stop offset=".2917" stop-color="#f7f7f7"/><stop offset=".2978" stop-color="#f3f3f3"/><stop offset=".3009" stop-color="#f1f1f1"/><stop offset=".3040" stop-color="#ececec"/><stop offset=".3071" stop-color="#e4e4e4"/><stop offset=".3102" stop-color="#cdcdcd"/><stop offset=".3133" stop-color="#808080"/><stop offset=".3164" stop-color="#2a2a2a"/><stop offset=".3194" stop-color="#7e7e7e"/><stop offset=".3225" stop-color="#e5e5e5"/><stop offset=".3256" stop-color="#fcfcfc"/><stop offset=".3287" stop-color="#fefefe"/><stop offset=".3318" stop-color="#ffffff"/><stop offset=".4336" stop-color="#ffffff"/><stop offset=".4892" stop-color="#fbfbfb"/><stop offset=".5077" stop-color="#f8f8f8"/><stop offset=".5231" stop-color="#f4f4f4"/><stop offset=".5355" stop-color="#efefef"/><stop offset=".5478" stop-color="#e8e8e8"/><stop offset=".5694" stop-color="#d8d8d8"/><stop offset=".5818" stop-color="#cccccc"/><stop offset=".5910" stop-color="#c2c2c2"/><stop offset=".6065" stop-color="#aeaeae"/><stop offset=".6281" stop-color="#8f8f8f"/><stop offset=".6559" stop-color="#6a6a6a"/><stop offset=".6836" stop-color="#454545"/><stop offset=".6929" stop-color="#3a3a3a"/><stop offset=".7207" stop-color="#1e1e1e"/><stop offset=".7423" stop-color="#0b0b0b"/><stop offset=".7546" stop-color="#010101"/><stop offset=".7577" stop-color="#020202"/><stop offset=".7855" stop-color="#151515"/><stop offset=".8102" stop-color="#232323"/><stop offset=".8349" stop-color="#2f2f2f"/><stop offset=".8596" stop-color="#393939"/><stop offset=".8904" stop-color="#434343"/><stop offset=".9213" stop-color="#4b4b4b"/><stop offset=".9583" stop-color="#545454"/><stop offset=".9985" stop-color="#5b5b5b"/></linearGradient>
<linearGradient id="h110" gradientUnits="userSpaceOnUse" x1="0" y1="4" x2="0" y2="328" gradientTransform="translate(283,0) skewY(-15.138) translate(-283,0)"><stop offset=".0015" stop-color="#ffffff"/><stop offset=".2361" stop-color="#fdfdfd"/><stop offset=".2731" stop-color="#fafafa"/><stop offset=".2824" stop-color="#f9f9f9"/><stop offset=".2917" stop-color="#f5f5f5"/><stop offset=".2978" stop-color="#f1f1f1"/><stop offset=".3009" stop-color="#ededed"/><stop offset=".3040" stop-color="#e7e7e7"/><stop offset=".3071" stop-color="#d8d8d8"/><stop offset=".3102" stop-color="#a9a9a9"/><stop offset=".3133" stop-color="#424242"/><stop offset=".3164" stop-color="#414141"/><stop offset=".3194" stop-color="#c0c0c0"/><stop offset=".3225" stop-color="#f7f7f7"/><stop offset=".3256" stop-color="#fefefe"/><stop offset=".3318" stop-color="#ffffff"/><stop offset=".4367" stop-color="#ffffff"/><stop offset=".4892" stop-color="#fbfbfb"/><stop offset=".5077" stop-color="#f8f8f8"/><stop offset=".5231" stop-color="#f4f4f4"/><stop offset=".5355" stop-color="#efefef"/><stop offset=".5478" stop-color="#e8e8e8"/><stop offset=".5694" stop-color="#d8d8d8"/><stop offset=".5818" stop-color="#cccccc"/><stop offset=".5910" stop-color="#c2c2c2"/><stop offset=".6065" stop-color="#aeaeae"/><stop offset=".6281" stop-color="#8f8f8f"/><stop offset=".6528" stop-color="#6d6d6d"/><stop offset=".6836" stop-color="#454545"/><stop offset=".6929" stop-color="#3a3a3a"/><stop offset=".7083" stop-color="#2a2a2a"/><stop offset=".7238" stop-color="#1b1b1b"/><stop offset=".7454" stop-color="#080808"/><stop offset=".7546" stop-color="#010101"/><stop offset=".7577" stop-color="#020202"/><stop offset=".7824" stop-color="#131313"/><stop offset=".8071" stop-color="#222222"/><stop offset=".8318" stop-color="#2e2e2e"/><stop offset=".8565" stop-color="#383838"/><stop offset=".8873" stop-color="#424242"/><stop offset=".9213" stop-color="#4c4c4c"/><stop offset=".9583" stop-color="#545454"/><stop offset=".9985" stop-color="#5b5b5b"/></linearGradient>
<linearGradient id="h111" gradientUnits="userSpaceOnUse" x1="0" y1="4" x2="0" y2="328" gradientTransform="translate(285,0) skewY(-15.138) translate(-285,0)"><stop offset=".0015" stop-color="#ffffff"/><stop offset=".1620" stop-color="#fefefe"/><stop offset=".2361" stop-color="#fdfdfd"/><stop offset=".2731" stop-color="#fafafa"/><stop offset=".2824" stop-color="#f8f8f8"/><stop offset=".2917" stop-color="#f4f4f4"/><stop offset=".2978" stop-color="#eeeeee"/><stop offset=".3009" stop-color="#e8e8e8"/><stop offset=".3040" stop-color="#dfdfdf"/><stop offset=".3071" stop-color="#c2c2c2"/><stop offset=".3102" stop-color="#6f6f6f"/><stop offset=".3133" stop-color="#262626"/><stop offset=".3164" stop-color="#858585"/><stop offset=".3194" stop-color="#e7e7e7"/><stop offset=".3225" stop-color="#fcfcfc"/><stop offset=".3256" stop-color="#fefefe"/><stop offset=".3287" stop-color="#ffffff"/><stop offset=".4306" stop-color="#ffffff"/><stop offset=".4645" stop-color="#fdfdfd"/><stop offset=".4954" stop-color="#fafafa"/><stop offset=".5139" stop-color="#f6f6f6"/><stop offset=".5293" stop-color="#f1f1f1"/><stop offset=".5448" stop-color="#eaeaea"/><stop offset=".5664" stop-color="#dadada"/><stop offset=".5787" stop-color="#cfcfcf"/><stop offset=".5880" stop-color="#c5c5c5"/><stop offset=".6065" stop-color="#aeaeae"/><stop offset=".6281" stop-color="#8f8f8f"/><stop offset=".6559" stop-color="#696969"/><stop offset=".6836" stop-color="#444444"/><stop offset=".6929" stop-color="#3a3a3a"/><stop offset=".7083" stop-color="#292929"/><stop offset=".7238" stop-color="#1b1b1b"/><stop offset=".7485" stop-color="#050505"/><stop offset=".7546" stop-color="#010101"/><stop offset=".7855" stop-color="#151515"/><stop offset=".8040" stop-color="#202020"/><stop offset=".8287" stop-color="#2d2d2d"/><stop offset=".8565" stop-color="#383838"/><stop offset=".8873" stop-color="#434343"/><stop offset=".9213" stop-color="#4c4c4c"/><stop offset=".9583" stop-color="#545454"/><stop offset=".9985" stop-color="#5b5b5b"/></linearGradient>
<linearGradient id="h112" gradientUnits="userSpaceOnUse" x1="0" y1="4" x2="0" y2="328" gradientTransform="translate(287,0) skewY(-15.138) translate(-287,0)"><stop offset=".0015" stop-color="#ffffff"/><stop offset=".1590" stop-color="#fefefe"/><stop offset=".2330" stop-color="#fdfdfd"/><stop offset=".2701" stop-color="#fafafa"/><stop offset=".2793" stop-color="#f8f8f8"/><stop offset=".2886" stop-color="#f4f4f4"/><stop offset=".2948" stop-color="#eeeeee"/><stop offset=".2978" stop-color="#eaeaea"/><stop offset=".3009" stop-color="#e2e2e2"/><stop offset=".3040" stop-color="#d1d1d1"/><stop offset=".3071" stop-color="#9a9a9a"/><stop offset=".3102" stop-color="#363636"/><stop offset=".3133" stop-color="#464646"/><stop offset=".3164" stop-color="#c4c4c4"/><stop offset=".3194" stop-color="#f7f7f7"/><stop offset=".3225" stop-color="#fefefe"/><stop offset=".3287" stop-color="#ffffff"/><stop offset=".4306" stop-color="#ffffff"/><stop offset=".4645" stop-color="#fdfdfd"/><stop offset=".4985" stop-color="#f9f9f9"/><stop offset=".5139" stop-color="#f6f6f6"/><stop offset=".5293" stop-color="#f1f1f1"/><stop offset=".5448" stop-color="#eaeaea"/><stop offset=".5664" stop-color="#dadada"/><stop offset=".5787" stop-color="#cfcfcf"/><stop offset=".5880" stop-color="#c5c5c5"/><stop offset=".6065" stop-color="#adadad"/><stop offset=".6281" stop-color="#8e8e8e"/><stop offset=".6559" stop-color="#696969"/><stop offset=".6806" stop-color="#484848"/><stop offset=".6929" stop-color="#393939"/><stop offset=".7083" stop-color="#292929"/><stop offset=".7269" stop-color="#171717"/><stop offset=".7485" stop-color="#050505"/><stop offset=".7546" stop-color="#010101"/><stop offset=".7824" stop-color="#141414"/><stop offset=".8040" stop-color="#212121"/><stop offset=".8287" stop-color="#2d2d2d"/><stop offset=".8565" stop-color="#393939"/><stop offset=".8873" stop-color="#434343"/><stop offset=".9213" stop-color="#4c4c4c"/><stop offset=".9583" stop-color="#545454"/><stop offset=".9985" stop-color="#5c5c5c"/></linearGradient>
<linearGradient id="h113" gradientUnits="userSpaceOnUse" x1="0" y1="4" x2="0" y2="328" gradientTransform="translate(289,0) skewY(-15.138) translate(-289,0)"><stop offset=".0015" stop-color="#ffffff"/><stop offset=".1590" stop-color="#fefefe"/><stop offset=".2330" stop-color="#fcfcfc"/><stop offset=".2701" stop-color="#f9f9f9"/><stop offset=".2793" stop-color="#f6f6f6"/><stop offset=".2886" stop-color="#f2f2f2"/><stop offset=".2948" stop-color="#ebebeb"/><stop offset=".2978" stop-color="#e4e4e4"/><stop offset=".3009" stop-color="#d9d9d9"/><stop offset=".3040" stop-color="#b7b7b7"/><stop offset=".3071" stop-color="#5f5f5f"/><stop offset=".3102" stop-color="#252525"/><stop offset=".3133" stop-color="#8c8c8c"/><stop offset=".3164" stop-color="#e8e8e8"/><stop offset=".3194" stop-color="#fcfcfc"/><stop offset=".3225" stop-color="#fefefe"/><stop offset=".3256" stop-color="#fefefe"/><stop offset=".4306" stop-color="#ffffff"/><stop offset=".4645" stop-color="#fdfdfd"/><stop offset=".4985" stop-color="#fafafa"/><stop offset=".5139" stop-color="#f6f6f6"/><stop offset=".5293" stop-color="#f2f2f2"/><stop offset=".5448" stop-color="#eaeaea"/><stop offset=".5664" stop-color="#dadada"/><stop offset=".5849" stop-color="#c9c9c9"/><stop offset=".6034" stop-color="#b1b1b1"/><stop offset=".6312" stop-color="#8a8a8a"/><stop offset=".6867" stop-color="#404040"/><stop offset=".7145" stop-color="#222222"/><stop offset=".7361" stop-color="#0f0f0f"/><stop offset=".7515" stop-color="#020202"/><stop offset=".7546" stop-color="#010101"/><stop offset=".7855" stop-color="#161616"/><stop offset=".8102" stop-color="#252525"/><stop offset=".8349" stop-color="#303030"/><stop offset=".8596" stop-color="#3a3a3a"/><stop offset=".8904" stop-color="#444444"/><stop offset=".9213" stop-color="#4d4d4d"/><stop offset=".9583" stop-color="#555555"/><stop offset=".9985" stop-color="#5c5c5c"/></linearGradient>
<linearGradient id="h114" gradientUnits="userSpaceOnUse" x1="0" y1="4" x2="0" y2="328" gradientTransform="translate(291,0) skewY(-15.138) translate(-291,0)"><stop offset=".0015" stop-color="#ffffff"/><stop offset=".1559" stop-color="#fefefe"/><stop offset=".2299" stop-color="#fcfcfc"/><stop offset=".2670" stop-color="#f9f9f9"/><stop offset=".2762" stop-color="#f6f6f6"/><stop offset=".2855" stop-color="#f2f2f2"/><stop offset=".2917" stop-color="#ececec"/><stop offset=".2948" stop-color="#e6e6e6"/><stop offset=".2978" stop-color="#dddddd"/><stop offset=".3009" stop-color="#c8c8c8"/><stop offset=".3040" stop-color="#8b8b8b"/><stop offset=".3071" stop-color="#2d2d2d"/><stop offset=".3102" stop-color="#4c4c4c"/><stop offset=".3133" stop-color="#c8c8c8"/><stop offset=".3164" stop-color="#f7f7f7"/><stop offset=".3194" stop-color="#fefefe"/><stop offset=".3256" stop-color="#ffffff"/><stop offset=".4306" stop-color="#ffffff"/><stop offset=".4645" stop-color="#fdfdfd"/><stop offset=".4985" stop-color="#fafafa"/><stop offset=".5139" stop-color="#f7f7f7"/><stop offset=".5293" stop-color="#f2f2f2"/><stop offset=".5448" stop-color="#eaeaea"/><stop offset=".5664" stop-color="#dadada"/><stop offset=".5849" stop-color="#c9c9c9"/><stop offset=".6034" stop-color="#b1b1b1"/><stop offset=".6312" stop-color="#898989"/><stop offset=".6867" stop-color="#3f3f3f"/><stop offset=".7145" stop-color="#222222"/><stop offset=".7361" stop-color="#0e0e0e"/><stop offset=".7515" stop-color="#010101"/><stop offset=".7546" stop-color="#020202"/><stop offset=".7824" stop-color="#151515"/><stop offset=".8071" stop-color="#232323"/><stop offset=".8318" stop-color="#2f2f2f"/><stop offset=".8565" stop-color="#393939"/><stop offset=".8873" stop-color="#444444"/><stop offset=".9213" stop-color="#4d4d4d"/><stop offset=".9583" stop-color="#555555"/><stop offset=".9985" stop-color="#5c5c5c"/></linearGradient>
<linearGradient id="h115" gradientUnits="userSpaceOnUse" x1="0" y1="4" x2="0" y2="328" gradientTransform="translate(293,0) skewY(-15.138) translate(-293,0)"><stop offset=".0015" stop-color="#fefefe"/><stop offset=".1528" stop-color="#fefefe"/><stop offset=".2269" stop-color="#fcfcfc"/><stop offset=".2639" stop-color="#f9f9f9"/><stop offset=".2731" stop-color="#f6f6f6"/><stop offset=".2824" stop-color="#f2f2f2"/><stop offset=".2886" stop-color="#ececec"/><stop offset=".2917" stop-color="#e7e7e7"/><stop offset=".2948" stop-color="#e0e0e0"/><stop offset=".2978" stop-color="#d2d2d2"/><stop offset=".3009" stop-color="#ababab"/><stop offset=".3040" stop-color="#505050"/><stop offset=".3071" stop-color="#252525"/><stop offset=".3102" stop-color="#929292"/><stop offset=".3133" stop-color="#e9e9e9"/><stop offset=".3164" stop-color="#fcfcfc"/><stop offset=".3194" stop-color="#fefefe"/><stop offset=".3225" stop-color="#fefefe"/><stop offset=".4306" stop-color="#ffffff"/><stop offset=".4645" stop-color="#fdfdfd"/><stop offset=".4985" stop-color="#fafafa"/><stop offset=".5139" stop-color="#f7f7f7"/><stop offset=".5293" stop-color="#f2f2f2"/><stop offset=".5448" stop-color="#eaeaea"/><stop offset=".5664" stop-color="#dadada"/><stop offset=".5849" stop-color="#c8c8c8"/><stop offset=".6034" stop-color="#b1b1b1"/><stop offset=".6312" stop-color="#898989"/><stop offset=".6559" stop-color="#676767"/><stop offset=".6867" stop-color="#3f3f3f"/><stop offset=".7022" stop-color="#2e2e2e"/><stop offset=".7176" stop-color="#1f1f1f"/><stop offset=".7392" stop-color="#0b0b0b"/><stop offset=".7515" stop-color="#010101"/><stop offset=".7546" stop-color="#020202"/><stop offset=".7793" stop-color="#131313"/><stop offset=".8040" stop-color="#222222"/><stop offset=".8287" stop-color="#2e2e2e"/><stop offset=".8565" stop-color="#3a3a3a"/><stop offset=".8873" stop-color="#444444"/><stop offset=".9213" stop-color="#4d4d4d"/><stop offset=".9583" stop-color="#555555"/><stop offset=".9985" stop-color="#5c5c5c"/></linearGradient>
<linearGradient id="h116" gradientUnits="userSpaceOnUse" x1="0" y1="4" x2="0" y2="328" gradientTransform="translate(295,0) skewY(-15.138) translate(-295,0)"><stop offset=".0015" stop-color="#fefefe"/><stop offset=".1466" stop-color="#fefefe"/><stop offset=".2207" stop-color="#fcfcfc"/><stop offset=".2577" stop-color="#f9f9f9"/><stop offset=".2701" stop-color="#f6f6f6"/><stop offset=".2793" stop-color="#f2f2f2"/><stop offset=".2855" stop-color="#ededed"/><stop offset=".2886" stop-color="#e8e8e8"/><stop offset=".2917" stop-color="#e2e2e2"/><stop offset=".2948" stop-color="#d7d7d7"/><stop offset=".2978" stop-color="#bfbfbf"/><stop offset=".3009" stop-color="#7b7b7b"/><stop offset=".3040" stop-color="#252525"/><stop offset=".3071" stop-color="#525252"/><stop offset=".3102" stop-color="#cbcbcb"/><stop offset=".3133" stop-color="#f7f7f7"/><stop offset=".3164" stop-color="#fdfdfd"/><stop offset=".3225" stop-color="#fefefe"/><stop offset=".4306" stop-color="#ffffff"/><stop offset=".4645" stop-color="#fdfdfd"/><stop offset=".4985" stop-color="#fafafa"/><stop offset=".5139" stop-color="#f7f7f7"/><stop offset=".5293" stop-color="#f2f2f2"/><stop offset=".5448" stop-color="#eaeaea"/><stop offset=".5664" stop-color="#dadada"/><stop offset=".5849" stop-color="#c8c8c8"/><stop offset=".6034" stop-color="#b1b1b1"/><stop offset=".6312" stop-color="#898989"/><stop offset=".6836" stop-color="#424242"/><stop offset=".6991" stop-color="#313131"/><stop offset=".7145" stop-color="#212121"/><stop offset=".7392" stop-color="#0a0a0a"/><stop offset=".7485" stop-color="#030303"/><stop offset=".7515" stop-color="#010101"/><stop offset=".7546" stop-color="#020202"/><stop offset=".7824" stop-color="#161616"/><stop offset=".8040" stop-color="#232323"/><stop offset=".8287" stop-color="#2f2f2f"/><stop offset=".8534" stop-color="#393939"/><stop offset=".8843" stop-color="#434343"/><stop offset=".9182" stop-color="#4d4d4d"/><stop offset=".9583" stop-color="#565656"/><stop offset=".9985" stop-color="#5d5d5d"/></linearGradient>
<linearGradient id="h117" gradientUnits="userSpaceOnUse" x1="0" y1="4" x2="0" y2="328" gradientTransform="translate(297,0) skewY(-15.138) translate(-297,0)"><stop offset=".0015" stop-color="#fefefe"/><stop offset=".1528" stop-color="#fefefe"/><stop offset=".2238" stop-color="#fcfcfc"/><stop offset=".2454" stop-color="#fafafa"/><stop offset=".2608" stop-color="#f8f8f8"/><stop offset=".2701" stop-color="#f5f5f5"/><stop offset=".2793" stop-color="#f0f0f0"/><stop offset=".2855" stop-color="#e9e9e9"/><stop offset=".2886" stop-color="#e4e4e4"/><stop offset=".2917" stop-color="#dbdbdb"/><stop offset=".2948" stop-color="#cbcbcb"/><stop offset=".2978" stop-color="#9e9e9e"/><stop offset=".3009" stop-color="#424242"/><stop offset=".3040" stop-color="#262626"/><stop offset=".3071" stop-color="#989898"/><stop offset=".3102" stop-color="#ebebeb"/><stop offset=".3133" stop-color="#fcfcfc"/><stop offset=".3164" stop-color="#fefefe"/><stop offset=".3194" stop-color="#fefefe"/><stop offset=".4306" stop-color="#ffffff"/><stop offset=".4645" stop-color="#fdfdfd"/><stop offset=".4985" stop-color="#fafafa"/><stop offset=".5139" stop-color="#f7f7f7"/><stop offset=".5293" stop-color="#f2f2f2"/><stop offset=".5448" stop-color="#eaeaea"/><stop offset=".5664" stop-color="#dadada"/><stop offset=".5787" stop-color="#cfcfcf"/><stop offset=".5880" stop-color="#c5c5c5"/><stop offset=".6065" stop-color="#acacac"/><stop offset=".6281" stop-color="#8d8d8d"/><stop offset=".6528" stop-color="#6b6b6b"/><stop offset=".6806" stop-color="#454545"/><stop offset=".6898" stop-color="#3a3a3a"/><stop offset=".7052" stop-color="#2a2a2a"/><stop offset=".7238" stop-color="#181818"/><stop offset=".7454" stop-color="#050505"/><stop offset=".7515" stop-color="#010101"/><stop offset=".7793" stop-color="#141414"/><stop offset=".8009" stop-color="#212121"/><stop offset=".8256" stop-color="#2e2e2e"/><stop offset=".8534" stop-color="#393939"/><stop offset=".8843" stop-color="#444444"/><stop offset=".9182" stop-color="#4d4d4d"/><stop offset=".9583" stop-color="#565656"/><stop offset=".9985" stop-color="#5d5d5d"/></linearGradient>
<linearGradient id="h118" gradientUnits="userSpaceOnUse" x1="0" y1="4" x2="0" y2="328" gradientTransform="translate(299,0) skewY(-15.138) translate(-299,0)"><stop offset=".0015" stop-color="#fefefe"/><stop offset=".1466" stop-color="#fdfdfd"/><stop offset=".2176" stop-color="#fcfcfc"/><stop offset=".2546" stop-color="#f8f8f8"/><stop offset=".2670" stop-color="#f5f5f5"/><stop offset=".2762" stop-color="#f0f0f0"/><stop offset=".2824" stop-color="#eaeaea"/><stop offset=".2855" stop-color="#e5e5e5"/><stop offset=".2886" stop-color="#dedede"/><stop offset=".2917" stop-color="#d1d1d1"/><stop offset=".2948" stop-color="#b5b5b5"/><stop offset=".2978" stop-color="#6c6c6c"/><stop offset=".3009" stop-color="#202020"/><stop offset=".3040" stop-color="#585858"/><stop offset=".3071" stop-color="#cecece"/><stop offset=".3102" stop-color="#f7f7f7"/><stop offset=".3133" stop-color="#fdfdfd"/><stop offset=".3194" stop-color="#fefefe"/><stop offset=".4306" stop-color="#ffffff"/><stop offset=".4645" stop-color="#fdfdfd"/><stop offset=".4985" stop-color="#fafafa"/><stop offset=".5139" stop-color="#f7f7f7"/><stop offset=".5293" stop-color="#f2f2f2"/><stop offset=".5448" stop-color="#eaeaea"/><stop offset=".5664" stop-color="#dadada"/><stop offset=".5849" stop-color="#c8c8c8"/><stop offset=".6034" stop-color="#b0b0b0"/><stop offset=".6312" stop-color="#888888"/><stop offset=".6836" stop-color="#414141"/><stop offset=".6960" stop-color="#333333"/><stop offset=".7114" stop-color="#232323"/><stop offset=".7330" stop-color="#0f0f0f"/><stop offset=".7485" stop-color="#020202"/><stop offset=".7515" stop-color="#010101"/><stop offset=".7824" stop-color="#171717"/><stop offset=".8071" stop-color="#252525"/><stop offset=".8318" stop-color="#313131"/><stop offset=".8565" stop-color="#3b3b3b"/><stop offset=".8873" stop-color="#454545"/><stop offset=".9213" stop-color="#4e4e4e"/><stop offset=".9583" stop-color="#565656"/><stop offset=".9985" stop-color="#5d5d5d"/></linearGradient>
<linearGradient id="h119" gradientUnits="userSpaceOnUse" x1="0" y1="4" x2="0" y2="328" gradientTransform="translate(301,0) skewY(-15.138) translate(-301,0)"><stop offset=".0015" stop-color="#fefefe"/><stop offset=".1435" stop-color="#fdfdfd"/><stop offset=".2145" stop-color="#fcfcfc"/><stop offset=".2515" stop-color="#f8f8f8"/><stop offset=".2639" stop-color="#f5f5f5"/><stop offset=".2731" stop-color="#f0f0f0"/><stop offset=".2793" stop-color="#eaeaea"/><stop offset=".2824" stop-color="#e6e6e6"/><stop offset=".2855" stop-color="#e0e0e0"/><stop offset=".2886" stop-color="#d6d6d6"/><stop offset=".2917" stop-color="#c3c3c3"/><stop offset=".2948" stop-color="#919191"/><stop offset=".2978" stop-color="#363636"/><stop offset=".3009" stop-color="#292929"/><stop offset=".3040" stop-color="#9e9e9e"/><stop offset=".3071" stop-color="#ebebeb"/><stop offset=".3102" stop-color="#fcfcfc"/><stop offset=".3133" stop-color="#fefefe"/><stop offset=".3194" stop-color="#fefefe"/><stop offset=".4306" stop-color="#ffffff"/><stop offset=".4645" stop-color="#fdfdfd"/><stop offset=".4985" stop-color="#fafafa"/><stop offset=".5139" stop-color="#f7f7f7"/><stop offset=".5293" stop-color="#f2f2f2"/><stop offset=".5448" stop-color="#eaeaea"/><stop offset=".5664" stop-color="#dadada"/><stop offset=".5849" stop-color="#c8c8c8"/><stop offset=".6034" stop-color="#b0b0b0"/><stop offset=".6312" stop-color="#888888"/><stop offset=".6836" stop-color="#414141"/><stop offset=".6960" stop-color="#333333"/><stop offset=".7114" stop-color="#232323"/><stop offset=".7330" stop-color="#0e0e0e"/><stop offset=".7485" stop-color="#010101"/><stop offset=".7515" stop-color="#020202"/><stop offset=".7793" stop-color="#151515"/><stop offset=".8040" stop-color="#242424"/><stop offset=".8287" stop-color="#303030"/><stop offset=".8534" stop-color="#3a3a3a"/><stop offset=".8843" stop-color="#444444"/><stop offset=".9182" stop-color="#4e4e4e"/><stop offset=".9583" stop-color="#565656"/><stop offset=".9985" stop-color="#5d5d5d"/></linearGradient>
<linearGradient id="h120" gradientUnits="userSpaceOnUse" x1="0" y1="4" x2="0" y2="328" gradientTransform="translate(303,0) skewY(-15.138) translate(-303,0)"><stop offset=".0015" stop-color="#fefefe"/><stop offset=".1435" stop-color="#fdfdfd"/><stop offset=".2145" stop-color="#fbfbfb"/><stop offset=".2515" stop-color="#f7f7f7"/><stop offset=".2639" stop-color="#f3f3f3"/><stop offset=".2731" stop-color="#eeeeee"/><stop offset=".2793" stop-color="#e7e7e7"/><stop offset=".2824" stop-color="#e1e1e1"/><stop offset=".2855" stop-color="#d9d9d9"/><stop offset=".2886" stop-color="#cbcbcb"/><stop offset=".2917" stop-color="#aaaaaa"/><stop offset=".2948" stop-color="#5d5d5d"/><stop offset=".2978" stop-color="#1c1c1c"/><stop offset=".3009" stop-color="#5f5f5f"/><stop offset=".3040" stop-color="#d1d1d1"/><stop offset=".3071" stop-color="#f7f7f7"/><stop offset=".3102" stop-color="#fdfdfd"/><stop offset=".3164" stop-color="#fefefe"/><stop offset=".4306" stop-color="#ffffff"/><stop offset=".4645" stop-color="#fdfdfd"/><stop offset=".4985" stop-color="#fafafa"/><stop offset=".5139" stop-color="#f7f7f7"/><stop offset=".5293" stop-color="#f2f2f2"/><stop offset=".5448" stop-color="#eaeaea"/><stop offset=".5664" stop-color="#dadada"/><stop offset=".5849" stop-color="#c8c8c8"/><stop offset=".6034" stop-color="#b0b0b0"/><stop offset=".6312" stop-color="#878787"/><stop offset=".6836" stop-color="#404040"/><stop offset=".6991" stop-color="#2f2f2f"/><stop offset=".7145" stop-color="#1f1f1f"/><stop offset=".7361" stop-color="#0b0b0b"/><stop offset=".7485" stop-color="#010101"/><stop offset=".7515" stop-color="#020202"/><stop offset=".7793" stop-color="#161616"/><stop offset=".8040" stop-color="#242424"/><stop offset=".8287" stop-color="#303030"/><stop offset=".8534" stop-color="#3b3b3b"/><stop offset=".8843" stop-color="#454545"/><stop offset=".9182" stop-color="#4e4e4e"/><stop offset=".9583" stop-color="#575757"/><stop offset=".9985" stop-color="#5e5e5e"/></linearGradient>
<linearGradient id="h121" gradientUnits="userSpaceOnUse" x1="0" y1="4" x2="0" y2="328" gradientTransform="translate(305,0) skewY(-15.138) translate(-305,0)"><stop offset=".0015" stop-color="#fefefe"/><stop offset=".1404" stop-color="#fdfdfd"/><stop offset=".2114" stop-color="#fbfbfb"/><stop offset=".2485" stop-color="#f7f7f7"/><stop offset=".2608" stop-color="#f3f3f3"/><stop offset=".2701" stop-color="#eeeeee"/><stop offset=".2762" stop-color="#e8e8e8"/><stop offset=".2793" stop-color="#e3e3e3"/><stop offset=".2824" stop-color="#dbdbdb"/><stop offset=".2855" stop-color="#d0d0d0"/><stop offset=".2886" stop-color="#bababa"/><stop offset=".2917" stop-color="#838383"/><stop offset=".2948" stop-color="#2c2c2c"/><stop offset=".2978" stop-color="#2c2c2c"/><stop offset=".3009" stop-color="#a3a3a3"/><stop offset=".3040" stop-color="#ececec"/><stop offset=".3071" stop-color="#fbfbfb"/><stop offset=".3102" stop-color="#fdfdfd"/><stop offset=".3164" stop-color="#fefefe"/><stop offset=".4306" stop-color="#ffffff"/><stop offset=".4645" stop-color="#fdfdfd"/><stop offset=".4985" stop-color="#fafafa"/><stop offset=".5139" stop-color="#f7f7f7"/><stop offset=".5293" stop-color="#f2f2f2"/><stop offset=".5448" stop-color="#eaeaea"/><stop offset=".5664" stop-color="#dadada"/><stop offset=".5849" stop-color="#c8c8c8"/><stop offset=".6034" stop-color="#b0b0b0"/><stop offset=".6312" stop-color="#878787"/><stop offset=".6836" stop-color="#404040"/><stop offset=".6991" stop-color="#2e2e2e"/><stop offset=".7145" stop-color="#1f1f1f"/><stop offset=".7392" stop-color="#080808"/><stop offset=".7485" stop-color="#010101"/><stop offset=".7515" stop-color="#020202"/><stop offset=".7793" stop-color="#161616"/><stop offset=".8009" stop-color="#232323"/><stop offset=".8256" stop-color="#303030"/><stop offset=".8534" stop-color="#3b3b3b"/><stop offset=".8843" stop-color="#454545"/><stop offset=".9182" stop-color="#4e4e4e"/><stop offset=".9583" stop-color="#575757"/><stop offset=".9985" stop-color="#5e5e5e"/></linearGradient>
<linearGradient id="h122" gradientUnits="userSpaceOnUse" x1="0" y1="4" x2="0" y2="328" gradientTransform="translate(307,0) skewY(-15.138) translate(-307,0)"><stop offset=".0015" stop-color="#fefefe"/><stop offset=".1373" stop-color="#fdfdfd"/><stop offset=".2083" stop-color="#fbfbfb"/><stop offset=".2454" stop-color="#f7f7f7"/><stop offset=".2577" stop-color="#f3f3f3"/><stop offset=".2670" stop-color="#eeeeee"/><stop offset=".2731" stop-color="#e8e8e8"/><stop offset=".2762" stop-color="#e4e4e4"/><stop offset=".2793" stop-color="#dddddd"/><stop offset=".2824" stop-color="#d4d4d4"/><stop offset=".2855" stop-color="#c4c4c4"/><stop offset=".2886" stop-color="#9f9f9f"/><stop offset=".2917" stop-color="#4f4f4f"/><stop offset=".2948" stop-color="#191919"/><stop offset=".2978" stop-color="#656565"/><stop offset=".3009" stop-color="#d3d3d3"/><stop offset=".3040" stop-color="#f7f7f7"/><stop offset=".3071" stop-color="#fdfdfd"/><stop offset=".3133" stop-color="#fefefe"/><stop offset=".4244" stop-color="#ffffff"/><stop offset=".4645" stop-color="#fdfdfd"/><stop offset=".4985" stop-color="#fafafa"/><stop offset=".5139" stop-color="#f7f7f7"/><stop offset=".5293" stop-color="#f2f2f2"/><stop offset=".5448" stop-color="#eaeaea"/><stop offset=".5664" stop-color="#dadada"/><stop offset=".5787" stop-color="#cecece"/><stop offset=".5880" stop-color="#c4c4c4"/><stop offset=".6034" stop-color="#afafaf"/><stop offset=".6281" stop-color="#8b8b8b"/><stop offset=".6528" stop-color="#686868"/><stop offset=".6775" stop-color="#474747"/><stop offset=".6898" stop-color="#383838"/><stop offset=".7052" stop-color="#272727"/><stop offset=".7238" stop-color="#151515"/><stop offset=".7423" stop-color="#050505"/><stop offset=".7485" stop-color="#010101"/><stop offset=".7762" stop-color="#151515"/><stop offset=".7978" stop-color="#222222"/><stop offset=".8225" stop-color="#2f2f2f"/><stop offset=".8503" stop-color="#3a3a3a"/><stop offset=".8812" stop-color="#454545"/><stop offset=".9151" stop-color="#4e4e4e"/><stop offset=".9552" stop-color="#575757"/><stop offset=".9985" stop-color="#5e5e5e"/></linearGradient>
<linearGradient id="h123" gradientUnits="userSpaceOnUse" x1="0" y1="4" x2="0" y2="328" gradientTransform="translate(309,0) skewY(-15.138) translate(-309,0)"><stop offset=".0015" stop-color="#fefefe"/><stop offset=".1343" stop-color="#fdfdfd"/><stop offset=".2052" stop-color="#fbfbfb"/><stop offset=".2423" stop-color="#f6f6f6"/><stop offset=".2546" stop-color="#f3f3f3"/><stop offset=".2639" stop-color="#eeeeee"/><stop offset=".2701" stop-color="#e9e9e9"/><stop offset=".2731" stop-color="#e5e5e5"/><stop offset=".2762" stop-color="#dfdfdf"/><stop offset=".2793" stop-color="#d7d7d7"/><stop offset=".2824" stop-color="#cacaca"/><stop offset=".2855" stop-color="#b1b1b1"/><stop offset=".2886" stop-color="#757575"/><stop offset=".2917" stop-color="#242424"/><stop offset=".2948" stop-color="#303030"/><stop offset=".2978" stop-color="#a8a8a8"/><stop offset=".3009" stop-color="#ededed"/><stop offset=".3040" stop-color="#fbfbfb"/><stop offset=".3071" stop-color="#fdfdfd"/><stop offset=".3133" stop-color="#fefefe"/><stop offset=".4275" stop-color="#ffffff"/><stop offset=".4645" stop-color="#fdfdfd"/><stop offset=".4985" stop-color="#fafafa"/><stop offset=".5139" stop-color="#f7f7f7"/><stop offset=".5293" stop-color="#f2f2f2"/><stop offset=".5448" stop-color="#eaeaea"/><stop offset=".5664" stop-color="#dadada"/><stop offset=".5849" stop-color="#c7c7c7"/><stop offset=".6034" stop-color="#afafaf"/><stop offset=".6281" stop-color="#8a8a8a"/><stop offset=".6806" stop-color="#424242"/><stop offset=".6929" stop-color="#343434"/><stop offset=".7083" stop-color="#242424"/><stop offset=".7299" stop-color="#0f0f0f"/><stop offset=".7454" stop-color="#020202"/><stop offset=".7485" stop-color="#010101"/><stop offset=".7793" stop-color="#171717"/><stop offset=".8040" stop-color="#262626"/><stop offset=".8287" stop-color="#323232"/><stop offset=".8534" stop-color="#3c3c3c"/><stop offset=".8843" stop-color="#464646"/><stop offset=".9182" stop-color="#4f4f4f"/><stop offset=".9583" stop-color="#585858"/><stop offset=".9985" stop-color="#5f5f5f"/></linearGradient>
<linearGradient id="h124" gradientUnits="userSpaceOnUse" x1="0" y1="4" x2="0" y2="328" gradientTransform="translate(311,0) skewY(-15.138) translate(-311,0)"><stop offset=".0015" stop-color="#fefefe"/><stop offset=".1343" stop-color="#fdfdfd"/><stop offset=".2052" stop-color="#fafafa"/><stop offset=".2269" stop-color="#f8f8f8"/><stop offset=".2423" stop-color="#f6f6f6"/><stop offset=".2546" stop-color="#f2f2f2"/><stop offset=".2639" stop-color="#ececec"/><stop offset=".2701" stop-color="#e5e5e5"/><stop offset=".2731" stop-color="#e0e0e0"/><stop offset=".2762" stop-color="#d9d9d9"/><stop offset=".2793" stop-color="#cfcfcf"/><stop offset=".2824" stop-color="#bcbcbc"/><stop offset=".2855" stop-color="#939393"/><stop offset=".2886" stop-color="#434343"/><stop offset=".2917" stop-color="#181818"/><stop offset=".2948" stop-color="#6c6c6c"/><stop offset=".2978" stop-color="#d5d5d5"/><stop offset=".3009" stop-color="#f7f7f7"/><stop offset=".3040" stop-color="#fcfcfc"/><stop offset=".3102" stop-color="#fefefe"/><stop offset=".4151" stop-color="#ffffff"/><stop offset=".4645" stop-color="#fdfdfd"/><stop offset=".4985" stop-color="#fafafa"/><stop offset=".5139" stop-color="#f7f7f7"/><stop offset=".5293" stop-color="#f2f2f2"/><stop offset=".5448" stop-color="#eaeaea"/><stop offset=".5664" stop-color="#dadada"/><stop offset=".5849" stop-color="#c7c7c7"/><stop offset=".6034" stop-color="#afafaf"/><stop offset=".6281" stop-color="#8a8a8a"/><stop offset=".6806" stop-color="#424242"/><stop offset=".6929" stop-color="#333333"/><stop offset=".7083" stop-color="#232323"/><stop offset=".7299" stop-color="#0f0f0f"/><stop offset=".7454" stop-color="#010101"/><stop offset=".7485" stop-color="#020202"/><stop offset=".7762" stop-color="#161616"/><stop offset=".8009" stop-color="#252525"/><stop offset=".8256" stop-color="#313131"/><stop offset=".8534" stop-color="#3c3c3c"/><stop offset=".8843" stop-color="#464646"/><stop offset=".9182" stop-color="#4f4f4f"/><stop offset=".9583" stop-color="#585858"/><stop offset=".9985" stop-color="#5f5f5f"/></linearGradient>
<linearGradient id="h125" gradientUnits="userSpaceOnUse" x1="0" y1="4" x2="0" y2="328" gradientTransform="translate(313,0) skewY(-15.138) translate(-313,0)"><stop offset=".0015" stop-color="#fefefe"/><stop offset=".1343" stop-color="#fdfdfd"/><stop offset=".2022" stop-color="#fafafa"/><stop offset=".2238" stop-color="#f8f8f8"/><stop offset=".2392" stop-color="#f5f5f5"/><stop offset=".2515" stop-color="#f1f1f1"/><stop offset=".2608" stop-color="#ececec"/><stop offset=".2670" stop-color="#e6e6e6"/><stop offset=".2701" stop-color="#e1e1e1"/><stop offset=".2731" stop-color="#dbdbdb"/><stop offset=".2762" stop-color="#d2d2d2"/><stop offset=".2793" stop-color="#c4c4c4"/><stop offset=".2824" stop-color="#a7a7a7"/><stop offset=".2855" stop-color="#686868"/><stop offset=".2886" stop-color="#1e1e1e"/><stop offset=".2917" stop-color="#343434"/><stop offset=".2948" stop-color="#acacac"/><stop offset=".2978" stop-color="#ededed"/><stop offset=".3009" stop-color="#fbfbfb"/><stop offset=".3040" stop-color="#fdfdfd"/><stop offset=".3102" stop-color="#fefefe"/><stop offset=".4182" stop-color="#ffffff"/><stop offset=".4645" stop-color="#fdfdfd"/><stop offset=".4985" stop-color="#fafafa"/><stop offset=".5139" stop-color="#f7f7f7"/><stop offset=".5293" stop-color="#f2f2f2"/><stop offset=".5448" stop-color="#eaeaea"/><stop offset=".5571" stop-color="#e1e1e1"/><stop offset=".5664" stop-color="#dadada"/><stop offset=".5849" stop-color="#c7c7c7"/><stop offset=".6034" stop-color="#aeaeae"/><stop offset=".6281" stop-color="#8a8a8a"/><stop offset=".6806" stop-color="#414141"/><stop offset=".6960" stop-color="#2f2f2f"/><stop offset=".7114" stop-color="#202020"/><stop offset=".7330" stop-color="#0b0b0b"/><stop offset=".7454" stop-color="#010101"/><stop offset=".7485" stop-color="#020202"/><stop offset=".7731" stop-color="#141414"/><stop offset=".7978" stop-color="#232323"/><stop offset=".8225" stop-color="#303030"/><stop offset=".8503" stop-color="#3b3b3b"/><stop offset=".8812" stop-color="#464646"/><stop offset=".9151" stop-color="#4f4f4f"/><stop offset=".9552" stop-color="#585858"/><stop offset=".9985" stop-color="#5f5f5f"/></linearGradient>
<linearGradient id="h126" gradientUnits="userSpaceOnUse" x1="0" y1="4" x2="0" y2="328" gradientTransform="translate(315,0) skewY(-15.138) translate(-315,0)"><stop offset=".0015" stop-color="#fefefe"/><stop offset=".1312" stop-color="#fdfdfd"/><stop offset=".1991" stop-color="#fafafa"/><stop offset=".2207" stop-color="#f8f8f8"/><stop offset=".2361" stop-color="#f5f5f5"/><stop offset=".2485" stop-color="#f1f1f1"/><stop offset=".2577" stop-color="#ececec"/><stop offset=".2639" stop-color="#e6e6e6"/><stop offset=".2670" stop-color="#e2e2e2"/><stop offset=".2701" stop-color="#dddddd"/><stop offset=".2731" stop-color="#d5d5d5"/><stop offset=".2762" stop-color="#c9c9c9"/><stop offset=".2793" stop-color="#b4b4b4"/><stop offset=".2824" stop-color="#878787"/><stop offset=".2855" stop-color="#373737"/><stop offset=".2886" stop-color="#181818"/><stop offset=".2917" stop-color="#727272"/><stop offset=".2948" stop-color="#d7d7d7"/><stop offset=".2978" stop-color="#f7f7f7"/><stop offset=".3009" stop-color="#fcfcfc"/><stop offset=".3102" stop-color="#fefefe"/><stop offset=".4213" stop-color="#ffffff"/><stop offset=".4645" stop-color="#fdfdfd"/><stop offset=".4985" stop-color="#fafafa"/><stop offset=".5139" stop-color="#f7f7f7"/><stop offset=".5293" stop-color="#f2f2f2"/><stop offset=".5448" stop-color="#eaeaea"/><stop offset=".5571" stop-color="#e1e1e1"/><stop offset=".5664" stop-color="#dadada"/><stop offset=".5787" stop-color="#cecece"/><stop offset=".5880" stop-color="#c3c3c3"/><stop offset=".6034" stop-color="#aeaeae"/><stop offset=".6250" stop-color="#8e8e8e"/><stop offset=".6497" stop-color="#6b6b6b"/><stop offset=".6775" stop-color="#454545"/><stop offset=".6867" stop-color="#393939"/><stop offset=".7022" stop-color="#282828"/><stop offset=".7176" stop-color="#191919"/><stop offset=".7392" stop-color="#050505"/><stop offset=".7454" stop-color="#010101"/><stop offset=".7485" stop-color="#020202"/><stop offset=".7762" stop-color="#171717"/><stop offset=".7978" stop-color="#242424"/><stop offset=".8225" stop-color="#303030"/><stop offset=".8503" stop-color="#3c3c3c"/><stop offset=".8812" stop-color="#464646"/><stop offset=".9151" stop-color="#4f4f4f"/><stop offset=".9552" stop-color="#585858"/><stop offset=".9985" stop-color="#5f5f5f"/></linearGradient>
<linearGradient id="h127" gradientUnits="userSpaceOnUse" x1="0" y1="4" x2="0" y2="328" gradientTransform="translate(317,0) skewY(-15.138) translate(-317,0)"><stop offset=".0015" stop-color="#fefefe"/><stop offset=".1312" stop-color="#fcfcfc"/><stop offset=".1991" stop-color="#fafafa"/><stop offset=".2207" stop-color="#f7f7f7"/><stop offset=".2361" stop-color="#f4f4f4"/><stop offset=".2485" stop-color="#f0f0f0"/><stop offset=".2577" stop-color="#eaeaea"/><stop offset=".2639" stop-color="#e3e3e3"/><stop offset=".2670" stop-color="#dedede"/><stop offset=".2701" stop-color="#d7d7d7"/><stop offset=".2731" stop-color="#cdcdcd"/><stop offset=".2762" stop-color="#bdbdbd"/><stop offset=".2793" stop-color="#9d9d9d"/><stop offset=".2855" stop-color="#191919"/><stop offset=".2886" stop-color="#393939"/><stop offset=".2917" stop-color="#b0b0b0"/><stop offset=".2948" stop-color="#ededed"/><stop offset=".2978" stop-color="#fafafa"/><stop offset=".3009" stop-color="#fcfcfc"/><stop offset=".3071" stop-color="#fefefe"/><stop offset=".4090" stop-color="#ffffff"/><stop offset=".4645" stop-color="#fdfdfd"/><stop offset=".5108" stop-color="#f7f7f7"/><stop offset=".5262" stop-color="#f3f3f3"/><stop offset=".5417" stop-color="#ebebeb"/><stop offset=".5509" stop-color="#e6e6e6"/><stop offset=".5633" stop-color="#dcdcdc"/><stop offset=".5818" stop-color="#cacaca"/><stop offset=".6003" stop-color="#b2b2b2"/><stop offset=".6281" stop-color="#898989"/><stop offset=".6806" stop-color="#404040"/><stop offset=".6960" stop-color="#2e2e2e"/><stop offset=".7145" stop-color="#1b1b1b"/><stop offset=".7392" stop-color="#050505"/><stop offset=".7454" stop-color="#010101"/><stop offset=".7731" stop-color="#151515"/><stop offset=".7978" stop-color="#242424"/><stop offset=".8225" stop-color="#313131"/><stop offset=".8503" stop-color="#3c3c3c"/><stop offset=".8812" stop-color="#464646"/><stop offset=".9151" stop-color="#505050"/><stop offset=".9552" stop-color="#585858"/><stop offset=".9985" stop-color="#606060"/></linearGradient>
<linearGradient id="h128" gradientUnits="userSpaceOnUse" x1="0" y1="4" x2="0" y2="328" gradientTransform="translate(319,0) skewY(-15.138) translate(-319,0)"><stop offset=".0015" stop-color="#fefefe"/><stop offset=".1281" stop-color="#fcfcfc"/><stop offset=".1960" stop-color="#f9f9f9"/><stop offset=".2176" stop-color="#f7f7f7"/><stop offset=".2330" stop-color="#f4f4f4"/><stop offset=".2454" stop-color="#f0f0f0"/><stop offset=".2546" stop-color="#eaeaea"/><stop offset=".2608" stop-color="#e4e4e4"/><stop offset=".2639" stop-color="#dfdfdf"/><stop offset=".2670" stop-color="#d9d9d9"/><stop offset=".2701" stop-color="#d0d0d0"/><stop offset=".2731" stop-color="#c3c3c3"/><stop offset=".2762" stop-color="#acacac"/><stop offset=".2793" stop-color="#7b7b7b"/><stop offset=".2824" stop-color="#2d2d2d"/><stop offset=".2855" stop-color="#191919"/><stop offset=".2886" stop-color="#777777"/><stop offset=".2917" stop-color="#d8d8d8"/><stop offset=".2948" stop-color="#f6f6f6"/><stop offset=".2978" stop-color="#fcfcfc"/><stop offset=".3071" stop-color="#fefefe"/><stop offset=".4151" stop-color="#ffffff"/><stop offset=".4645" stop-color="#fdfdfd"/><stop offset=".5108" stop-color="#f7f7f7"/><stop offset=".5262" stop-color="#f3f3f3"/><stop offset=".5417" stop-color="#ebebeb"/><stop offset=".5509" stop-color="#e5e5e5"/><stop offset=".5633" stop-color="#dcdcdc"/><stop offset=".5756" stop-color="#d0d0d0"/><stop offset=".5849" stop-color="#c6c6c6"/><stop offset=".6034" stop-color="#adadad"/><stop offset=".6250" stop-color="#8d8d8d"/><stop offset=".6466" stop-color="#6e6e6e"/><stop offset=".6806" stop-color="#3f3f3f"/><stop offset=".6929" stop-color="#313131"/><stop offset=".7083" stop-color="#212121"/><stop offset=".7269" stop-color="#0f0f0f"/><stop offset=".7423" stop-color="#020202"/><stop offset=".7454" stop-color="#010101"/><stop offset=".7731" stop-color="#161616"/><stop offset=".8009" stop-color="#272727"/><stop offset=".8256" stop-color="#333333"/><stop offset=".8503" stop-color="#3d3d3d"/><stop offset=".8812" stop-color="#474747"/><stop offset=".9151" stop-color="#505050"/><stop offset=".9552" stop-color="#595959"/><stop offset=".9985" stop-color="#606060"/></linearGradient>
<linearGradient id="h129" gradientUnits="userSpaceOnUse" x1="0" y1="4" x2="0" y2="328" gradientTransform="translate(321,0) skewY(-15.138) translate(-321,0)"><stop offset=".0015" stop-color="#fefefe"/><stop offset=".1250" stop-color="#fcfcfc"/><stop offset=".1929" stop-color="#f9f9f9"/><stop offset=".2145" stop-color="#f7f7f7"/><stop offset=".2299" stop-color="#f4f4f4"/><stop offset=".2423" stop-color="#f0f0f0"/><stop offset=".2515" stop-color="#eaeaea"/><stop offset=".2577" stop-color="#e4e4e4"/><stop offset=".2639" stop-color="#dadada"/><stop offset=".2670" stop-color="#d2d2d2"/><stop offset=".2701" stop-color="#c7c7c7"/><stop offset=".2731" stop-color="#b6b6b6"/><stop offset=".2762" stop-color="#939393"/><stop offset=".2793" stop-color="#4e4e4e"/><stop offset=".2824" stop-color="#151515"/><stop offset=".2855" stop-color="#3e3e3e"/><stop offset=".2886" stop-color="#b3b3b3"/><stop offset=".2917" stop-color="#ededed"/><stop offset=".2948" stop-color="#fafafa"/><stop offset=".2978" stop-color="#fcfcfc"/><stop offset=".3071" stop-color="#fefefe"/><stop offset=".4182" stop-color="#ffffff"/><stop offset=".4645" stop-color="#fdfdfd"/><stop offset=".5108" stop-color="#f7f7f7"/><stop offset=".5262" stop-color="#f3f3f3"/><stop offset=".5417" stop-color="#ebebeb"/><stop offset=".5509" stop-color="#e5e5e5"/><stop offset=".5633" stop-color="#dcdcdc"/><stop offset=".5756" stop-color="#d0d0d0"/><stop offset=".5849" stop-color="#c6c6c6"/><stop offset=".6034" stop-color="#adadad"/><stop offset=".6250" stop-color="#8c8c8c"/><stop offset=".6466" stop-color="#6d6d6d"/><stop offset=".6806" stop-color="#3f3f3f"/><stop offset=".6929" stop-color="#313131"/><stop offset=".7083" stop-color="#202020"/><stop offset=".7299" stop-color="#0c0c0c"/><stop offset=".7423" stop-color="#010101"/><stop offset=".7454" stop-color="#020202"/><stop offset=".7731" stop-color="#161616"/><stop offset=".7978" stop-color="#252525"/><stop offset=".8225" stop-color="#323232"/><stop offset=".8503" stop-color="#3d3d3d"/><stop offset=".8812" stop-color="#474747"/><stop offset=".9151" stop-color="#505050"/><stop offset=".9552" stop-color="#595959"/><stop offset=".9985" stop-color="#606060"/></linearGradient>
<linearGradient id="h130" gradientUnits="userSpaceOnUse" x1="0" y1="4" x2="0" y2="328" gradientTransform="translate(323,0) skewY(-15.138) translate(-323,0)"><stop offset=".0015" stop-color="#fefefe"/><stop offset=".1219" stop-color="#fcfcfc"/><stop offset=".1898" stop-color="#f9f9f9"/><stop offset=".2114" stop-color="#f7f7f7"/><stop offset=".2269" stop-color="#f4f4f4"/><stop offset=".2392" stop-color="#f0f0f0"/><stop offset=".2485" stop-color="#eaeaea"/><stop offset=".2546" stop-color="#e5e5e5"/><stop offset=".2608" stop-color="#dbdbdb"/><stop offset=".2639" stop-color="#d5d5d5"/><stop offset=".2670" stop-color="#cbcbcb"/><stop offset=".2701" stop-color="#bdbdbd"/><stop offset=".2731" stop-color="#a3a3a3"/><stop offset=".2762" stop-color="#6e6e6e"/><stop offset=".2793" stop-color="#252525"/><stop offset=".2824" stop-color="#1a1a1a"/><stop offset=".2855" stop-color="#7d7d7d"/><stop offset=".2886" stop-color="#dadada"/><stop offset=".2917" stop-color="#f6f6f6"/><stop offset=".2948" stop-color="#fbfbfb"/><stop offset=".3040" stop-color="#fefefe"/><stop offset=".4059" stop-color="#ffffff"/><stop offset=".4645" stop-color="#fdfdfd"/><stop offset=".5108" stop-color="#f7f7f7"/><stop offset=".5262" stop-color="#f3f3f3"/><stop offset=".5417" stop-color="#ebebeb"/><stop offset=".5509" stop-color="#e5e5e5"/><stop offset=".5633" stop-color="#dcdcdc"/><stop offset=".5818" stop-color="#c9c9c9"/><stop offset=".6003" stop-color="#b1b1b1"/><stop offset=".6281" stop-color="#878787"/><stop offset=".6775" stop-color="#424242"/><stop offset=".6929" stop-color="#303030"/><stop offset=".7083" stop-color="#202020"/><stop offset=".7299" stop-color="#0b0b0b"/><stop offset=".7423" stop-color="#010101"/><stop offset=".7454" stop-color="#020202"/><stop offset=".7701" stop-color="#151515"/><stop offset=".7948" stop-color="#242424"/><stop offset=".8194" stop-color="#313131"/><stop offset=".8472" stop-color="#3c3c3c"/><stop offset=".8781" stop-color="#474747"/><stop offset=".9151" stop-color="#515151"/><stop offset=".9552" stop-color="#595959"/><stop offset=".9985" stop-color="#606060"/></linearGradient>
<linearGradient id="h131" gradientUnits="userSpaceOnUse" x1="0" y1="4" x2="0" y2="328" gradientTransform="translate(325,0) skewY(-15.138) translate(-325,0)"><stop offset=".0015" stop-color="#fefefe"/><stop offset=".1250" stop-color="#fcfcfc"/><stop offset=".1898" stop-color="#f9f9f9"/><stop offset=".2114" stop-color="#f6f6f6"/><stop offset=".2269" stop-color="#f3f3f3"/><stop offset=".2392" stop-color="#eeeeee"/><stop offset=".2485" stop-color="#e8e8e8"/><stop offset=".2546" stop-color="#e1e1e1"/><stop offset=".2577" stop-color="#dddddd"/><stop offset=".2608" stop-color="#d6d6d6"/><stop offset=".2639" stop-color="#cecece"/><stop offset=".2670" stop-color="#c2c2c2"/><stop offset=".2701" stop-color="#aeaeae"/><stop offset=".2731" stop-color="#888888"/><stop offset=".2762" stop-color="#434343"/><stop offset=".2793" stop-color="#121212"/><stop offset=".2824" stop-color="#434343"/><stop offset=".2855" stop-color="#b6b6b6"/><stop offset=".2886" stop-color="#ededed"/><stop offset=".2917" stop-color="#f9f9f9"/><stop offset=".2948" stop-color="#fcfcfc"/><stop offset=".3040" stop-color="#fefefe"/><stop offset=".4090" stop-color="#ffffff"/><stop offset=".4645" stop-color="#fdfdfd"/><stop offset=".5108" stop-color="#f7f7f7"/><stop offset=".5262" stop-color="#f3f3f3"/><stop offset=".5417" stop-color="#ebebeb"/><stop offset=".5509" stop-color="#e5e5e5"/><stop offset=".5633" stop-color="#dcdcdc"/><stop offset=".5818" stop-color="#c9c9c9"/><stop offset=".6003" stop-color="#b1b1b1"/><stop offset=".6281" stop-color="#878787"/><stop offset=".6775" stop-color="#424242"/><stop offset=".6929" stop-color="#2f2f2f"/><stop offset=".7083" stop-color="#1f1f1f"/><stop offset=".7330" stop-color="#080808"/><stop offset=".7392" stop-color="#030303"/><stop offset=".7423" stop-color="#010101"/><stop offset=".7731" stop-color="#171717"/><stop offset=".7948" stop-color="#252525"/><stop offset=".8194" stop-color="#313131"/><stop offset=".8472" stop-color="#3d3d3d"/><stop offset=".8781" stop-color="#474747"/><stop offset=".9151" stop-color="#515151"/><stop offset=".9552" stop-color="#595959"/><stop offset=".9985" stop-color="#616161"/></linearGradient>
<linearGradient id="h132" gradientUnits="userSpaceOnUse" x1="0" y1="4" x2="0" y2="328" gradientTransform="translate(327,0) skewY(-15.138) translate(-327,0)"><stop offset=".0015" stop-color="#fdfdfd"/><stop offset=".1219" stop-color="#fcfcfc"/><stop offset=".1867" stop-color="#f9f9f9"/><stop offset=".2083" stop-color="#f6f6f6"/><stop offset=".2238" stop-color="#f3f3f3"/><stop offset=".2361" stop-color="#eeeeee"/><stop offset=".2454" stop-color="#e8e8e8"/><stop offset=".2515" stop-color="#e2e2e2"/><stop offset=".2577" stop-color="#d8d8d8"/><stop offset=".2608" stop-color="#d0d0d0"/><stop offset=".2639" stop-color="#c6c6c6"/><stop offset=".2670" stop-color="#b6b6b6"/><stop offset=".2701" stop-color="#9a9a9a"/><stop offset=".2731" stop-color="#636363"/><stop offset=".2762" stop-color="#1e1e1e"/><stop offset=".2793" stop-color="#1c1c1c"/><stop offset=".2824" stop-color="#828282"/><stop offset=".2855" stop-color="#dbdbdb"/><stop offset=".2886" stop-color="#f5f5f5"/><stop offset=".2917" stop-color="#fbfbfb"/><stop offset=".2978" stop-color="#fdfdfd"/><stop offset=".3040" stop-color="#fefefe"/><stop offset=".4120" stop-color="#ffffff"/><stop offset=".4645" stop-color="#fdfdfd"/><stop offset=".5108" stop-color="#f8f8f8"/><stop offset=".5262" stop-color="#f3f3f3"/><stop offset=".5417" stop-color="#ebebeb"/><stop offset=".5509" stop-color="#e5e5e5"/><stop offset=".5633" stop-color="#dcdcdc"/><stop offset=".5818" stop-color="#c9c9c9"/><stop offset=".6003" stop-color="#b0b0b0"/><stop offset=".6281" stop-color="#868686"/><stop offset=".6775" stop-color="#414141"/><stop offset=".6929" stop-color="#2f2f2f"/><stop offset=".7114" stop-color="#1c1c1c"/><stop offset=".7361" stop-color="#050505"/><stop offset=".7392" stop-color="#020202"/><stop offset=".7423" stop-color="#010101"/><stop offset=".7701" stop-color="#161616"/><stop offset=".7917" stop-color="#232323"/><stop offset=".8194" stop-color="#323232"/><stop offset=".8472" stop-color="#3d3d3d"/><stop offset=".8781" stop-color="#474747"/><stop offset=".9151" stop-color="#515151"/><stop offset=".9552" stop-color="#5a5a5a"/><stop offset=".9985" stop-color="#616161"/></linearGradient>
<linearGradient id="h133" gradientUnits="userSpaceOnUse" x1="0" y1="4" x2="0" y2="328" gradientTransform="translate(329,0) skewY(-15.138) translate(-329,0)"><stop offset=".0015" stop-color="#fdfdfd"/><stop offset=".1188" stop-color="#fcfcfc"/><stop offset=".1836" stop-color="#f8f8f8"/><stop offset=".2052" stop-color="#f6f6f6"/><stop offset=".2207" stop-color="#f2f2f2"/><stop offset=".2330" stop-color="#eeeeee"/><stop offset=".2423" stop-color="#e8e8e8"/><stop offset=".2485" stop-color="#e2e2e2"/><stop offset=".2546" stop-color="#d9d9d9"/><stop offset=".2577" stop-color="#d2d2d2"/><stop offset=".2608" stop-color="#c9c9c9"/><stop offset=".2639" stop-color="#bcbcbc"/><stop offset=".2670" stop-color="#a7a7a7"/><stop offset=".2701" stop-color="#7d7d7d"/><stop offset=".2731" stop-color="#383838"/><stop offset=".2762" stop-color="#101010"/><stop offset=".2793" stop-color="#484848"/><stop offset=".2824" stop-color="#b9b9b9"/><stop offset=".2855" stop-color="#ededed"/><stop offset=".2886" stop-color="#f9f9f9"/><stop offset=".2917" stop-color="#fbfbfb"/><stop offset=".3009" stop-color="#fefefe"/><stop offset=".3997" stop-color="#ffffff"/><stop offset=".4398" stop-color="#ffffff"/><stop offset=".4645" stop-color="#fefefe"/><stop offset=".5108" stop-color="#f8f8f8"/><stop offset=".5262" stop-color="#f3f3f3"/><stop offset=".5417" stop-color="#ebebeb"/><stop offset=".5509" stop-color="#e5e5e5"/><stop offset=".5633" stop-color="#dbdbdb"/><stop offset=".5818" stop-color="#c9c9c9"/><stop offset=".6003" stop-color="#b0b0b0"/><stop offset=".6250" stop-color="#8a8a8a"/><stop offset=".6775" stop-color="#404040"/><stop offset=".6898" stop-color="#323232"/><stop offset=".7052" stop-color="#212121"/><stop offset=".7238" stop-color="#0f0f0f"/><stop offset=".7392" stop-color="#020202"/><stop offset=".7423" stop-color="#020202"/><stop offset=".7701" stop-color="#161616"/><stop offset=".7978" stop-color="#272727"/><stop offset=".8225" stop-color="#343434"/><stop offset=".8472" stop-color="#3e3e3e"/><stop offset=".8781" stop-color="#484848"/><stop offset=".9151" stop-color="#525252"/><stop offset=".9552" stop-color="#5a5a5a"/><stop offset=".9985" stop-color="#616161"/></linearGradient>
<linearGradient id="h134" gradientUnits="userSpaceOnUse" x1="0" y1="4" x2="0" y2="328" gradientTransform="translate(331,0) skewY(-15.138) translate(-331,0)"><stop offset=".0015" stop-color="#fdfdfd"/><stop offset=".1188" stop-color="#fbfbfb"/><stop offset=".1836" stop-color="#f8f8f8"/><stop offset=".2052" stop-color="#f5f5f5"/><stop offset=".2207" stop-color="#f1f1f1"/><stop offset=".2330" stop-color="#ececec"/><stop offset=".2423" stop-color="#e6e6e6"/><stop offset=".2485" stop-color="#dfdfdf"/><stop offset=".2546" stop-color="#d4d4d4"/><stop offset=".2577" stop-color="#cccccc"/><stop offset=".2608" stop-color="#c0c0c0"/><stop offset=".2639" stop-color="#afafaf"/><stop offset=".2670" stop-color="#919191"/><stop offset=".2701" stop-color="#575757"/><stop offset=".2731" stop-color="#181818"/><stop offset=".2762" stop-color="#1f1f1f"/><stop offset=".2793" stop-color="#878787"/><stop offset=".2824" stop-color="#dbdbdb"/><stop offset=".2855" stop-color="#f5f5f5"/><stop offset=".2886" stop-color="#fafafa"/><stop offset=".2948" stop-color="#fdfdfd"/><stop offset=".3009" stop-color="#fefefe"/><stop offset=".4059" stop-color="#ffffff"/><stop offset=".4645" stop-color="#fefefe"/><stop offset=".5108" stop-color="#f8f8f8"/><stop offset=".5262" stop-color="#f3f3f3"/><stop offset=".5417" stop-color="#ebebeb"/><stop offset=".5509" stop-color="#e5e5e5"/><stop offset=".5633" stop-color="#dbdbdb"/><stop offset=".5818" stop-color="#c9c9c9"/><stop offset=".6003" stop-color="#b0b0b0"/><stop offset=".6250" stop-color="#8a8a8a"/><stop offset=".6775" stop-color="#404040"/><stop offset=".6898" stop-color="#313131"/><stop offset=".7052" stop-color="#212121"/><stop offset=".7269" stop-color="#0c0c0c"/><stop offset=".7392" stop-color="#010101"/><stop offset=".7423" stop-color="#020202"/><stop offset=".7701" stop-color="#171717"/><stop offset=".7948" stop-color="#262626"/><stop offset=".8194" stop-color="#333333"/><stop offset=".8472" stop-color="#3e3e3e"/><stop offset=".8781" stop-color="#484848"/><stop offset=".9151" stop-color="#525252"/><stop offset=".9552" stop-color="#5a5a5a"/><stop offset=".9985" stop-color="#626262"/></linearGradient>
<linearGradient id="h135" gradientUnits="userSpaceOnUse" x1="0" y1="4" x2="0" y2="328" gradientTransform="translate(333,0) skewY(-15.138) translate(-333,0)"><stop offset=".0015" stop-color="#fdfdfd"/><stop offset=".1157" stop-color="#fbfbfb"/><stop offset=".1806" stop-color="#f8f8f8"/><stop offset=".2022" stop-color="#f5f5f5"/><stop offset=".2176" stop-color="#f1f1f1"/><stop offset=".2299" stop-color="#ececec"/><stop offset=".2392" stop-color="#e6e6e6"/><stop offset=".2454" stop-color="#e0e0e0"/><stop offset=".2515" stop-color="#d5d5d5"/><stop offset=".2546" stop-color="#cecece"/><stop offset=".2577" stop-color="#c4c4c4"/><stop offset=".2608" stop-color="#b6b6b6"/><stop offset=".2639" stop-color="#9f9f9f"/><stop offset=".2670" stop-color="#727272"/><stop offset=".2701" stop-color="#2f2f2f"/><stop offset=".2731" stop-color="#0f0f0f"/><stop offset=".2762" stop-color="#4d4d4d"/><stop offset=".2793" stop-color="#bbbbbb"/><stop offset=".2824" stop-color="#ededed"/><stop offset=".2855" stop-color="#f8f8f8"/><stop offset=".2886" stop-color="#fbfbfb"/><stop offset=".2978" stop-color="#fefefe"/><stop offset=".3225" stop-color="#ffffff"/><stop offset=".3935" stop-color="#ffffff"/><stop offset=".4398" stop-color="#ffffff"/><stop offset=".4645" stop-color="#fefefe"/><stop offset=".5108" stop-color="#f8f8f8"/><stop offset=".5262" stop-color="#f3f3f3"/><stop offset=".5417" stop-color="#ebebeb"/><stop offset=".5509" stop-color="#e5e5e5"/><stop offset=".5633" stop-color="#dbdbdb"/><stop offset=".5818" stop-color="#c8c8c8"/><stop offset=".6003" stop-color="#afafaf"/><stop offset=".6250" stop-color="#898989"/><stop offset=".6497" stop-color="#666666"/><stop offset=".6775" stop-color="#3f3f3f"/><stop offset=".6929" stop-color="#2d2d2d"/><stop offset=".7083" stop-color="#1d1d1d"/><stop offset=".7299" stop-color="#080808"/><stop offset=".7392" stop-color="#010101"/><stop offset=".7423" stop-color="#020202"/><stop offset=".7701" stop-color="#171717"/><stop offset=".7917" stop-color="#252525"/><stop offset=".8164" stop-color="#323232"/><stop offset=".8441" stop-color="#3d3d3d"/><stop offset=".8750" stop-color="#484848"/><stop offset=".9120" stop-color="#525252"/><stop offset=".9522" stop-color="#5a5a5a"/><stop offset=".9985" stop-color="#626262"/></linearGradient>
<linearGradient id="h136" gradientUnits="userSpaceOnUse" x1="0" y1="4" x2="0" y2="328" gradientTransform="translate(335,0) skewY(-15.138) translate(-335,0)"><stop offset=".0015" stop-color="#fdfdfd"/><stop offset=".1127" stop-color="#fbfbfb"/><stop offset=".1775" stop-color="#f7f7f7"/><stop offset=".1991" stop-color="#f5f5f5"/><stop offset=".2145" stop-color="#f1f1f1"/><stop offset=".2269" stop-color="#ececec"/><stop offset=".2361" stop-color="#e6e6e6"/><stop offset=".2423" stop-color="#e0e0e0"/><stop offset=".2454" stop-color="#dcdcdc"/><stop offset=".2485" stop-color="#d7d7d7"/><stop offset=".2515" stop-color="#d0d0d0"/><stop offset=".2546" stop-color="#c7c7c7"/><stop offset=".2577" stop-color="#bbbbbb"/><stop offset=".2608" stop-color="#a8a8a8"/><stop offset=".2639" stop-color="#878787"/><stop offset=".2670" stop-color="#4c4c4c"/><stop offset=".2701" stop-color="#141414"/><stop offset=".2731" stop-color="#222222"/><stop offset=".2762" stop-color="#8b8b8b"/><stop offset=".2793" stop-color="#dcdcdc"/><stop offset=".2824" stop-color="#f4f4f4"/><stop offset=".2855" stop-color="#fafafa"/><stop offset=".2886" stop-color="#fcfcfc"/><stop offset=".2978" stop-color="#fefefe"/><stop offset=".3966" stop-color="#ffffff"/><stop offset=".4398" stop-color="#ffffff"/><stop offset=".4645" stop-color="#fefefe"/><stop offset=".4954" stop-color="#fafafa"/><stop offset=".5108" stop-color="#f7f7f7"/><stop offset=".5262" stop-color="#f3f3f3"/><stop offset=".5386" stop-color="#ededed"/><stop offset=".5478" stop-color="#e7e7e7"/><stop offset=".5602" stop-color="#dedede"/><stop offset=".5725" stop-color="#d2d2d2"/><stop offset=".5818" stop-color="#c8c8c8"/><stop offset=".6003" stop-color="#afafaf"/><stop offset=".6250" stop-color="#898989"/><stop offset=".6497" stop-color="#656565"/><stop offset=".6775" stop-color="#3e3e3e"/><stop offset=".6929" stop-color="#2c2c2c"/><stop offset=".7083" stop-color="#1c1c1c"/><stop offset=".7330" stop-color="#050505"/><stop offset=".7392" stop-color="#010101"/><stop offset=".7670" stop-color="#161616"/><stop offset=".7917" stop-color="#252525"/><stop offset=".8164" stop-color="#323232"/><stop offset=".8441" stop-color="#3e3e3e"/><stop offset=".8750" stop-color="#484848"/><stop offset=".9120" stop-color="#525252"/><stop offset=".9522" stop-color="#5a5a5a"/><stop offset=".9985" stop-color="#626262"/></linearGradient>
<linearGradient id="h137" gradientUnits="userSpaceOnUse" x1="0" y1="4" x2="0" y2="328" gradientTransform="translate(337,0) skewY(-15.138) translate(-337,0)"><stop offset=".0015" stop-color="#fdfdfd"/><stop offset=".1127" stop-color="#fbfbfb"/><stop offset=".1775" stop-color="#f7f7f7"/><stop offset=".1991" stop-color="#f4f4f4"/><stop offset=".2145" stop-color="#f0f0f0"/><stop offset=".2269" stop-color="#eaeaea"/><stop offset=".2361" stop-color="#e4e4e4"/><stop offset=".2423" stop-color="#dddddd"/><stop offset=".2485" stop-color="#d2d2d2"/><stop offset=".2515" stop-color="#cacaca"/><stop offset=".2546" stop-color="#bfbfbf"/><stop offset=".2577" stop-color="#afafaf"/><stop offset=".2608" stop-color="#969696"/><stop offset=".2639" stop-color="#686868"/><stop offset=".2670" stop-color="#272727"/><stop offset=".2701" stop-color="#0f0f0f"/><stop offset=".2731" stop-color="#535353"/><stop offset=".2762" stop-color="#bdbdbd"/><stop offset=".2793" stop-color="#ececec"/><stop offset=".2824" stop-color="#f8f8f8"/><stop offset=".2855" stop-color="#fbfbfb"/><stop offset=".2978" stop-color="#fefefe"/><stop offset=".3997" stop-color="#ffffff"/><stop offset=".4398" stop-color="#ffffff"/><stop offset=".4645" stop-color="#fefefe"/><stop offset=".4954" stop-color="#fafafa"/><stop offset=".5108" stop-color="#f7f7f7"/><stop offset=".5262" stop-color="#f3f3f3"/><stop offset=".5386" stop-color="#ededed"/><stop offset=".5478" stop-color="#e7e7e7"/><stop offset=".5602" stop-color="#dedede"/><stop offset=".5725" stop-color="#d2d2d2"/><stop offset=".5818" stop-color="#c8c8c8"/><stop offset=".6003" stop-color="#aeaeae"/><stop offset=".6250" stop-color="#888888"/><stop offset=".6744" stop-color="#424242"/><stop offset=".6867" stop-color="#333333"/><stop offset=".7022" stop-color="#222222"/><stop offset=".7207" stop-color="#101010"/><stop offset=".7361" stop-color="#020202"/><stop offset=".7392" stop-color="#010101"/><stop offset=".7670" stop-color="#161616"/><stop offset=".7948" stop-color="#282828"/><stop offset=".8194" stop-color="#343434"/><stop offset=".8441" stop-color="#3e3e3e"/><stop offset=".8750" stop-color="#484848"/><stop offset=".9120" stop-color="#525252"/><stop offset=".9522" stop-color="#5b5b5b"/><stop offset=".9985" stop-color="#626262"/></linearGradient>
<linearGradient id="h138" gradientUnits="userSpaceOnUse" x1="0" y1="4" x2="0" y2="328" gradientTransform="translate(339,0) skewY(-15.138) translate(-339,0)"><stop offset=".0015" stop-color="#fdfdfd"/><stop offset=".1127" stop-color="#fbfbfb"/><stop offset=".1744" stop-color="#f7f7f7"/><stop offset=".1960" stop-color="#f4f4f4"/><stop offset=".2114" stop-color="#f0f0f0"/><stop offset=".2238" stop-color="#eaeaea"/><stop offset=".2330" stop-color="#e4e4e4"/><stop offset=".2392" stop-color="#dddddd"/><stop offset=".2454" stop-color="#d3d3d3"/><stop offset=".2485" stop-color="#cccccc"/><stop offset=".2515" stop-color="#c2c2c2"/><stop offset=".2546" stop-color="#b5b5b5"/><stop offset=".2577" stop-color="#a1a1a1"/><stop offset=".2608" stop-color="#7e7e7e"/><stop offset=".2639" stop-color="#424242"/><stop offset=".2670" stop-color="#101010"/><stop offset=".2701" stop-color="#252525"/><stop offset=".2731" stop-color="#8f8f8f"/><stop offset=".2762" stop-color="#dcdcdc"/><stop offset=".2793" stop-color="#f4f4f4"/><stop offset=".2824" stop-color="#f9f9f9"/><stop offset=".2855" stop-color="#fbfbfb"/><stop offset=".2948" stop-color="#fdfdfd"/><stop offset=".3194" stop-color="#ffffff"/><stop offset=".3904" stop-color="#ffffff"/><stop offset=".4398" stop-color="#ffffff"/><stop offset=".4645" stop-color="#fefefe"/><stop offset=".4954" stop-color="#fafafa"/><stop offset=".5108" stop-color="#f7f7f7"/><stop offset=".5262" stop-color="#f3f3f3"/><stop offset=".5386" stop-color="#ededed"/><stop offset=".5478" stop-color="#e7e7e7"/><stop offset=".5602" stop-color="#dddddd"/><stop offset=".5725" stop-color="#d2d2d2"/><stop offset=".5818" stop-color="#c7c7c7"/><stop offset=".6003" stop-color="#aeaeae"/><stop offset=".6250" stop-color="#888888"/><stop offset=".6744" stop-color="#414141"/><stop offset=".6867" stop-color="#323232"/><stop offset=".7022" stop-color="#212121"/><stop offset=".7238" stop-color="#0c0c0c"/><stop offset=".7361" stop-color="#010101"/><stop offset=".7392" stop-color="#020202"/><stop offset=".7670" stop-color="#171717"/><stop offset=".7917" stop-color="#272727"/><stop offset=".8164" stop-color="#333333"/><stop offset=".8441" stop-color="#3f3f3f"/><stop offset=".8750" stop-color="#494949"/><stop offset=".9120" stop-color="#535353"/><stop offset=".9522" stop-color="#5b5b5b"/><stop offset=".9985" stop-color="#636363"/></linearGradient>
<linearGradient id="h139" gradientUnits="userSpaceOnUse" x1="0" y1="4" x2="0" y2="328" gradientTransform="translate(341,0) skewY(-15.138) translate(-341,0)"><stop offset=".0015" stop-color="#fdfdfd"/><stop offset=".1096" stop-color="#fbfbfb"/><stop offset=".1713" stop-color="#f7f7f7"/><stop offset=".1929" stop-color="#f3f3f3"/><stop offset=".2083" stop-color="#f0f0f0"/><stop offset=".2207" stop-color="#eaeaea"/><stop offset=".2299" stop-color="#e4e4e4"/><stop offset=".2361" stop-color="#dedede"/><stop offset=".2392" stop-color="#dadada"/><stop offset=".2423" stop-color="#d4d4d4"/><stop offset=".2454" stop-color="#cecece"/><stop offset=".2485" stop-color="#c5c5c5"/><stop offset=".2515" stop-color="#b9b9b9"/><stop offset=".2546" stop-color="#a9a9a9"/><stop offset=".2577" stop-color="#8e8e8e"/><stop offset=".2608" stop-color="#5d5d5d"/><stop offset=".2639" stop-color="#202020"/><stop offset=".2670" stop-color="#0f0f0f"/><stop offset=".2701" stop-color="#585858"/><stop offset=".2731" stop-color="#bfbfbf"/><stop offset=".2762" stop-color="#ececec"/><stop offset=".2793" stop-color="#f7f7f7"/><stop offset=".2824" stop-color="#fafafa"/><stop offset=".2886" stop-color="#fdfdfd"/><stop offset=".2948" stop-color="#fefefe"/><stop offset=".3225" stop-color="#ffffff"/><stop offset=".3935" stop-color="#ffffff"/><stop offset=".4398" stop-color="#ffffff"/><stop offset=".4645" stop-color="#fefefe"/><stop offset=".4954" stop-color="#fafafa"/><stop offset=".5108" stop-color="#f7f7f7"/><stop offset=".5262" stop-color="#f3f3f3"/><stop offset=".5386" stop-color="#ededed"/><stop offset=".5478" stop-color="#e7e7e7"/><stop offset=".5602" stop-color="#dddddd"/><stop offset=".5725" stop-color="#d2d2d2"/><stop offset=".5818" stop-color="#c7c7c7"/><stop offset=".6003" stop-color="#aeaeae"/><stop offset=".6250" stop-color="#878787"/><stop offset=".6744" stop-color="#404040"/><stop offset=".6867" stop-color="#313131"/><stop offset=".7022" stop-color="#212121"/><stop offset=".7238" stop-color="#0c0c0c"/><stop offset=".7361" stop-color="#010101"/><stop offset=".7392" stop-color="#020202"/><stop offset=".7670" stop-color="#181818"/><stop offset=".7886" stop-color="#252525"/><stop offset=".8164" stop-color="#343434"/><stop offset=".8441" stop-color="#3f3f3f"/><stop offset=".8750" stop-color="#494949"/><stop offset=".9120" stop-color="#535353"/><stop offset=".9522" stop-color="#5b5b5b"/><stop offset=".9985" stop-color="#636363"/></linearGradient>
<linearGradient id="h140" gradientUnits="userSpaceOnUse" x1="0" y1="4" x2="0" y2="328" gradientTransform="translate(343,0) skewY(-15.138) translate(-343,0)"><stop offset=".0015" stop-color="#fdfdfd"/><stop offset=".1096" stop-color="#fafafa"/><stop offset=".1713" stop-color="#f6f6f6"/><stop offset=".1929" stop-color="#f3f3f3"/><stop offset=".2083" stop-color="#eeeeee"/><stop offset=".2207" stop-color="#e9e9e9"/><stop offset=".2299" stop-color="#e2e2e2"/><stop offset=".2361" stop-color="#dadada"/><stop offset=".2423" stop-color="#cfcfcf"/><stop offset=".2454" stop-color="#c8c8c8"/><stop offset=".2485" stop-color="#bdbdbd"/><stop offset=".2515" stop-color="#afafaf"/><stop offset=".2546" stop-color="#9a9a9a"/><stop offset=".2577" stop-color="#747474"/><stop offset=".2608" stop-color="#383838"/><stop offset=".2639" stop-color="#0e0e0e"/><stop offset=".2670" stop-color="#292929"/><stop offset=".2701" stop-color="#939393"/><stop offset=".2731" stop-color="#dcdcdc"/><stop offset=".2762" stop-color="#f3f3f3"/><stop offset=".2793" stop-color="#f9f9f9"/><stop offset=".2855" stop-color="#fcfcfc"/><stop offset=".2917" stop-color="#fdfdfd"/><stop offset=".3565" stop-color="#ffffff"/><stop offset=".4367" stop-color="#ffffff"/><stop offset=".4614" stop-color="#fefefe"/><stop offset=".5077" stop-color="#f8f8f8"/><stop offset=".5231" stop-color="#f4f4f4"/><stop offset=".5386" stop-color="#ececec"/><stop offset=".5478" stop-color="#e7e7e7"/><stop offset=".5602" stop-color="#dddddd"/><stop offset=".5725" stop-color="#d1d1d1"/><stop offset=".5818" stop-color="#c7c7c7"/><stop offset=".5972" stop-color="#b2b2b2"/><stop offset=".6250" stop-color="#878787"/><stop offset=".6744" stop-color="#404040"/><stop offset=".6898" stop-color="#2d2d2d"/><stop offset=".7052" stop-color="#1d1d1d"/><stop offset=".7299" stop-color="#050505"/><stop offset=".7361" stop-color="#010101"/><stop offset=".7670" stop-color="#181818"/><stop offset=".7886" stop-color="#262626"/><stop offset=".8133" stop-color="#333333"/><stop offset=".8410" stop-color="#3e3e3e"/><stop offset=".8750" stop-color="#4a4a4a"/><stop offset=".9120" stop-color="#535353"/><stop offset=".9522" stop-color="#5c5c5c"/><stop offset=".9985" stop-color="#636363"/></linearGradient>
<linearGradient id="h141" gradientUnits="userSpaceOnUse" x1="0" y1="4" x2="0" y2="328" gradientTransform="translate(345,0) skewY(-15.138) translate(-345,0)"><stop offset=".0015" stop-color="#fcfcfc"/><stop offset=".1065" stop-color="#fafafa"/><stop offset=".1682" stop-color="#f6f6f6"/><stop offset=".1898" stop-color="#f2f2f2"/><stop offset=".2052" stop-color="#eeeeee"/><stop offset=".2176" stop-color="#e9e9e9"/><stop offset=".2269" stop-color="#e2e2e2"/><stop offset=".2330" stop-color="#dbdbdb"/><stop offset=".2392" stop-color="#d1d1d1"/><stop offset=".2423" stop-color="#cacaca"/><stop offset=".2454" stop-color="#c0c0c0"/><stop offset=".2485" stop-color="#b4b4b4"/><stop offset=".2515" stop-color="#a2a2a2"/><stop offset=".2546" stop-color="#868686"/><stop offset=".2577" stop-color="#535353"/><stop offset=".2608" stop-color="#1a1a1a"/><stop offset=".2639" stop-color="#101010"/><stop offset=".2670" stop-color="#5d5d5d"/><stop offset=".2701" stop-color="#c1c1c1"/><stop offset=".2731" stop-color="#ececec"/><stop offset=".2762" stop-color="#f6f6f6"/><stop offset=".2793" stop-color="#fafafa"/><stop offset=".2855" stop-color="#fcfcfc"/><stop offset=".2917" stop-color="#fdfdfd"/><stop offset=".3164" stop-color="#ffffff"/><stop offset=".3873" stop-color="#ffffff"/><stop offset=".4398" stop-color="#ffffff"/><stop offset=".4645" stop-color="#fefefe"/><stop offset=".4954" stop-color="#fafafa"/><stop offset=".5108" stop-color="#f7f7f7"/><stop offset=".5262" stop-color="#f3f3f3"/><stop offset=".5386" stop-color="#ececec"/><stop offset=".5478" stop-color="#e7e7e7"/><stop offset=".5602" stop-color="#dddddd"/><stop offset=".5787" stop-color="#cacaca"/><stop offset=".5972" stop-color="#b1b1b1"/><stop offset=".6250" stop-color="#868686"/><stop offset=".6744" stop-color="#3f3f3f"/><stop offset=".6898" stop-color="#2d2d2d"/><stop offset=".7083" stop-color="#191919"/><stop offset=".7299" stop-color="#050505"/><stop offset=".7330" stop-color="#020202"/><stop offset=".7361" stop-color="#010101"/><stop offset=".7639" stop-color="#171717"/><stop offset=".7855" stop-color="#252525"/><stop offset=".8133" stop-color="#333333"/><stop offset=".8410" stop-color="#3f3f3f"/><stop offset=".8750" stop-color="#4a4a4a"/><stop offset=".9120" stop-color="#545454"/><stop offset=".9522" stop-color="#5c5c5c"/><stop offset=".9985" stop-color="#646464"/></linearGradient>
<linearGradient id="h142" gradientUnits="userSpaceOnUse" x1="0" y1="4" x2="0" y2="328" gradientTransform="translate(347,0) skewY(-15.138) translate(-347,0)"><stop offset=".0015" stop-color="#fcfcfc"/><stop offset=".1034" stop-color="#fafafa"/><stop offset=".1651" stop-color="#f6f6f6"/><stop offset=".1867" stop-color="#f2f2f2"/><stop offset=".2022" stop-color="#eeeeee"/><stop offset=".2145" stop-color="#e9e9e9"/><stop offset=".2238" stop-color="#e2e2e2"/><stop offset=".2330" stop-color="#d7d7d7"/><stop offset=".2392" stop-color="#cbcbcb"/><stop offset=".2423" stop-color="#c3c3c3"/><stop offset=".2454" stop-color="#b8b8b8"/><stop offset=".2485" stop-color="#a9a9a9"/><stop offset=".2515" stop-color="#929292"/><stop offset=".2546" stop-color="#6b6b6b"/><stop offset=".2577" stop-color="#303030"/><stop offset=".2608" stop-color="#0c0c0c"/><stop offset=".2639" stop-color="#2c2c2c"/><stop offset=".2670" stop-color="#969696"/><stop offset=".2701" stop-color="#dddddd"/><stop offset=".2731" stop-color="#f2f2f2"/><stop offset=".2762" stop-color="#f8f8f8"/><stop offset=".2824" stop-color="#fcfcfc"/><stop offset=".2917" stop-color="#fdfdfd"/><stop offset=".3194" stop-color="#ffffff"/><stop offset=".3904" stop-color="#ffffff"/><stop offset=".4398" stop-color="#ffffff"/><stop offset=".4645" stop-color="#fefefe"/><stop offset=".4954" stop-color="#fafafa"/><stop offset=".5108" stop-color="#f7f7f7"/><stop offset=".5262" stop-color="#f3f3f3"/><stop offset=".5386" stop-color="#ececec"/><stop offset=".5478" stop-color="#e6e6e6"/><stop offset=".5602" stop-color="#dddddd"/><stop offset=".5787" stop-color="#cacaca"/><stop offset=".5972" stop-color="#b1b1b1"/><stop offset=".6219" stop-color="#8a8a8a"/><stop offset=".6713" stop-color="#424242"/><stop offset=".6836" stop-color="#333333"/><stop offset=".6991" stop-color="#222222"/><stop offset=".7176" stop-color="#0f0f0f"/><stop offset=".7330" stop-color="#020202"/><stop offset=".7361" stop-color="#020202"/><stop offset=".7639" stop-color="#171717"/><stop offset=".7886" stop-color="#272727"/><stop offset=".8133" stop-color="#343434"/><stop offset=".8410" stop-color="#3f3f3f"/><stop offset=".8750" stop-color="#4a4a4a"/><stop offset=".9120" stop-color="#545454"/><stop offset=".9522" stop-color="#5c5c5c"/><stop offset=".9985" stop-color="#646464"/></linearGradient>
<linearGradient id="h143" gradientUnits="userSpaceOnUse" x1="0" y1="4" x2="0" y2="328" gradientTransform="translate(349,0) skewY(-15.138) translate(-349,0)"><stop offset=".0015" stop-color="#fcfcfc"/><stop offset=".1034" stop-color="#fafafa"/><stop offset=".1620" stop-color="#f5f5f5"/><stop offset=".1836" stop-color="#f2f2f2"/><stop offset=".1991" stop-color="#eeeeee"/><stop offset=".2114" stop-color="#e9e9e9"/><stop offset=".2207" stop-color="#e2e2e2"/><stop offset=".2299" stop-color="#d8d8d8"/><stop offset=".2361" stop-color="#cdcdcd"/><stop offset=".2392" stop-color="#c5c5c5"/><stop offset=".2423" stop-color="#bcbcbc"/><stop offset=".2454" stop-color="#aeaeae"/><stop offset=".2485" stop-color="#9c9c9c"/><stop offset=".2515" stop-color="#7d7d7d"/><stop offset=".2546" stop-color="#4a4a4a"/><stop offset=".2577" stop-color="#151515"/><stop offset=".2608" stop-color="#111111"/><stop offset=".2639" stop-color="#616161"/><stop offset=".2670" stop-color="#c2c2c2"/><stop offset=".2701" stop-color="#ebebeb"/><stop offset=".2731" stop-color="#f6f6f6"/><stop offset=".2762" stop-color="#f9f9f9"/><stop offset=".2824" stop-color="#fcfcfc"/><stop offset=".2886" stop-color="#fdfdfd"/><stop offset=".3441" stop-color="#ffffff"/><stop offset=".4583" stop-color="#fefefe"/><stop offset=".5077" stop-color="#f8f8f8"/><stop offset=".5231" stop-color="#f4f4f4"/><stop offset=".5355" stop-color="#eeeeee"/><stop offset=".5448" stop-color="#e8e8e8"/><stop offset=".5571" stop-color="#dfdfdf"/><stop offset=".5694" stop-color="#d4d4d4"/><stop offset=".5787" stop-color="#cacaca"/><stop offset=".5972" stop-color="#b0b0b0"/><stop offset=".6219" stop-color="#8a8a8a"/><stop offset=".6713" stop-color="#424242"/><stop offset=".6836" stop-color="#323232"/><stop offset=".6991" stop-color="#212121"/><stop offset=".7207" stop-color="#0c0c0c"/><stop offset=".7330" stop-color="#010101"/><stop offset=".7361" stop-color="#020202"/><stop offset=".7670" stop-color="#1a1a1a"/><stop offset=".7886" stop-color="#282828"/><stop offset=".8133" stop-color="#343434"/><stop offset=".8410" stop-color="#404040"/><stop offset=".8750" stop-color="#4b4b4b"/><stop offset=".9120" stop-color="#545454"/><stop offset=".9522" stop-color="#5d5d5d"/><stop offset=".9985" stop-color="#646464"/></linearGradient>
<linearGradient id="h144" gradientUnits="userSpaceOnUse" x1="0" y1="4" x2="0" y2="328" gradientTransform="translate(351,0) skewY(-15.138) translate(-351,0)"><stop offset=".0015" stop-color="#fcfcfc"/><stop offset=".1034" stop-color="#f9f9f9"/><stop offset=".1620" stop-color="#f5f5f5"/><stop offset=".1836" stop-color="#f1f1f1"/><stop offset=".1991" stop-color="#ededed"/><stop offset=".2114" stop-color="#e7e7e7"/><stop offset=".2207" stop-color="#e0e0e0"/><stop offset=".2269" stop-color="#d9d9d9"/><stop offset=".2299" stop-color="#d4d4d4"/><stop offset=".2361" stop-color="#c7c7c7"/><stop offset=".2392" stop-color="#bebebe"/><stop offset=".2423" stop-color="#b3b3b3"/><stop offset=".2454" stop-color="#a3a3a3"/><stop offset=".2485" stop-color="#8b8b8b"/><stop offset=".2515" stop-color="#616161"/><stop offset=".2546" stop-color="#282828"/><stop offset=".2577" stop-color="#0b0b0b"/><stop offset=".2608" stop-color="#303030"/><stop offset=".2639" stop-color="#999999"/><stop offset=".2670" stop-color="#dddddd"/><stop offset=".2701" stop-color="#f2f2f2"/><stop offset=".2731" stop-color="#f8f8f8"/><stop offset=".2793" stop-color="#fbfbfb"/><stop offset=".2886" stop-color="#fdfdfd"/><stop offset=".3472" stop-color="#ffffff"/><stop offset=".4583" stop-color="#fefefe"/><stop offset=".5077" stop-color="#f8f8f8"/><stop offset=".5231" stop-color="#f4f4f4"/><stop offset=".5355" stop-color="#eeeeee"/><stop offset=".5448" stop-color="#e8e8e8"/><stop offset=".5571" stop-color="#dfdfdf"/><stop offset=".5694" stop-color="#d3d3d3"/><stop offset=".5787" stop-color="#c9c9c9"/><stop offset=".5972" stop-color="#b0b0b0"/><stop offset=".6219" stop-color="#898989"/><stop offset=".6713" stop-color="#414141"/><stop offset=".6867" stop-color="#2e2e2e"/><stop offset=".7022" stop-color="#1e1e1e"/><stop offset=".7269" stop-color="#050505"/><stop offset=".7330" stop-color="#010101"/><stop offset=".7639" stop-color="#191919"/><stop offset=".7855" stop-color="#262626"/><stop offset=".8102" stop-color="#333333"/><stop offset=".8380" stop-color="#3f3f3f"/><stop offset=".8719" stop-color="#4a4a4a"/><stop offset=".9090" stop-color="#545454"/><stop offset=".9491" stop-color="#5c5c5c"/><stop offset=".9985" stop-color="#646464"/></linearGradient>
<linearGradient id="h145" gradientUnits="userSpaceOnUse" x1="0" y1="4" x2="0" y2="328" gradientTransform="translate(353,0) skewY(-15.138) translate(-353,0)"><stop offset=".0015" stop-color="#fcfcfc"/><stop offset=".1003" stop-color="#f9f9f9"/><stop offset=".1590" stop-color="#f5f5f5"/><stop offset=".1806" stop-color="#f1f1f1"/><stop offset=".1960" stop-color="#ececec"/><stop offset=".2083" stop-color="#e7e7e7"/><stop offset=".2176" stop-color="#e0e0e0"/><stop offset=".2269" stop-color="#d5d5d5"/><stop offset=".2330" stop-color="#c9c9c9"/><stop offset=".2361" stop-color="#c1c1c1"/><stop offset=".2392" stop-color="#b7b7b7"/><stop offset=".2423" stop-color="#a9a9a9"/><stop offset=".2454" stop-color="#959595"/><stop offset=".2485" stop-color="#747474"/><stop offset=".2515" stop-color="#404040"/><stop offset=".2546" stop-color="#111111"/><stop offset=".2577" stop-color="#131313"/><stop offset=".2608" stop-color="#666666"/><stop offset=".2639" stop-color="#c3c3c3"/><stop offset=".2670" stop-color="#eaeaea"/><stop offset=".2701" stop-color="#f5f5f5"/><stop offset=".2731" stop-color="#f9f9f9"/><stop offset=".2793" stop-color="#fcfcfc"/><stop offset=".2886" stop-color="#fdfdfd"/><stop offset=".3534" stop-color="#ffffff"/><stop offset=".4583" stop-color="#fefefe"/><stop offset=".5077" stop-color="#f8f8f8"/><stop offset=".5231" stop-color="#f4f4f4"/><stop offset=".5355" stop-color="#eeeeee"/><stop offset=".5448" stop-color="#e8e8e8"/><stop offset=".5571" stop-color="#dfdfdf"/><stop offset=".5694" stop-color="#d3d3d3"/><stop offset=".5787" stop-color="#c9c9c9"/><stop offset=".5972" stop-color="#afafaf"/><stop offset=".6219" stop-color="#888888"/><stop offset=".6713" stop-color="#404040"/><stop offset=".6867" stop-color="#2d2d2d"/><stop offset=".7052" stop-color="#1a1a1a"/><stop offset=".7269" stop-color="#050505"/><stop offset=".7299" stop-color="#020202"/><stop offset=".7330" stop-color="#010101"/><stop offset=".7608" stop-color="#171717"/><stop offset=".7824" stop-color="#252525"/><stop offset=".8102" stop-color="#343434"/><stop offset=".8380" stop-color="#404040"/><stop offset=".8719" stop-color="#4b4b4b"/><stop offset=".9090" stop-color="#545454"/><stop offset=".9491" stop-color="#5d5d5d"/><stop offset=".9985" stop-color="#656565"/></linearGradient>
<linearGradient id="h146" gradientUnits="userSpaceOnUse" x1="0" y1="4" x2="0" y2="328" gradientTransform="translate(355,0) skewY(-15.138) translate(-355,0)"><stop offset=".0015" stop-color="#fcfcfc"/><stop offset=".1003" stop-color="#f9f9f9"/><stop offset=".1590" stop-color="#f4f4f4"/><stop offset=".1806" stop-color="#f0f0f0"/><stop offset=".1960" stop-color="#ebebeb"/><stop offset=".2083" stop-color="#e5e5e5"/><stop offset=".2176" stop-color="#dddddd"/><stop offset=".2238" stop-color="#d6d6d6"/><stop offset=".2269" stop-color="#d1d1d1"/><stop offset=".2299" stop-color="#cbcbcb"/><stop offset=".2330" stop-color="#c3c3c3"/><stop offset=".2361" stop-color="#bababa"/><stop offset=".2392" stop-color="#adadad"/><stop offset=".2423" stop-color="#9d9d9d"/><stop offset=".2454" stop-color="#838383"/><stop offset=".2485" stop-color="#585858"/><stop offset=".2515" stop-color="#212121"/><stop offset=".2546" stop-color="#0a0a0a"/><stop offset=".2577" stop-color="#343434"/><stop offset=".2608" stop-color="#9c9c9c"/><stop offset=".2639" stop-color="#dcdcdc"/><stop offset=".2670" stop-color="#f1f1f1"/><stop offset=".2701" stop-color="#f7f7f7"/><stop offset=".2762" stop-color="#fbfbfb"/><stop offset=".2855" stop-color="#fdfdfd"/><stop offset=".3410" stop-color="#ffffff"/><stop offset=".4583" stop-color="#fefefe"/><stop offset=".5077" stop-color="#f8f8f8"/><stop offset=".5231" stop-color="#f4f4f4"/><stop offset=".5355" stop-color="#eeeeee"/><stop offset=".5448" stop-color="#e8e8e8"/><stop offset=".5571" stop-color="#dfdfdf"/><stop offset=".5694" stop-color="#d3d3d3"/><stop offset=".5787" stop-color="#c9c9c9"/><stop offset=".5972" stop-color="#afafaf"/><stop offset=".6219" stop-color="#888888"/><stop offset=".6713" stop-color="#3f3f3f"/><stop offset=".6836" stop-color="#303030"/><stop offset=".6991" stop-color="#1f1f1f"/><stop offset=".7176" stop-color="#0d0d0d"/><stop offset=".7299" stop-color="#020202"/><stop offset=".7330" stop-color="#020202"/><stop offset=".7608" stop-color="#181818"/><stop offset=".7855" stop-color="#282828"/><stop offset=".8102" stop-color="#343434"/><stop offset=".8380" stop-color="#404040"/><stop offset=".8719" stop-color="#4b4b4b"/><stop offset=".9090" stop-color="#555555"/><stop offset=".9491" stop-color="#5d5d5d"/><stop offset=".9985" stop-color="#656565"/></linearGradient>
<linearGradient id="h147" gradientUnits="userSpaceOnUse" x1="0" y1="4" x2="0" y2="328" gradientTransform="translate(357,0) skewY(-15.138) translate(-357,0)"><stop offset=".0015" stop-color="#fcfcfc"/><stop offset=".0972" stop-color="#f9f9f9"/><stop offset=".1559" stop-color="#f4f4f4"/><stop offset=".1775" stop-color="#f0f0f0"/><stop offset=".1929" stop-color="#ebebeb"/><stop offset=".2052" stop-color="#e5e5e5"/><stop offset=".2145" stop-color="#dedede"/><stop offset=".2207" stop-color="#d6d6d6"/><stop offset=".2238" stop-color="#d2d2d2"/><stop offset=".2299" stop-color="#c5c5c5"/><stop offset=".2330" stop-color="#bdbdbd"/><stop offset=".2361" stop-color="#b1b1b1"/><stop offset=".2392" stop-color="#a3a3a3"/><stop offset=".2423" stop-color="#8e8e8e"/><stop offset=".2454" stop-color="#6c6c6c"/><stop offset=".2485" stop-color="#383838"/><stop offset=".2515" stop-color="#0d0d0d"/><stop offset=".2546" stop-color="#151515"/><stop offset=".2577" stop-color="#6a6a6a"/><stop offset=".2608" stop-color="#c4c4c4"/><stop offset=".2639" stop-color="#eaeaea"/><stop offset=".2670" stop-color="#f4f4f4"/><stop offset=".2701" stop-color="#f8f8f8"/><stop offset=".2762" stop-color="#fbfbfb"/><stop offset=".2855" stop-color="#fdfdfd"/><stop offset=".3441" stop-color="#ffffff"/><stop offset=".4583" stop-color="#fefefe"/><stop offset=".5077" stop-color="#f8f8f8"/><stop offset=".5231" stop-color="#f4f4f4"/><stop offset=".5355" stop-color="#eeeeee"/><stop offset=".5448" stop-color="#e8e8e8"/><stop offset=".5571" stop-color="#dedede"/><stop offset=".5694" stop-color="#d3d3d3"/><stop offset=".5787" stop-color="#c8c8c8"/><stop offset=".5972" stop-color="#aeaeae"/><stop offset=".6219" stop-color="#878787"/><stop offset=".6435" stop-color="#676767"/><stop offset=".6713" stop-color="#3f3f3f"/><stop offset=".6836" stop-color="#303030"/><stop offset=".6991" stop-color="#1f1f1f"/><stop offset=".7207" stop-color="#090909"/><stop offset=".7299" stop-color="#010101"/><stop offset=".7330" stop-color="#020202"/><stop offset=".7639" stop-color="#1a1a1a"/><stop offset=".7855" stop-color="#282828"/><stop offset=".8102" stop-color="#353535"/><stop offset=".8380" stop-color="#404040"/><stop offset=".8719" stop-color="#4c4c4c"/><stop offset=".9090" stop-color="#555555"/><stop offset=".9491" stop-color="#5d5d5d"/><stop offset=".9985" stop-color="#656565"/></linearGradient>
<linearGradient id="h148" gradientUnits="userSpaceOnUse" x1="0" y1="4" x2="0" y2="328" gradientTransform="translate(359,0) skewY(-15.138) translate(-359,0)"><stop offset=".0015" stop-color="#fbfbfb"/><stop offset=".0941" stop-color="#f9f9f9"/><stop offset=".1528" stop-color="#f4f4f4"/><stop offset=".1744" stop-color="#f0f0f0"/><stop offset=".1898" stop-color="#ebebeb"/><stop offset=".2022" stop-color="#e5e5e5"/><stop offset=".2114" stop-color="#dedede"/><stop offset=".2207" stop-color="#d3d3d3"/><stop offset=".2269" stop-color="#c7c7c7"/><stop offset=".2299" stop-color="#bfbfbf"/><stop offset=".2330" stop-color="#b5b5b5"/><stop offset=".2361" stop-color="#a8a8a8"/><stop offset=".2392" stop-color="#969696"/><stop offset=".2423" stop-color="#7b7b7b"/><stop offset=".2454" stop-color="#4f4f4f"/><stop offset=".2485" stop-color="#1b1b1b"/><stop offset=".2515" stop-color="#090909"/><stop offset=".2546" stop-color="#393939"/><stop offset=".2577" stop-color="#9e9e9e"/><stop offset=".2608" stop-color="#dcdcdc"/><stop offset=".2639" stop-color="#f0f0f0"/><stop offset=".2670" stop-color="#f6f6f6"/><stop offset=".2731" stop-color="#fbfbfb"/><stop offset=".2824" stop-color="#fdfdfd"/><stop offset=".3318" stop-color="#ffffff"/><stop offset=".4552" stop-color="#fefefe"/><stop offset=".5046" stop-color="#f9f9f9"/><stop offset=".5231" stop-color="#f4f4f4"/><stop offset=".5355" stop-color="#eeeeee"/><stop offset=".5448" stop-color="#e8e8e8"/><stop offset=".5571" stop-color="#dedede"/><stop offset=".5694" stop-color="#d2d2d2"/><stop offset=".5787" stop-color="#c8c8c8"/><stop offset=".5972" stop-color="#aeaeae"/><stop offset=".6188" stop-color="#8b8b8b"/><stop offset=".6682" stop-color="#424242"/><stop offset=".6836" stop-color="#2f2f2f"/><stop offset=".6991" stop-color="#1e1e1e"/><stop offset=".7238" stop-color="#060606"/><stop offset=".7299" stop-color="#010101"/><stop offset=".7330" stop-color="#030303"/><stop offset=".7608" stop-color="#191919"/><stop offset=".7824" stop-color="#272727"/><stop offset=".8102" stop-color="#353535"/><stop offset=".8380" stop-color="#414141"/><stop offset=".8719" stop-color="#4c4c4c"/><stop offset=".9090" stop-color="#565656"/><stop offset=".9522" stop-color="#5e5e5e"/><stop offset=".9985" stop-color="#666666"/></linearGradient>
<linearGradient id="h149" gradientUnits="userSpaceOnUse" x1="0" y1="4" x2="0" y2="328" gradientTransform="translate(361,0) skewY(-15.138) translate(-361,0)"><stop offset=".0015" stop-color="#fbfbfb"/><stop offset=".0941" stop-color="#f8f8f8"/><stop offset=".1528" stop-color="#f3f3f3"/><stop offset=".1744" stop-color="#efefef"/><stop offset=".1898" stop-color="#e9e9e9"/><stop offset=".2022" stop-color="#e3e3e3"/><stop offset=".2114" stop-color="#dbdbdb"/><stop offset=".2176" stop-color="#d3d3d3"/><stop offset=".2207" stop-color="#cecece"/><stop offset=".2269" stop-color="#c1c1c1"/><stop offset=".2299" stop-color="#b8b8b8"/><stop offset=".2330" stop-color="#acacac"/><stop offset=".2361" stop-color="#9d9d9d"/><stop offset=".2392" stop-color="#878787"/><stop offset=".2423" stop-color="#636363"/><stop offset=".2454" stop-color="#303030"/><stop offset=".2485" stop-color="#0b0b0b"/><stop offset=".2515" stop-color="#171717"/><stop offset=".2577" stop-color="#c5c5c5"/><stop offset=".2608" stop-color="#e9e9e9"/><stop offset=".2639" stop-color="#f4f4f4"/><stop offset=".2670" stop-color="#f8f8f8"/><stop offset=".2731" stop-color="#fbfbfb"/><stop offset=".2824" stop-color="#fdfdfd"/><stop offset=".3410" stop-color="#ffffff"/><stop offset=".4583" stop-color="#fefefe"/><stop offset=".5077" stop-color="#f8f8f8"/><stop offset=".5231" stop-color="#f4f4f4"/><stop offset=".5355" stop-color="#ededed"/><stop offset=".5448" stop-color="#e8e8e8"/><stop offset=".5571" stop-color="#dedede"/><stop offset=".5694" stop-color="#d2d2d2"/><stop offset=".5787" stop-color="#c8c8c8"/><stop offset=".5941" stop-color="#b2b2b2"/><stop offset=".6188" stop-color="#8a8a8a"/><stop offset=".6682" stop-color="#414141"/><stop offset=".6836" stop-color="#2e2e2e"/><stop offset=".6991" stop-color="#1d1d1d"/><stop offset=".7238" stop-color="#050505"/><stop offset=".7269" stop-color="#020202"/><stop offset=".7299" stop-color="#010101"/><stop offset=".7577" stop-color="#171717"/><stop offset=".7793" stop-color="#262626"/><stop offset=".8071" stop-color="#353535"/><stop offset=".8349" stop-color="#404040"/><stop offset=".8688" stop-color="#4c4c4c"/><stop offset=".9059" stop-color="#555555"/><stop offset=".9491" stop-color="#5e5e5e"/><stop offset=".9985" stop-color="#666666"/></linearGradient>
<linearGradient id="h150" gradientUnits="userSpaceOnUse" x1="0" y1="4" x2="0" y2="328" gradientTransform="translate(363,0) skewY(-15.138) translate(-363,0)"><stop offset=".0015" stop-color="#fbfbfb"/><stop offset=".0941" stop-color="#f8f8f8"/><stop offset=".1497" stop-color="#f3f3f3"/><stop offset=".1713" stop-color="#eeeeee"/><stop offset=".1867" stop-color="#e9e9e9"/><stop offset=".1991" stop-color="#e3e3e3"/><stop offset=".2083" stop-color="#dbdbdb"/><stop offset=".2176" stop-color="#cfcfcf"/><stop offset=".2238" stop-color="#c3c3c3"/><stop offset=".2269" stop-color="#bbbbbb"/><stop offset=".2299" stop-color="#b0b0b0"/><stop offset=".2330" stop-color="#a2a2a2"/><stop offset=".2361" stop-color="#909090"/><stop offset=".2392" stop-color="#747474"/><stop offset=".2423" stop-color="#474747"/><stop offset=".2454" stop-color="#161616"/><stop offset=".2485" stop-color="#0a0a0a"/><stop offset=".2515" stop-color="#3d3d3d"/><stop offset=".2546" stop-color="#a0a0a0"/><stop offset=".2577" stop-color="#dcdcdc"/><stop offset=".2608" stop-color="#efefef"/><stop offset=".2639" stop-color="#f6f6f6"/><stop offset=".2701" stop-color="#fafafa"/><stop offset=".2824" stop-color="#fdfdfd"/><stop offset=".3441" stop-color="#ffffff"/><stop offset=".4583" stop-color="#fefefe"/><stop offset=".5077" stop-color="#f8f8f8"/><stop offset=".5231" stop-color="#f3f3f3"/><stop offset=".5355" stop-color="#ededed"/><stop offset=".5448" stop-color="#e8e8e8"/><stop offset=".5571" stop-color="#dedede"/><stop offset=".5694" stop-color="#d2d2d2"/><stop offset=".5787" stop-color="#c7c7c7"/><stop offset=".5941" stop-color="#b1b1b1"/><stop offset=".6188" stop-color="#8a8a8a"/><stop offset=".6682" stop-color="#404040"/><stop offset=".6806" stop-color="#313131"/><stop offset=".6960" stop-color="#202020"/><stop offset=".7145" stop-color="#0d0d0d"/><stop offset=".7269" stop-color="#020202"/><stop offset=".7299" stop-color="#020202"/><stop offset=".7577" stop-color="#181818"/><stop offset=".7824" stop-color="#282828"/><stop offset=".8102" stop-color="#363636"/><stop offset=".8380" stop-color="#424242"/><stop offset=".8719" stop-color="#4d4d4d"/><stop offset=".9090" stop-color="#565656"/><stop offset=".9522" stop-color="#5f5f5f"/><stop offset=".9985" stop-color="#666666"/></linearGradient>
<linearGradient id="h151" gradientUnits="userSpaceOnUse" x1="0" y1="4" x2="0" y2="328" gradientTransform="translate(365,0) skewY(-15.138) translate(-365,0)"><stop offset=".0015" stop-color="#fbfbfb"/><stop offset=".0910" stop-color="#f8f8f8"/><stop offset=".1466" stop-color="#f3f3f3"/><stop offset=".1682" stop-color="#eeeeee"/><stop offset=".1836" stop-color="#e9e9e9"/><stop offset=".1960" stop-color="#e3e3e3"/><stop offset=".2052" stop-color="#dcdcdc"/><stop offset=".2145" stop-color="#d0d0d0"/><stop offset=".2207" stop-color="#c5c5c5"/><stop offset=".2238" stop-color="#bdbdbd"/><stop offset=".2269" stop-color="#b3b3b3"/><stop offset=".2299" stop-color="#a7a7a7"/><stop offset=".2330" stop-color="#979797"/><stop offset=".2361" stop-color="#808080"/><stop offset=".2392" stop-color="#5b5b5b"/><stop offset=".2423" stop-color="#292929"/><stop offset=".2454" stop-color="#090909"/><stop offset=".2485" stop-color="#1a1a1a"/><stop offset=".2515" stop-color="#717171"/><stop offset=".2546" stop-color="#c5c5c5"/><stop offset=".2577" stop-color="#e8e8e8"/><stop offset=".2608" stop-color="#f3f3f3"/><stop offset=".2639" stop-color="#f7f7f7"/><stop offset=".2701" stop-color="#fbfbfb"/><stop offset=".2793" stop-color="#fdfdfd"/><stop offset=".3256" stop-color="#ffffff"/><stop offset=".4522" stop-color="#fefefe"/><stop offset=".5046" stop-color="#f9f9f9"/><stop offset=".5201" stop-color="#f5f5f5"/><stop offset=".5324" stop-color="#efefef"/><stop offset=".5448" stop-color="#e7e7e7"/><stop offset=".5540" stop-color="#e0e0e0"/><stop offset=".5664" stop-color="#d5d5d5"/><stop offset=".5756" stop-color="#cbcbcb"/><stop offset=".5818" stop-color="#c3c3c3"/><stop offset=".5941" stop-color="#b1b1b1"/><stop offset=".6188" stop-color="#898989"/><stop offset=".6682" stop-color="#404040"/><stop offset=".6806" stop-color="#303030"/><stop offset=".6960" stop-color="#1f1f1f"/><stop offset=".7176" stop-color="#090909"/><stop offset=".7269" stop-color="#010101"/><stop offset=".7299" stop-color="#020202"/><stop offset=".7546" stop-color="#161616"/><stop offset=".7793" stop-color="#272727"/><stop offset=".8071" stop-color="#363636"/><stop offset=".8349" stop-color="#414141"/><stop offset=".8688" stop-color="#4c4c4c"/><stop offset=".9059" stop-color="#565656"/><stop offset=".9491" stop-color="#5f5f5f"/><stop offset=".9985" stop-color="#666666"/></linearGradient>
<linearGradient id="h152" gradientUnits="userSpaceOnUse" x1="0" y1="4" x2="0" y2="328" gradientTransform="translate(367,0) skewY(-15.138) translate(-367,0)"><stop offset=".0015" stop-color="#fbfbfb"/><stop offset=".0880" stop-color="#f8f8f8"/><stop offset=".1435" stop-color="#f2f2f2"/><stop offset=".1620" stop-color="#efefef"/><stop offset=".1775" stop-color="#eaeaea"/><stop offset=".1898" stop-color="#e5e5e5"/><stop offset=".2022" stop-color="#dcdcdc"/><stop offset=".2114" stop-color="#d1d1d1"/><stop offset=".2176" stop-color="#c6c6c6"/><stop offset=".2207" stop-color="#bfbfbf"/><stop offset=".2238" stop-color="#b6b6b6"/><stop offset=".2269" stop-color="#ababab"/><stop offset=".2299" stop-color="#9d9d9d"/><stop offset=".2330" stop-color="#898989"/><stop offset=".2361" stop-color="#6c6c6c"/><stop offset=".2423" stop-color="#121212"/><stop offset=".2454" stop-color="#0a0a0a"/><stop offset=".2485" stop-color="#414141"/><stop offset=".2515" stop-color="#a2a2a2"/><stop offset=".2546" stop-color="#dbdbdb"/><stop offset=".2577" stop-color="#eeeeee"/><stop offset=".2608" stop-color="#f5f5f5"/><stop offset=".2670" stop-color="#fafafa"/><stop offset=".2793" stop-color="#fdfdfd"/><stop offset=".3287" stop-color="#ffffff"/><stop offset=".4522" stop-color="#fefefe"/><stop offset=".5046" stop-color="#f9f9f9"/><stop offset=".5201" stop-color="#f4f4f4"/><stop offset=".5324" stop-color="#efefef"/><stop offset=".5448" stop-color="#e7e7e7"/><stop offset=".5540" stop-color="#e0e0e0"/><stop offset=".5664" stop-color="#d4d4d4"/><stop offset=".5756" stop-color="#cacaca"/><stop offset=".5941" stop-color="#b0b0b0"/><stop offset=".6188" stop-color="#888888"/><stop offset=".6404" stop-color="#676767"/><stop offset=".6682" stop-color="#3f3f3f"/><stop offset=".6806" stop-color="#303030"/><stop offset=".6960" stop-color="#1e1e1e"/><stop offset=".7207" stop-color="#060606"/><stop offset=".7269" stop-color="#010101"/><stop offset=".7299" stop-color="#030303"/><stop offset=".7577" stop-color="#191919"/><stop offset=".7793" stop-color="#272727"/><stop offset=".8071" stop-color="#363636"/><stop offset=".8349" stop-color="#424242"/><stop offset=".8688" stop-color="#4d4d4d"/><stop offset=".9059" stop-color="#565656"/><stop offset=".9491" stop-color="#5f5f5f"/><stop offset=".9985" stop-color="#676767"/></linearGradient>
<linearGradient id="h153" gradientUnits="userSpaceOnUse" x1="0" y1="4" x2="0" y2="328" gradientTransform="translate(369,0) skewY(-15.138) translate(-369,0)"><stop offset=".0015" stop-color="#fbfbfb"/><stop offset=".0880" stop-color="#f7f7f7"/><stop offset=".1435" stop-color="#f2f2f2"/><stop offset=".1651" stop-color="#ededed"/><stop offset=".1806" stop-color="#e8e8e8"/><stop offset=".1929" stop-color="#e1e1e1"/><stop offset=".2022" stop-color="#d9d9d9"/><stop offset=".2114" stop-color="#cdcdcd"/><stop offset=".2176" stop-color="#c1c1c1"/><stop offset=".2207" stop-color="#b9b9b9"/><stop offset=".2238" stop-color="#afafaf"/><stop offset=".2269" stop-color="#a2a2a2"/><stop offset=".2299" stop-color="#919191"/><stop offset=".2330" stop-color="#797979"/><stop offset=".2361" stop-color="#535353"/><stop offset=".2392" stop-color="#232323"/><stop offset=".2423" stop-color="#080808"/><stop offset=".2454" stop-color="#1c1c1c"/><stop offset=".2485" stop-color="#757575"/><stop offset=".2515" stop-color="#c6c6c6"/><stop offset=".2546" stop-color="#e7e7e7"/><stop offset=".2577" stop-color="#f2f2f2"/><stop offset=".2608" stop-color="#f6f6f6"/><stop offset=".2670" stop-color="#fafafa"/><stop offset=".2793" stop-color="#fdfdfd"/><stop offset=".3349" stop-color="#ffffff"/><stop offset=".4552" stop-color="#fefefe"/><stop offset=".5046" stop-color="#f9f9f9"/><stop offset=".5201" stop-color="#f4f4f4"/><stop offset=".5324" stop-color="#efefef"/><stop offset=".5448" stop-color="#e7e7e7"/><stop offset=".5540" stop-color="#e0e0e0"/><stop offset=".5664" stop-color="#d4d4d4"/><stop offset=".5756" stop-color="#cacaca"/><stop offset=".5941" stop-color="#b0b0b0"/><stop offset=".6188" stop-color="#888888"/><stop offset=".6404" stop-color="#676767"/><stop offset=".6682" stop-color="#3e3e3e"/><stop offset=".6836" stop-color="#2b2b2b"/><stop offset=".7022" stop-color="#171717"/><stop offset=".7207" stop-color="#050505"/><stop offset=".7238" stop-color="#020202"/><stop offset=".7269" stop-color="#010101"/><stop offset=".7546" stop-color="#181818"/><stop offset=".7762" stop-color="#262626"/><stop offset=".8040" stop-color="#353535"/><stop offset=".8318" stop-color="#414141"/><stop offset=".8657" stop-color="#4c4c4c"/><stop offset=".9059" stop-color="#575757"/><stop offset=".9491" stop-color="#5f5f5f"/><stop offset=".9985" stop-color="#676767"/></linearGradient>
<linearGradient id="h154" gradientUnits="userSpaceOnUse" x1="0" y1="4" x2="0" y2="328" gradientTransform="translate(371,0) skewY(-15.138) translate(-371,0)"><stop offset=".0015" stop-color="#fafafa"/><stop offset=".0880" stop-color="#f7f7f7"/><stop offset=".1404" stop-color="#f1f1f1"/><stop offset=".1590" stop-color="#eeeeee"/><stop offset=".1744" stop-color="#e9e9e9"/><stop offset=".1867" stop-color="#e3e3e3"/><stop offset=".1991" stop-color="#d9d9d9"/><stop offset=".2083" stop-color="#cecece"/><stop offset=".2145" stop-color="#c3c3c3"/><stop offset=".2176" stop-color="#bbbbbb"/><stop offset=".2207" stop-color="#b2b2b2"/><stop offset=".2238" stop-color="#a6a6a6"/><stop offset=".2269" stop-color="#979797"/><stop offset=".2299" stop-color="#838383"/><stop offset=".2330" stop-color="#646464"/><stop offset=".2361" stop-color="#373737"/><stop offset=".2392" stop-color="#0f0f0f"/><stop offset=".2423" stop-color="#0b0b0b"/><stop offset=".2454" stop-color="#454545"/><stop offset=".2485" stop-color="#a4a4a4"/><stop offset=".2515" stop-color="#dbdbdb"/><stop offset=".2546" stop-color="#eeeeee"/><stop offset=".2577" stop-color="#f4f4f4"/><stop offset=".2639" stop-color="#f9f9f9"/><stop offset=".2762" stop-color="#fdfdfd"/><stop offset=".3256" stop-color="#ffffff"/><stop offset=".4522" stop-color="#fefefe"/><stop offset=".4707" stop-color="#fdfdfd"/><stop offset=".5046" stop-color="#f9f9f9"/><stop offset=".5201" stop-color="#f4f4f4"/><stop offset=".5324" stop-color="#efefef"/><stop offset=".5448" stop-color="#e7e7e7"/><stop offset=".5540" stop-color="#e0e0e0"/><stop offset=".5664" stop-color="#d4d4d4"/><stop offset=".5756" stop-color="#c9c9c9"/><stop offset=".5941" stop-color="#afafaf"/><stop offset=".6188" stop-color="#878787"/><stop offset=".6651" stop-color="#414141"/><stop offset=".6775" stop-color="#323232"/><stop offset=".6929" stop-color="#202020"/><stop offset=".7114" stop-color="#0d0d0d"/><stop offset=".7238" stop-color="#020202"/><stop offset=".7269" stop-color="#020202"/><stop offset=".7546" stop-color="#181818"/><stop offset=".7793" stop-color="#292929"/><stop offset=".8040" stop-color="#363636"/><stop offset=".8349" stop-color="#434343"/><stop offset=".8688" stop-color="#4e4e4e"/><stop offset=".9059" stop-color="#575757"/><stop offset=".9491" stop-color="#606060"/><stop offset=".9985" stop-color="#676767"/></linearGradient>
<linearGradient id="h155" gradientUnits="userSpaceOnUse" x1="0" y1="4" x2="0" y2="328" gradientTransform="translate(373,0) skewY(-15.138) translate(-373,0)"><stop offset=".0015" stop-color="#fafafa"/><stop offset=".0880" stop-color="#f7f7f7"/><stop offset=".1404" stop-color="#f1f1f1"/><stop offset=".1620" stop-color="#ececec"/><stop offset=".1775" stop-color="#e6e6e6"/><stop offset=".1898" stop-color="#dfdfdf"/><stop offset=".1991" stop-color="#d7d7d7"/><stop offset=".2083" stop-color="#cacaca"/><stop offset=".2145" stop-color="#bdbdbd"/><stop offset=".2176" stop-color="#b5b5b5"/><stop offset=".2207" stop-color="#aaaaaa"/><stop offset=".2238" stop-color="#9d9d9d"/><stop offset=".2269" stop-color="#8b8b8b"/><stop offset=".2299" stop-color="#727272"/><stop offset=".2330" stop-color="#4b4b4b"/><stop offset=".2361" stop-color="#1d1d1d"/><stop offset=".2392" stop-color="#070707"/><stop offset=".2423" stop-color="#1f1f1f"/><stop offset=".2454" stop-color="#787878"/><stop offset=".2485" stop-color="#c6c6c6"/><stop offset=".2515" stop-color="#e6e6e6"/><stop offset=".2546" stop-color="#f1f1f1"/><stop offset=".2577" stop-color="#f6f6f6"/><stop offset=".2639" stop-color="#fafafa"/><stop offset=".2762" stop-color="#fdfdfd"/><stop offset=".3256" stop-color="#ffffff"/><stop offset=".4522" stop-color="#fefefe"/><stop offset=".4707" stop-color="#fdfdfd"/><stop offset=".5046" stop-color="#f9f9f9"/><stop offset=".5201" stop-color="#f4f4f4"/><stop offset=".5324" stop-color="#efefef"/><stop offset=".5448" stop-color="#e7e7e7"/><stop offset=".5540" stop-color="#dfdfdf"/><stop offset=".5664" stop-color="#d4d4d4"/><stop offset=".5756" stop-color="#c9c9c9"/><stop offset=".5941" stop-color="#aeaeae"/><stop offset=".6188" stop-color="#868686"/><stop offset=".6651" stop-color="#404040"/><stop offset=".6775" stop-color="#313131"/><stop offset=".6929" stop-color="#1f1f1f"/><stop offset=".7145" stop-color="#090909"/><stop offset=".7238" stop-color="#010101"/><stop offset=".7269" stop-color="#020202"/><stop offset=".7546" stop-color="#191919"/><stop offset=".7762" stop-color="#282828"/><stop offset=".8040" stop-color="#363636"/><stop offset=".8318" stop-color="#424242"/><stop offset=".8657" stop-color="#4d4d4d"/><stop offset=".9059" stop-color="#575757"/><stop offset=".9491" stop-color="#606060"/><stop offset=".9985" stop-color="#686868"/></linearGradient>
<linearGradient id="h156" gradientUnits="userSpaceOnUse" x1="0" y1="4" x2="0" y2="328" gradientTransform="translate(375,0) skewY(-15.138) translate(-375,0)"><stop offset=".0015" stop-color="#fafafa"/><stop offset=".0849" stop-color="#f6f6f6"/><stop offset=".1373" stop-color="#f1f1f1"/><stop offset=".1559" stop-color="#ededed"/><stop offset=".1713" stop-color="#e7e7e7"/><stop offset=".1836" stop-color="#e1e1e1"/><stop offset=".1960" stop-color="#d7d7d7"/><stop offset=".2052" stop-color="#cbcbcb"/><stop offset=".2114" stop-color="#bfbfbf"/><stop offset=".2145" stop-color="#b7b7b7"/><stop offset=".2176" stop-color="#adadad"/><stop offset=".2207" stop-color="#a1a1a1"/><stop offset=".2238" stop-color="#929292"/><stop offset=".2269" stop-color="#7d7d7d"/><stop offset=".2299" stop-color="#5d5d5d"/><stop offset=".2330" stop-color="#303030"/><stop offset=".2361" stop-color="#0c0c0c"/><stop offset=".2392" stop-color="#0c0c0c"/><stop offset=".2423" stop-color="#494949"/><stop offset=".2454" stop-color="#a6a6a6"/><stop offset=".2485" stop-color="#dadada"/><stop offset=".2515" stop-color="#ededed"/><stop offset=".2546" stop-color="#f3f3f3"/><stop offset=".2577" stop-color="#f7f7f7"/><stop offset=".2639" stop-color="#fafafa"/><stop offset=".2762" stop-color="#fdfdfd"/><stop offset=".3318" stop-color="#ffffff"/><stop offset=".4552" stop-color="#fefefe"/><stop offset=".5046" stop-color="#f9f9f9"/><stop offset=".5201" stop-color="#f4f4f4"/><stop offset=".5324" stop-color="#eeeeee"/><stop offset=".5417" stop-color="#e9e9e9"/><stop offset=".5540" stop-color="#dfdfdf"/><stop offset=".5664" stop-color="#d3d3d3"/><stop offset=".5756" stop-color="#c9c9c9"/><stop offset=".5910" stop-color="#b3b3b3"/><stop offset=".6188" stop-color="#868686"/><stop offset=".6651" stop-color="#404040"/><stop offset=".6775" stop-color="#303030"/><stop offset=".6929" stop-color="#1f1f1f"/><stop offset=".7176" stop-color="#060606"/><stop offset=".7238" stop-color="#010101"/><stop offset=".7546" stop-color="#1a1a1a"/><stop offset=".7762" stop-color="#282828"/><stop offset=".8009" stop-color="#353535"/><stop offset=".8318" stop-color="#424242"/><stop offset=".8657" stop-color="#4e4e4e"/><stop offset=".9059" stop-color="#585858"/><stop offset=".9491" stop-color="#606060"/><stop offset=".9985" stop-color="#686868"/></linearGradient>
<linearGradient id="h157" gradientUnits="userSpaceOnUse" x1="0" y1="4" x2="0" y2="328" gradientTransform="translate(377,0) skewY(-15.138) translate(-377,0)"><stop offset=".0015" stop-color="#fafafa"/><stop offset=".0818" stop-color="#f6f6f6"/><stop offset=".1343" stop-color="#f0f0f0"/><stop offset=".1528" stop-color="#ececec"/><stop offset=".1682" stop-color="#e7e7e7"/><stop offset=".1806" stop-color="#e1e1e1"/><stop offset=".1929" stop-color="#d7d7d7"/><stop offset=".2022" stop-color="#cccccc"/><stop offset=".2083" stop-color="#c0c0c0"/><stop offset=".2114" stop-color="#b9b9b9"/><stop offset=".2145" stop-color="#b0b0b0"/><stop offset=".2176" stop-color="#a5a5a5"/><stop offset=".2207" stop-color="#979797"/><stop offset=".2238" stop-color="#858585"/><stop offset=".2269" stop-color="#6b6b6b"/><stop offset=".2299" stop-color="#444444"/><stop offset=".2330" stop-color="#181818"/><stop offset=".2361" stop-color="#060606"/><stop offset=".2392" stop-color="#222222"/><stop offset=".2423" stop-color="#7b7b7b"/><stop offset=".2454" stop-color="#c6c6c6"/><stop offset=".2485" stop-color="#e5e5e5"/><stop offset=".2515" stop-color="#f0f0f0"/><stop offset=".2546" stop-color="#f5f5f5"/><stop offset=".2608" stop-color="#f9f9f9"/><stop offset=".2731" stop-color="#fdfdfd"/><stop offset=".3225" stop-color="#ffffff"/><stop offset=".4522" stop-color="#fefefe"/><stop offset=".4707" stop-color="#fdfdfd"/><stop offset=".5046" stop-color="#f9f9f9"/><stop offset=".5201" stop-color="#f4f4f4"/><stop offset=".5324" stop-color="#eeeeee"/><stop offset=".5417" stop-color="#e9e9e9"/><stop offset=".5540" stop-color="#dfdfdf"/><stop offset=".5664" stop-color="#d3d3d3"/><stop offset=".5756" stop-color="#c8c8c8"/><stop offset=".5910" stop-color="#b2b2b2"/><stop offset=".6157" stop-color="#8a8a8a"/><stop offset=".6404" stop-color="#636363"/><stop offset=".6651" stop-color="#3f3f3f"/><stop offset=".6806" stop-color="#2c2c2c"/><stop offset=".6991" stop-color="#171717"/><stop offset=".7176" stop-color="#050505"/><stop offset=".7207" stop-color="#020202"/><stop offset=".7238" stop-color="#010101"/><stop offset=".7515" stop-color="#181818"/><stop offset=".7762" stop-color="#292929"/><stop offset=".8009" stop-color="#363636"/><stop offset=".8318" stop-color="#434343"/><stop offset=".8657" stop-color="#4e4e4e"/><stop offset=".9059" stop-color="#585858"/><stop offset=".9522" stop-color="#616161"/><stop offset=".9985" stop-color="#686868"/></linearGradient>
<linearGradient id="cb" x1="0" y1="0" x2="0" y2="1"><stop offset="0.000" stop-color="#f9f9f9"/><stop offset="0.050" stop-color="#f8f8f8"/><stop offset="0.100" stop-color="#f6f6f6"/><stop offset="0.150" stop-color="#f2f2f2"/><stop offset="0.200" stop-color="#ededed"/><stop offset="0.250" stop-color="#e7e7e7"/><stop offset="0.300" stop-color="#dfdfdf"/><stop offset="0.350" stop-color="#d6d6d6"/><stop offset="0.400" stop-color="#cccccc"/><stop offset="0.450" stop-color="#c1c1c1"/><stop offset="0.500" stop-color="#b4b4b4"/><stop offset="0.550" stop-color="#a7a7a7"/><stop offset="0.600" stop-color="#989898"/><stop offset="0.650" stop-color="#898989"/><stop offset="0.700" stop-color="#797979"/><stop offset="0.750" stop-color="#696969"/><stop offset="0.800" stop-color="#575757"/><stop offset="0.850" stop-color="#464646"/><stop offset="0.900" stop-color="#343434"/><stop offset="0.950" stop-color="#222222"/><stop offset="1.000" stop-color="#0f0f0f"/></linearGradient>
<clipPath id="cpa"><rect x="62.5" y="5.5" width="314.9" height="320.9"/></clipPath>
<clipPath id="cpb"><rect x="504.6" y="5.5" width="179.8" height="320.9"/></clipPath>
</defs>
<rect width="685" height="367" fill="#fff"/>
<g clip-path="url(#cpa)"><g shape-rendering="crispEdges"><rect x="62" y="4" width="2.6" height="324" fill="url(#h0)"/>
<rect x="64" y="4" width="2.6" height="324" fill="url(#h1)"/>
<rect x="66" y="4" width="2.6" height="324" fill="url(#h2)"/>
<rect x="68" y="4" width="2.6" height="324" fill="url(#h3)"/>
<rect x="70" y="4" width="2.6" height="324" fill="url(#h4)"/>
<rect x="72" y="4" width="2.6" height="324" fill="url(#h5)"/>
<rect x="74" y="4" width="2.6" height="324" fill="url(#h6)"/>
<rect x="76" y="4" width="2.6" height="324" fill="url(#h7)"/>
<rect x="78" y="4" width="2.6" height="324" fill="url(#h8)"/>
<rect x="80" y="4" width="2.6" height="324" fill="url(#h9)"/>
<rect x="82" y="4" width="2.6" height="324" fill="url(#h10)"/>
<rect x="84" y="4" width="2.6" height="324" fill="url(#h11)"/>
<rect x="86" y="4" width="2.6" height="324" fill="url(#h12)"/>
<rect x="88" y="4" width="2.6" height="324" fill="url(#h13)"/>
<rect x="90" y="4" width="2.6" height="324" fill="url(#h14)"/>
<rect x="92" y="4" width="2.6" height="324" fill="url(#h15)"/>
<rect x="94" y="4" width="2.6" height="324" fill="url(#h16)"/>
<rect x="96" y="4" width="2.6" height="324" fill="url(#h17)"/>
<rect x="98" y="4" width="2.6" height="324" fill="url(#h18)"/>
<rect x="100" y="4" width="2.6" height="324" fill="url(#h19)"/>
<rect x="102" y="4" width="2.6" height="324" fill="url(#h20)"/>
<rect x="104" y="4" width="2.6" height="324" fill="url(#h21)"/>
<rect x="106" y="4" width="2.6" height="324" fill="url(#h22)"/>
<rect x="108" y="4" width="2.6" height="324" fill="url(#h23)"/>
<rect x="110" y="4" width="2.6" height="324" fill="url(#h24)"/>
<rect x="112" y="4" width="2.6" height="324" fill="url(#h25)"/>
<rect x="114" y="4" width="2.6" height="324" fill="url(#h26)"/>
<rect x="116" y="4" width="2.6" height="324" fill="url(#h27)"/>
<rect x="118" y="4" width="2.6" height="324" fill="url(#h28)"/>
<rect x="120" y="4" width="2.6" height="324" fill="url(#h29)"/>
<rect x="122" y="4" width="2.6" height="324" fill="url(#h30)"/>
<rect x="124" y="4" width="2.6" height="324" fill="url(#h31)"/>
<rect x="126" y="4" width="2.6" height="324" fill="url(#h32)"/>
<rect x="128" y="4" width="2.6" height="324" fill="url(#h33)"/>
<rect x="130" y="4" width="2.6" height="324" fill="url(#h34)"/>
<rect x="132" y="4" width="2.6" height="324" fill="url(#h35)"/>
<rect x="134" y="4" width="2.6" height="324" fill="url(#h36)"/>
<rect x="136" y="4" width="2.6" height="324" fill="url(#h37)"/>
<rect x="138" y="4" width="2.6" height="324" fill="url(#h38)"/>
<rect x="140" y="4" width="2.6" height="324" fill="url(#h39)"/>
<rect x="142" y="4" width="2.6" height="324" fill="url(#h40)"/>
<rect x="144" y="4" width="2.6" height="324" fill="url(#h41)"/>
<rect x="146" y="4" width="2.6" height="324" fill="url(#h42)"/>
<rect x="148" y="4" width="2.6" height="324" fill="url(#h43)"/>
<rect x="150" y="4" width="2.6" height="324" fill="url(#h44)"/>
<rect x="152" y="4" width="2.6" height="324" fill="url(#h45)"/>
<rect x="154" y="4" width="2.6" height="324" fill="url(#h46)"/>
<rect x="156" y="4" width="2.6" height="324" fill="url(#h47)"/>
<rect x="158" y="4" width="2.6" height="324" fill="url(#h48)"/>
<rect x="160" y="4" width="2.6" height="324" fill="url(#h49)"/>
<rect x="162" y="4" width="2.6" height="324" fill="url(#h50)"/>
<rect x="164" y="4" width="2.6" height="324" fill="url(#h51)"/>
<rect x="166" y="4" width="2.6" height="324" fill="url(#h52)"/>
<rect x="168" y="4" width="2.6" height="324" fill="url(#h53)"/>
<rect x="170" y="4" width="2.6" height="324" fill="url(#h54)"/>
<rect x="172" y="4" width="2.6" height="324" fill="url(#h55)"/>
<rect x="174" y="4" width="2.6" height="324" fill="url(#h56)"/>
<rect x="176" y="4" width="2.6" height="324" fill="url(#h57)"/>
<rect x="178" y="4" width="2.6" height="324" fill="url(#h58)"/>
<rect x="180" y="4" width="2.6" height="324" fill="url(#h59)"/>
<rect x="182" y="4" width="2.6" height="324" fill="url(#h60)"/>
<rect x="184" y="4" width="2.6" height="324" fill="url(#h61)"/>
<rect x="186" y="4" width="2.6" height="324" fill="url(#h62)"/>
<rect x="188" y="4" width="2.6" height="324" fill="url(#h63)"/>
<rect x="190" y="4" width="2.6" height="324" fill="url(#h64)"/>
<rect x="192" y="4" width="2.6" height="324" fill="url(#h65)"/>
<rect x="194" y="4" width="2.6" height="324" fill="url(#h66)"/>
<rect x="196" y="4" width="2.6" height="324" fill="url(#h67)"/>
<rect x="198" y="4" width="2.6" height="324" fill="url(#h68)"/>
<rect x="200" y="4" width="2.6" height="324" fill="url(#h69)"/>
<rect x="202" y="4" width="2.6" height="324" fill="url(#h70)"/>
<rect x="204" y="4" width="2.6" height="324" fill="url(#h71)"/>
<rect x="206" y="4" width="2.6" height="324" fill="url(#h72)"/>
<rect x="208" y="4" width="2.6" height="324" fill="url(#h73)"/>
<rect x="210" y="4" width="2.6" height="324" fill="url(#h74)"/>
<rect x="212" y="4" width="2.6" height="324" fill="url(#h75)"/>
<rect x="214" y="4" width="2.6" height="324" fill="url(#h76)"/>
<rect x="216" y="4" width="2.6" height="324" fill="url(#h77)"/>
<rect x="218" y="4" width="2.6" height="324" fill="url(#h78)"/>
<rect x="220" y="4" width="2.6" height="324" fill="url(#h79)"/>
<rect x="222" y="4" width="2.6" height="324" fill="url(#h80)"/>
<rect x="224" y="4" width="2.6" height="324" fill="url(#h81)"/>
<rect x="226" y="4" width="2.6" height="324" fill="url(#h82)"/>
<rect x="228" y="4" width="2.6" height="324" fill="url(#h83)"/>
<rect x="230" y="4" width="2.6" height="324" fill="url(#h84)"/>
<rect x="232" y="4" width="2.6" height="324" fill="url(#h85)"/>
<rect x="234" y="4" width="2.6" height="324" fill="url(#h86)"/>
<rect x="236" y="4" width="2.6" height="324" fill="url(#h87)"/>
<rect x="238" y="4" width="2.6" height="324" fill="url(#h88)"/>
<rect x="240" y="4" width="2.6" height="324" fill="url(#h89)"/>
<rect x="242" y="4" width="2.6" height="324" fill="url(#h90)"/>
<rect x="244" y="4" width="2.6" height="324" fill="url(#h91)"/>
<rect x="246" y="4" width="2.6" height="324" fill="url(#h92)"/>
<rect x="248" y="4" width="2.6" height="324" fill="url(#h93)"/>
<rect x="250" y="4" width="2.6" height="324" fill="url(#h94)"/>
<rect x="252" y="4" width="2.6" height="324" fill="url(#h95)"/>
<rect x="254" y="4" width="2.6" height="324" fill="url(#h96)"/>
<rect x="256" y="4" width="2.6" height="324" fill="url(#h97)"/>
<rect x="258" y="4" width="2.6" height="324" fill="url(#h98)"/>
<rect x="260" y="4" width="2.6" height="324" fill="url(#h99)"/>
<rect x="262" y="4" width="2.6" height="324" fill="url(#h100)"/>
<rect x="264" y="4" width="2.6" height="324" fill="url(#h101)"/>
<rect x="266" y="4" width="2.6" height="324" fill="url(#h102)"/>
<rect x="268" y="4" width="2.6" height="324" fill="url(#h103)"/>
<rect x="270" y="4" width="2.6" height="324" fill="url(#h104)"/>
<rect x="272" y="4" width="2.6" height="324" fill="url(#h105)"/>
<rect x="274" y="4" width="2.6" height="324" fill="url(#h106)"/>
<rect x="276" y="4" width="2.6" height="324" fill="url(#h107)"/>
<rect x="278" y="4" width="2.6" height="324" fill="url(#h108)"/>
<rect x="280" y="4" width="2.6" height="324" fill="url(#h109)"/>
<rect x="282" y="4" width="2.6" height="324" fill="url(#h110)"/>
<rect x="284" y="4" width="2.6" height="324" fill="url(#h111)"/>
<rect x="286" y="4" width="2.6" height="324" fill="url(#h112)"/>
<rect x="288" y="4" width="2.6" height="324" fill="url(#h113)"/>
<rect x="290" y="4" width="2.6" height="324" fill="url(#h114)"/>
<rect x="292" y="4" width="2.6" height="324" fill="url(#h115)"/>
<rect x="294" y="4" width="2.6" height="324" fill="url(#h116)"/>
<rect x="296" y="4" width="2.6" height="324" fill="url(#h117)"/>
<rect x="298" y="4" width="2.6" height="324" fill="url(#h118)"/>
<rect x="300" y="4" width="2.6" height="324" fill="url(#h119)"/>
<rect x="302" y="4" width="2.6" height="324" fill="url(#h120)"/>
<rect x="304" y="4" width="2.6" height="324" fill="url(#h121)"/>
<rect x="306" y="4" width="2.6" height="324" fill="url(#h122)"/>
<rect x="308" y="4" width="2.6" height="324" fill="url(#h123)"/>
<rect x="310" y="4" width="2.6" height="324" fill="url(#h124)"/>
<rect x="312" y="4" width="2.6" height="324" fill="url(#h125)"/>
<rect x="314" y="4" width="2.6" height="324" fill="url(#h126)"/>
<rect x="316" y="4" width="2.6" height="324" fill="url(#h127)"/>
<rect x="318" y="4" width="2.6" height="324" fill="url(#h128)"/>
<rect x="320" y="4" width="2.6" height="324" fill="url(#h129)"/>
<rect x="322" y="4" width="2.6" height="324" fill="url(#h130)"/>
<rect x="324" y="4" width="2.6" height="324" fill="url(#h131)"/>
<rect x="326" y="4" width="2.6" height="324" fill="url(#h132)"/>
<rect x="328" y="4" width="2.6" height="324" fill="url(#h133)"/>
<rect x="330" y="4" width="2.6" height="324" fill="url(#h134)"/>
<rect x="332" y="4" width="2.6" height="324" fill="url(#h135)"/>
<rect x="334" y="4" width="2.6" height="324" fill="url(#h136)"/>
<rect x="336" y="4" width="2.6" height="324" fill="url(#h137)"/>
<rect x="338" y="4" width="2.6" height="324" fill="url(#h138)"/>
<rect x="340" y="4" width="2.6" height="324" fill="url(#h139)"/>
<rect x="342" y="4" width="2.6" height="324" fill="url(#h140)"/>
<rect x="344" y="4" width="2.6" height="324" fill="url(#h141)"/>
<rect x="346" y="4" width="2.6" height="324" fill="url(#h142)"/>
<rect x="348" y="4" width="2.6" height="324" fill="url(#h143)"/>
<rect x="350" y="4" width="2.6" height="324" fill="url(#h144)"/>
<rect x="352" y="4" width="2.6" height="324" fill="url(#h145)"/>
<rect x="354" y="4" width="2.6" height="324" fill="url(#h146)"/>
<rect x="356" y="4" width="2.6" height="324" fill="url(#h147)"/>
<rect x="358" y="4" width="2.6" height="324" fill="url(#h148)"/>
<rect x="360" y="4" width="2.6" height="324" fill="url(#h149)"/>
<rect x="362" y="4" width="2.6" height="324" fill="url(#h150)"/>
<rect x="364" y="4" width="2.6" height="324" fill="url(#h151)"/>
<rect x="366" y="4" width="2.6" height="324" fill="url(#h152)"/>
<rect x="368" y="4" width="2.6" height="324" fill="url(#h153)"/>
<rect x="370" y="4" width="2.6" height="324" fill="url(#h154)"/>
<rect x="372" y="4" width="2.6" height="324" fill="url(#h155)"/>
<rect x="374" y="4" width="2.6" height="324" fill="url(#h156)"/>
<rect x="376" y="4" width="2" height="324" fill="url(#h157)"/></g></g>
<line x1="148.3" y1="5.5" x2="148.3" y2="326.4" stroke="#EDB120" stroke-width="1.1" stroke-dasharray="3.3 2.31" stroke-dashoffset="1.4"/>
<line x1="217.5" y1="5.5" x2="217.5" y2="326.4" stroke="#FF0000" stroke-width="1.1" stroke-dasharray="3.3 2.31" stroke-dashoffset="1.4"/>
<line x1="290.6" y1="5.5" x2="290.6" y2="326.4" stroke="#7E2F8E" stroke-width="1.1" stroke-dasharray="3.3 2.31" stroke-dashoffset="1.4"/>
<rect x="62.5" y="5.5" width="314.9" height="320.9" fill="none" stroke="#262626" stroke-width="1"/>
<path d="M76.7 326.4v-3.2 M76.7 5.5v3.2" stroke="#262626" stroke-width="1" fill="none"/>
<path d="M148.2 326.4v-3.2 M148.2 5.5v3.2" stroke="#262626" stroke-width="1" fill="none"/>
<path d="M219.7 326.4v-3.2 M219.7 5.5v3.2" stroke="#262626" stroke-width="1" fill="none"/>
<path d="M291.2 326.4v-3.2 M291.2 5.5v3.2" stroke="#262626" stroke-width="1" fill="none"/>
<path d="M362.7 326.4v-3.2 M362.7 5.5v3.2" stroke="#262626" stroke-width="1" fill="none"/>
<path d="M62.5 5.5h3.2 M377.4 5.5h-3.2" stroke="#262626" stroke-width="1" fill="none"/>
<path d="M62.5 85.7h3.2 M377.4 85.7h-3.2" stroke="#262626" stroke-width="1" fill="none"/>
<path d="M62.5 165.9h3.2 M377.4 165.9h-3.2" stroke="#262626" stroke-width="1" fill="none"/>
<path d="M62.5 246.1h3.2 M377.4 246.1h-3.2" stroke="#262626" stroke-width="1" fill="none"/>
<path d="M62.5 326.3h3.2 M377.4 326.3h-3.2" stroke="#262626" stroke-width="1" fill="none"/>
<text transform="translate(76.70,345.80) scale(1,1.035)" font-size="14.6" text-anchor="middle">0.9</text>
<text transform="translate(148.20,345.80) scale(1,1.035)" font-size="14.6" text-anchor="middle">0.95</text>
<text transform="translate(219.70,345.80) scale(1,1.035)" font-size="14.6" text-anchor="middle">1</text>
<text transform="translate(291.20,345.80) scale(1,1.035)" font-size="14.6" text-anchor="middle">1.05</text>
<text transform="translate(362.70,345.80) scale(1,1.035)" font-size="14.6" text-anchor="middle">1.1</text>
<text transform="translate(56.60,11.00) scale(1,1.035)" font-size="14.6" text-anchor="end">0.91</text>
<text transform="translate(56.60,91.20) scale(1,1.035)" font-size="14.6" text-anchor="end">0.88</text>
<text transform="translate(56.60,171.40) scale(1,1.035)" font-size="14.6" text-anchor="end">0.85</text>
<text transform="translate(56.60,251.60) scale(1,1.035)" font-size="14.6" text-anchor="end">0.82</text>
<text transform="translate(56.60,331.80) scale(1,1.035)" font-size="14.6" text-anchor="end">0.79</text>
<text transform="translate(225.00,360.90) scale(1,1.035)" font-size="15" text-anchor="middle" letter-spacing="0.9"><tspan font-style="italic">K</tspan><tspan dy="3.3" font-size="10.50">3</tspan><tspan dy="-3.3">/</tspan><tspan font-style="italic">K</tspan><tspan dy="3.3" font-size="10.50">1</tspan></text>
<text transform="translate(21.30,164.50) rotate(-90) scale(1,1.035)" font-size="15" text-anchor="middle">Normalized frequency <tspan font-style="italic">ω</tspan>/<tspan font-style="italic">ω</tspan><tspan dy="3.3" font-size="10.50">0</tspan></text>
<text transform="translate(142.70,16.20) rotate(-90) scale(1,1.035)" font-size="15" text-anchor="end"><tspan font-style="italic">K</tspan><tspan dy="3.3" font-size="10.50">3</tspan><tspan dy="-3.3">/</tspan><tspan font-style="italic">K</tspan><tspan dy="3.3" font-size="10.50">1</tspan><tspan dy="-3.3"> = 0.95</tspan></text>
<text transform="translate(211.60,16.20) rotate(-90) scale(1,1.035)" font-size="15" text-anchor="end"><tspan font-style="italic">K</tspan><tspan dy="3.3" font-size="10.50">3</tspan><tspan dy="-3.3">/</tspan><tspan font-style="italic">K</tspan><tspan dy="3.3" font-size="10.50">1</tspan><tspan dy="-3.3"> = 1.0</tspan></text>
<text transform="translate(285.60,16.20) rotate(-90) scale(1,1.035)" font-size="15" text-anchor="end"><tspan font-style="italic">K</tspan><tspan dy="3.3" font-size="10.50">3</tspan><tspan dy="-3.3">/</tspan><tspan font-style="italic">K</tspan><tspan dy="3.3" font-size="10.50">1</tspan><tspan dy="-3.3"> = 1.05</tspan></text>
<text transform="translate(238.00,171.70) scale(1,1.035)" font-size="15.2" text-anchor="start">BIC</text>
<path d="M239.5 153L227 147.3" stroke="#FF0000" stroke-width="1.1" fill="none"/>
<path d="M218.8 143.7L229.7 143L225.2 152Z" fill="#FF0000"/>
<text x="-0.9" y="15.9" font-size="19.1" style="fill:#111;stroke:none">(<tspan font-weight="bold">a</tspan>)</text>
<text x="443.9" y="15.9" font-size="19.1" style="fill:#111;stroke:none">(<tspan font-weight="bold">b</tspan>)</text>
<rect x="388.5" y="4.4" width="14.4" height="321.6" fill="url(#cb)" stroke="#8a8a8a" stroke-width="0.8"/>
<line x1="388.5" x2="402.9" y1="69.3" y2="69.3" stroke="#3c3c3c" stroke-width="0.85"/>
<line x1="388.5" x2="402.9" y1="133.6" y2="133.6" stroke="#3c3c3c" stroke-width="0.85"/>
<line x1="388.5" x2="402.9" y1="198.0" y2="198.0" stroke="#3c3c3c" stroke-width="0.85"/>
<line x1="388.5" x2="402.9" y1="262.3" y2="262.3" stroke="#3c3c3c" stroke-width="0.85"/>
<text transform="translate(407.80,12.10) scale(1,1.035)" font-size="14.6" text-anchor="start">1</text>
<text transform="translate(407.80,76.42) scale(1,1.035)" font-size="14.6" text-anchor="start">0.8</text>
<text transform="translate(407.80,140.74) scale(1,1.035)" font-size="14.6" text-anchor="start">0.6</text>
<text transform="translate(407.80,205.06) scale(1,1.035)" font-size="14.6" text-anchor="start">0.4</text>
<text transform="translate(407.80,269.38) scale(1,1.035)" font-size="14.6" text-anchor="start">0.2</text>
<text transform="translate(407.80,332.70) scale(1,1.035)" font-size="14.6" text-anchor="start">0</text>
<text transform="translate(414.40,167.60) scale(1,1.035)" font-size="15" text-anchor="start">|<tspan dx="1.8" font-style="italic">T</tspan><tspan dx="1.8">|</tspan></text>
<g clip-path="url(#cpb)">
<polyline points="661.78,0.00 662.97,6.01 663.65,9.02 664.59,12.62 666.96,21.24 668.00,25.44 669.75,34.06 671.22,41.87 672.17,47.48 672.89,52.69 674.09,63.71 674.76,70.92 675.08,75.73 675.26,80.13 675.49,99.97 675.47,126.41 675.40,137.94 675.24,143.13 674.93,146.38 674.71,147.51 674.42,148.41 674.05,149.10 673.57,149.68 672.64,150.36 671.38,150.89 669.70,151.31 667.52,151.64 664.69,151.91 660.88,152.14 650.31,152.48 635.63,152.71 613.16,152.90 516.60,153.30 504.91,153.40 564.94,153.54 602.35,153.74 627.32,154.05 636.26,154.26 643.28,154.51 649.18,154.83 653.86,155.22 657.60,155.70 660.58,156.30 661.82,156.65 662.90,157.04 663.84,157.47 664.66,157.95 665.39,158.50 666.00,159.10 666.51,159.76 666.90,160.48 667.24,161.50 667.37,162.57 667.28,163.62 666.96,164.72 666.35,165.99 665.47,167.30 664.68,168.20 663.58,169.16 662.02,170.30 659.68,171.80 658.09,172.70 656.10,173.70 653.25,175.00 650.86,176.00 647.70,177.20 644.28,178.41 640.23,179.71 635.73,181.01 623.13,184.11 617.46,185.41 596.16,190.01 573.16,195.32 551.90,200.32 547.17,201.52 542.07,202.92 536.57,204.52 526.62,207.62 520.05,209.82 513.73,212.03 507.44,214.33 505.08,215.23 504.97,215.33 509.73,217.43 514.46,219.63 518.50,221.63 522.48,223.73 526.19,225.83 529.79,228.04 533.14,230.24 536.23,232.44 539.35,234.84 542.12,237.14 545.22,239.94 547.96,242.65 550.58,245.45 552.99,248.25 555.53,251.45 557.79,254.55 560.07,257.95 562.17,261.36 564.28,265.06 566.16,268.66 568.18,272.86 570.08,277.17 571.83,281.47 573.52,285.97 575.17,290.78 576.79,295.88 578.19,300.68 579.57,305.88 581.01,311.69 582.34,317.49 583.62,323.60 584.86,330.00" fill="none" stroke="#EDB120" stroke-width="1.15" stroke-linejoin="round"/>
<polyline points="662.47,0.00 663.65,6.01 664.33,9.02 665.27,12.62 667.65,21.24 668.68,25.44 670.51,34.46 671.85,41.67 672.83,47.88 673.52,53.49 674.72,66.11 675.30,74.52 675.45,78.33 675.50,81.94 675.50,140.67 675.38,150.98 675.26,152.29 675.04,153.78 674.57,156.13 674.27,157.19 672.18,162.98 671.49,164.37 670.64,165.67 669.87,166.64 668.96,167.62 668.01,168.54 667.16,169.23 664.73,170.80 661.05,172.80 657.49,174.40 652.90,176.20 647.89,177.90 642.62,179.51 635.80,181.31 623.30,184.11 618.06,185.21 596.52,189.51 574.02,194.32 552.49,199.02 548.20,200.02 543.05,201.32 537.45,202.82 527.05,205.82 514.11,209.92 507.64,212.13 505.10,213.03 504.97,213.13 510.16,215.23 515.06,217.33 519.43,219.33 523.70,221.43 527.46,223.43 531.29,225.63 534.81,227.84 538.05,230.04 541.17,232.34 544.28,234.84 547.24,237.44 550.06,240.14 552.64,242.85 555.36,245.95 557.68,248.85 560.10,252.15 562.46,255.65 564.73,259.36 566.64,262.76 568.74,266.86 570.68,270.96 572.49,275.17 574.27,279.67 575.98,284.37 577.54,289.07 578.97,293.78 580.61,299.68 582.10,305.48 583.43,311.19 584.71,317.19 585.94,323.50 587.11,330.00" fill="none" stroke="#FF0000" stroke-width="1.15" stroke-linejoin="round"/>
<polyline points="662.58,0.00 663.75,6.01 664.43,9.02 665.36,12.62 667.66,21.04 668.69,25.24 670.30,33.26 671.56,40.07 672.56,46.48 673.26,52.29 674.23,63.51 674.74,71.12 674.93,75.93 674.62,95.36 674.25,106.38 674.01,110.58 673.72,114.19 673.42,116.79 673.08,119.00 672.66,120.97 672.17,122.65 671.61,124.06 670.95,125.27 670.18,126.30 669.28,127.18 668.60,127.69 667.85,128.15 666.10,128.94 663.92,129.59 661.27,130.11 658.05,130.53 654.00,130.88 649.10,131.16 643.01,131.39 626.21,131.73 601.43,131.95 562.79,132.10 504.92,132.20 619.62,132.57 642.66,132.73 656.87,132.94 665.69,133.25 668.67,133.47 670.79,133.74 672.31,134.08 673.41,134.53 674.17,135.13 674.69,135.95 674.93,136.69 675.11,137.63 675.33,140.45 675.43,145.71 675.37,152.60 675.26,154.02 674.99,155.66 674.52,157.83 674.09,159.13 672.52,163.18 671.89,164.58 670.96,166.06 669.69,167.56 668.02,169.12 666.49,170.20 663.99,171.60 660.50,173.30 658.08,174.30 655.16,175.40 650.06,177.10 643.12,179.11 636.21,180.81 620.61,184.01 599.36,187.91 576.39,192.41 552.02,197.32 543.98,199.12 534.36,201.52 525.18,204.02 512.97,207.62 506.95,209.52 505.13,210.13 504.97,210.23 510.59,212.23 515.86,214.23 520.52,216.13 525.05,218.13 529.39,220.23 533.19,222.23 536.67,224.23 540.33,226.54 543.65,228.84 546.82,231.24 549.82,233.74 552.66,236.34 555.54,239.24 558.07,242.05 560.70,245.25 563.16,248.55 565.47,251.95 567.56,255.35 569.81,259.36 571.80,263.26 573.71,267.36 575.57,271.76 577.38,276.47 578.94,280.97 580.66,286.37 582.19,291.68 583.66,297.28 585.05,303.08 586.39,309.29 587.67,315.79 588.96,323.00 590.10,330.00" fill="none" stroke="#7E2F8E" stroke-width="1.15" stroke-linejoin="round"/>
</g>
<rect x="504.6" y="5.5" width="179.8" height="320.9" fill="none" stroke="#262626" stroke-width="1"/>
<path d="M504.9 326.4v-3.2 M504.9 5.5v3.2" stroke="#262626" stroke-width="1" fill="none"/>
<path d="M590.2 326.4v-3.2 M590.2 5.5v3.2" stroke="#262626" stroke-width="1" fill="none"/>
<path d="M675.5 326.4v-3.2 M675.5 5.5v3.2" stroke="#262626" stroke-width="1" fill="none"/>
<path d="M504.6 19.6h3.2 M684.4 19.6h-3.2" stroke="#262626" stroke-width="1" fill="none"/>
<text transform="translate(500.00,25.00) scale(1,1.035)" font-size="14.6" text-anchor="end">0.95</text>
<path d="M504.6 92.7h3.2 M684.4 92.7h-3.2" stroke="#262626" stroke-width="1" fill="none"/>
<text transform="translate(500.00,98.15) scale(1,1.035)" font-size="14.6" text-anchor="end">0.90</text>
<path d="M504.6 165.9h3.2 M684.4 165.9h-3.2" stroke="#262626" stroke-width="1" fill="none"/>
<text transform="translate(500.00,171.30) scale(1,1.035)" font-size="14.6" text-anchor="end">0.85</text>
<path d="M504.6 239.0h3.2 M684.4 239.0h-3.2" stroke="#262626" stroke-width="1" fill="none"/>
<text transform="translate(500.00,244.45) scale(1,1.035)" font-size="14.6" text-anchor="end">0.80</text>
<path d="M504.6 312.2h3.2 M684.4 312.2h-3.2" stroke="#262626" stroke-width="1" fill="none"/>
<text transform="translate(500.00,317.60) scale(1,1.035)" font-size="14.6" text-anchor="end">0.75</text>
<text transform="translate(504.90,345.80) scale(1,1.035)" font-size="14.6" text-anchor="middle">0</text>
<text transform="translate(590.20,345.80) scale(1,1.035)" font-size="14.6" text-anchor="middle">0.5</text>
<text transform="translate(675.50,345.80) scale(1,1.035)" font-size="14.6" text-anchor="middle">1</text>
<text transform="translate(596.60,363.50) scale(1,1.035)" font-size="15" text-anchor="middle">|<tspan font-style="italic">T</tspan>|</text>
<text transform="translate(467.50,165.00) rotate(-90) scale(1,1.035)" font-size="15" text-anchor="middle">Normalized frequency <tspan font-style="italic">ω</tspan>/<tspan font-style="italic">ω</tspan><tspan dy="3.3" font-size="10.50">0</tspan></text>
<line x1="566.9" x2="595.6" y1="207.2" y2="207.2" stroke="#EDB120" stroke-width="1.1"/>
<text transform="translate(597.40,213.10) scale(1,1.035)" font-size="15" text-anchor="start"><tspan font-style="italic">K</tspan><tspan dy="3.3" font-size="10.50">3</tspan><tspan dy="-3.3">/</tspan><tspan font-style="italic">K</tspan><tspan dy="3.3" font-size="10.50">1</tspan><tspan dy="-3.3"> = 0.95</tspan></text>
<line x1="566.9" x2="595.6" y1="228.4" y2="228.4" stroke="#FF0000" stroke-width="1.1"/>
<text transform="translate(597.40,234.30) scale(1,1.035)" font-size="15" text-anchor="start"><tspan font-style="italic">K</tspan><tspan dy="3.3" font-size="10.50">3</tspan><tspan dy="-3.3">/</tspan><tspan font-style="italic">K</tspan><tspan dy="3.3" font-size="10.50">1</tspan><tspan dy="-3.3"> = 1.00</tspan></text>
<line x1="566.9" x2="595.6" y1="249.4" y2="249.4" stroke="#7E2F8E" stroke-width="1.1"/>
<text transform="translate(597.40,255.30) scale(1,1.035)" font-size="15" text-anchor="start"><tspan font-style="italic">K</tspan><tspan dy="3.3" font-size="10.50">3</tspan><tspan dy="-3.3">/</tspan><tspan font-style="italic">K</tspan><tspan dy="3.3" font-size="10.50">1</tspan><tspan dy="-3.3"> = 1.05</tspan></text>
</svg></body></html>
